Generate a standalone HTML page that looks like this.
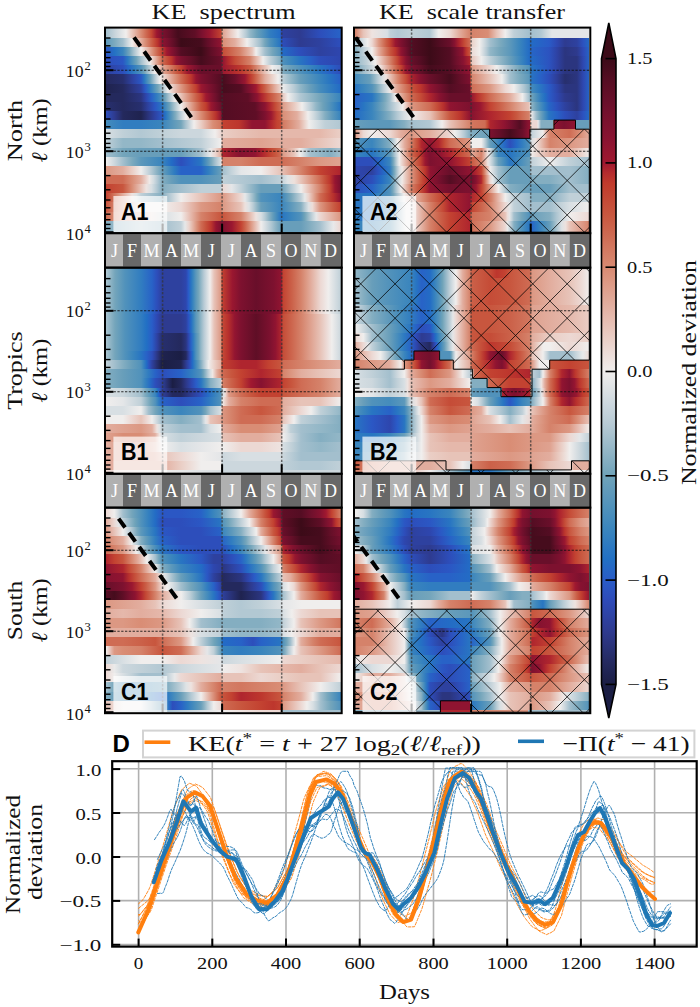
<!DOCTYPE html><html><head><meta charset="utf-8"><style>
body{margin:0;background:#fff;width:700px;height:1007px;overflow:hidden;position:relative}
#hm div{position:absolute}
svg{position:absolute;left:0;top:0}
text{font-family:"Liberation Serif",serif;fill:#111}
.mo{fill:#fff;font-size:18px;text-anchor:middle}
.tk{font-size:17px}
.cb{font-size:17px}
.lbl{font-size:21px}
.ttl{font-size:22px}
.lg{font-size:22px}
.gv{stroke:#333;stroke-width:1.5;stroke-dasharray:2.3 1.6;opacity:.7}
.gh{stroke:#111;stroke-width:1.1;stroke-dasharray:2.3 1.5;opacity:.85}
.pl{font-family:"Liberation Sans",sans-serif;font-weight:bold;font-size:23px;fill:#000}
</style></head><body><div id="hm"><div style="top:28px;height:11px;left:106.0px;width:234.7px;background:linear-gradient(90deg,#a3bfcd 0.0px,#ccd7dd 10.0px,#f0eeed 20.0px,#eacec5 25.0px,#e2ad9e 30.0px,#d98d75 35.0px,#ce6951 40.2px,#c44734 45.5px,#9d1730 50.8px,#7d112f 56.0px,#640f28 64.0px,#460c1d 72.0px,#5f0e26 89.0px,#7d112f 96.5px,#9a1730 104.0px,#c34231 115.0px,#cb6149 115.5px,#d5826a 116.0px,#dfa290 116.5px,#e6bcb0 121.7px,#ebd5ce 126.8px,#f0eeed 132.0px,#d4dce1 136.0px,#b7cbd5 140.0px,#93b7c7 144.0px,#6ba0b9 150.7px,#4d90bc 157.3px,#317dc0 164.0px,#236cc5 174.0px,#2c52c0 175.0px,#2e419f 176.0px,#2e3b90 194.0px,#2d4ebb 214.0px,#2862c7 234.0px)"></div>
<div style="top:38px;height:10px;left:106.0px;width:234.7px;background:linear-gradient(90deg,#5c98bb 0.0px,#7caabe 8.5px,#a3bfcd 17.0px,#ccd7dd 21.5px,#f0eeed 26.0px,#eacec5 30.5px,#e2ad9e 35.0px,#d98f78 39.2px,#d07058 43.4px,#c7523c 47.6px,#ba322d 51.8px,#901431 56.0px,#77112e 62.3px,#5b0e25 68.7px,#3c0b18 75.0px,#460c1d 95.0px,#620e28 101.7px,#7a112e 108.3px,#901431 115.0px,#b9322d 115.4px,#c6513b 115.8px,#cf6f57 116.1px,#d98d75 116.5px,#e2ad9e 129.0px,#eacec5 135.0px,#f0eeed 141.0px,#ccd7dd 147.5px,#a3bfcd 154.0px,#74a5bb 159.0px,#5192bb 164.0px,#3a85bd 169.0px,#2875c2 174.0px,#2862c7 175.0px,#2d4ebb 176.0px,#2e3b90 194.0px,#2e419f 214.0px,#2d4ebb 234.0px)"></div>
<div style="top:47px;height:10px;left:106.0px;width:234.7px;background:linear-gradient(90deg,#2b57c4 0.0px,#2471c4 8.5px,#3a85bd 17.0px,#5a97bb 20.6px,#7daabe 24.2px,#a9c3cf 27.8px,#ced9de 31.4px,#f0eeed 35.0px,#e9cbc3 39.2px,#e1a998 43.4px,#d7866e 47.6px,#cc634b 51.8px,#c34231 56.0px,#a01830 60.8px,#861230 65.5px,#6e102c 70.2px,#540d23 75.0px,#3c0b18 95.0px,#5f0e26 105.0px,#7d112f 115.0px,#931531 115.5px,#b8302d 116.0px,#c54c37 116.5px,#cd664e 125.2px,#d5826a 134.0px,#dfa290 140.0px,#e7c3b8 146.0px,#ecd8d3 148.0px,#f0eeed 150.0px,#ccd7dd 154.5px,#a3bfcd 159.0px,#74a5bb 166.5px,#5192bb 174.0px,#3581bf 175.0px,#236cc5 176.0px,#2d4ebb 194.0px,#2e419f 214.0px,#2e46ae 234.0px)"></div>
<div style="top:56px;height:10px;left:106.0px;width:234.7px;background:linear-gradient(90deg,#2d4ebb 0.0px,#2b57c4 17.0px,#2a77c2 21.5px,#4b8fbc 26.0px,#70a3b9 30.5px,#a3bfcd 35.0px,#ccd7dd 39.5px,#f0eeed 44.0px,#eacec5 47.0px,#e2ad9e 50.0px,#d98d75 53.0px,#cf6c54 56.0px,#c6513b 60.8px,#bd362d 65.5px,#951531 70.2px,#7d112f 75.0px,#640f28 85.0px,#460c1d 95.0px,#690f2a 115.0px,#7d112f 115.8px,#901431 116.5px,#b62d2d 122.8px,#c54c37 129.0px,#cd664e 136.5px,#d5826a 144.0px,#dd9d8a 147.2px,#e5b8ab 150.5px,#ebd3cc 153.8px,#f0eeed 157.0px,#d8dfe3 160.5px,#c0d0d8 164.0px,#a3bfcd 169.0px,#84aec1 174.0px,#689eba 175.0px,#5192bb 176.0px,#3a85bd 185.0px,#2875c2 194.0px,#2862c7 204.0px,#2d4ebb 214.0px,#2e46ae 234.0px)"></div>
<div style="top:65px;height:10px;left:106.0px;width:234.7px;background:linear-gradient(90deg,#2e419f 0.0px,#2d4ebb 17.0px,#2569c5 23.0px,#3480bf 29.0px,#5192bb 35.0px,#74a5bb 38.5px,#a3bfcd 42.0px,#ccd7dd 45.5px,#f0eeed 49.0px,#eacec5 52.5px,#e2ad9e 56.0px,#da927c 60.8px,#d2775f 65.5px,#c95b43 70.2px,#c34231 75.0px,#9d1830 81.7px,#831230 88.3px,#690f2a 95.0px,#690f2a 115.0px,#81122f 115.8px,#9a1730 116.5px,#bd362d 134.0px,#c8563e 144.0px,#d1735b 148.0px,#da907a 152.0px,#e2ad9e 156.0px,#eacec5 161.0px,#f0eeed 166.0px,#d8dfe3 174.0px,#b2c8d3 175.0px,#84aec1 176.0px,#689eba 185.0px,#5192bb 194.0px,#3a85bd 204.0px,#2875c2 214.0px,#2862c7 224.0px,#2d4ebb 234.0px)"></div>
<div style="top:74px;height:11px;left:106.0px;width:234.7px;background:linear-gradient(90deg,#24295d 0.0px,#272f6e 17.0px,#2e419f 26.0px,#2b57c4 35.0px,#2a77c2 38.2px,#498ebc 41.3px,#6da1b9 44.5px,#9ebccb 47.7px,#cad6dd 50.8px,#f0eeed 54.0px,#eacec5 59.2px,#e2ad9e 64.5px,#d98d75 69.8px,#cf6c54 75.0px,#c6513b 80.0px,#bd362d 85.0px,#951531 90.0px,#7d112f 95.0px,#690f2a 105.0px,#540d23 115.0px,#460c1d 116.5px,#690f2a 129.0px,#80122f 134.0px,#971630 139.0px,#bd362d 144.0px,#c7533d 147.8px,#d07159 151.5px,#da9079 155.2px,#e2ad9e 159.0px,#eacec5 165.5px,#f0eeed 172.0px,#e4e6e8 174.0px,#c0d0d8 176.0px,#93b7c7 185.0px,#689eba 194.0px,#5192bb 204.0px,#3a85bd 214.0px,#2875c2 224.0px,#2862c7 234.0px)"></div>
<div style="top:84px;height:10px;left:106.0px;width:234.7px;background:linear-gradient(90deg,#1f234f 0.0px,#24295d 17.0px,#2b357f 26.0px,#2e419f 35.0px,#2b59c6 39.2px,#2c78c1 43.4px,#4c8fbc 47.6px,#71a4b9 51.8px,#a3bfcd 56.0px,#ccd7dd 59.0px,#f0eeed 62.0px,#ead1ca 66.3px,#e4b4a7 70.7px,#dc9883 75.0px,#d37a62 80.0px,#c95b43 85.0px,#c23f2f 90.0px,#9a1730 95.0px,#831230 101.7px,#6d0f2b 108.3px,#540d23 115.0px,#460c1d 116.5px,#540d23 135.0px,#6e102c 140.0px,#861230 145.0px,#a01830 150.0px,#c34231 155.0px,#c95b43 158.5px,#d2775f 162.0px,#da927c 165.5px,#e2ad9e 169.0px,#e7c3b8 172.0px,#ecd8d3 175.0px,#f0eeed 176.0px,#d4dce1 182.0px,#b7cbd5 188.0px,#93b7c7 194.0px,#689eba 204.0px,#458cbc 214.0px,#317dc0 224.0px,#236cc5 234.0px)"></div>
<div style="top:93px;height:10px;left:106.0px;width:234.7px;background:linear-gradient(90deg,#24295d 0.0px,#24295d 17.0px,#2b357f 35.0px,#2e46ae 40.2px,#2862c7 45.5px,#317dc0 50.8px,#5192bb 56.0px,#74a5bb 59.2px,#a3bfcd 62.5px,#ccd7dd 65.8px,#f0eeed 69.0px,#ecd8d3 72.0px,#e7c3b8 75.0px,#dfa290 80.0px,#d5826a 85.0px,#cb6149 90.0px,#c34231 95.0px,#a01830 100.0px,#861230 105.0px,#6e102c 110.0px,#540d23 115.0px,#540d23 116.5px,#5f0e26 142.0px,#77112e 146.7px,#8c1331 151.3px,#af252e 156.0px,#c54c37 162.5px,#cf6c54 169.0px,#d98d75 175.0px,#e0a897 175.5px,#e7c3b8 176.0px,#ecd8d3 179.0px,#f0eeed 182.0px,#d2dbe0 188.0px,#b2c8d3 194.0px,#93b7c7 204.0px,#74a5bb 214.0px,#5695bb 224.0px,#3a85bd 234.0px)"></div>
<div style="top:102px;height:10px;left:106.0px;width:234.7px;background:linear-gradient(90deg,#272f6e 0.0px,#24295d 17.0px,#272f6e 35.0px,#2e419f 42.0px,#2b57c4 49.0px,#2875c2 56.0px,#478dbc 59.8px,#6ca1b9 63.6px,#9cbcca 67.4px,#c9d6dc 71.2px,#f0eeed 75.0px,#ead0c8 79.0px,#e3b2a3 83.0px,#db937e 87.0px,#d1755d 91.0px,#c8563e 95.0px,#c13d2d 100.0px,#9a1730 105.0px,#81122f 110.0px,#690f2a 115.0px,#540d23 116.5px,#5f0e26 149.0px,#77112e 154.0px,#8c1331 159.0px,#af252e 164.0px,#c54c37 169.5px,#cf6c54 175.0px,#d5826a 175.5px,#dc9883 176.0px,#e3b3a4 182.5px,#eacec5 189.0px,#f0eeed 196.0px,#d4dce1 200.7px,#b7cbd5 205.3px,#93b7c7 210.0px,#6da1b9 217.0px,#5192bb 224.0px,#3a85bd 229.0px,#2875c2 234.0px)"></div>
<div style="top:111px;height:10px;left:106.0px;width:234.7px;background:linear-gradient(90deg,#2d4ebb 0.0px,#2e3b90 8.5px,#24295d 17.0px,#1f234f 35.0px,#2a337a 42.0px,#2e43a4 49.0px,#2b57c4 56.0px,#2573c3 59.3px,#3e87bd 62.7px,#5c98bb 66.0px,#80acbf 69.5px,#aac3d0 73.0px,#cfd9df 76.5px,#f0eeed 80.0px,#eacec5 85.0px,#e2ad9e 90.0px,#d98d75 95.0px,#cf6f57 100.0px,#c6513b 105.0px,#b9322d 110.0px,#901431 115.0px,#73102d 115.8px,#540d23 116.5px,#5f0e26 150.0px,#7d112f 159.0px,#9a1730 165.0px,#c34231 171.0px,#c8563e 175.0px,#d07159 175.5px,#d98d75 176.0px,#e2ad9e 191.0px,#eacec5 196.5px,#f0eeed 202.0px,#d0dadf 207.7px,#adc5d1 213.3px,#84aec1 219.0px,#5c98bb 226.5px,#3a85bd 234.0px)"></div>
<div style="top:120px;height:10px;left:106.0px;width:234.7px;background:linear-gradient(90deg,#458cbc 0.0px,#317dc0 17.0px,#317dc0 35.0px,#3a85bd 56.0px,#5695bb 65.5px,#74a5bb 75.0px,#a3bfcd 79.3px,#ccd7dd 83.7px,#f0eeed 88.0px,#eacec5 95.0px,#e2ad9e 101.0px,#d98d75 107.0px,#d2775f 115.0px,#c95b43 115.8px,#c34231 116.5px,#bd362d 133.0px,#901431 146.0px,#901431 159.0px,#af252e 165.0px,#c34231 171.0px,#c54c37 175.0px,#cb6149 175.5px,#d2775f 176.0px,#da927c 184.5px,#e2ad9e 193.0px,#eacec5 198.0px,#f0eeed 203.0px,#d8dfe3 211.0px,#c0d0d8 219.0px,#b2c8d3 234.0px)"></div>
<div style="top:129px;height:10px;left:106.0px;width:234.7px;background:linear-gradient(90deg,#d8dfe3 0.0px,#c0d0d8 17.0px,#b2c8d3 35.0px,#c0d0d8 56.0px,#ccd7dd 75.0px,#ccd7dd 95.0px,#f0eeed 109.0px,#ecd8d3 115.0px,#eacec5 116.5px,#e7c3b8 134.0px,#e5b8ab 155.0px,#e5b8ab 175.0px,#e5b8ab 195.0px,#e5b8ab 214.0px,#eacec5 234.0px)"></div>
<div style="top:138px;height:11px;left:106.0px;width:234.7px;background:linear-gradient(90deg,#c0d0d8 0.0px,#93b7c7 17.0px,#93b7c7 35.0px,#a3bfcd 56.0px,#b2c8d3 75.0px,#c0d0d8 95.0px,#d8dfe3 105.0px,#f0eeed 115.0px,#eacec5 115.8px,#e2ad9e 116.5px,#dfa290 155.0px,#e2ad9e 175.0px,#e2ad9e 195.0px,#e7c3b8 214.0px,#ecd8d3 234.0px)"></div>
<div style="top:148px;height:10px;left:106.0px;width:234.7px;background:linear-gradient(90deg,#a3bfcd 0.0px,#74a5bb 17.0px,#689eba 35.0px,#689eba 56.0px,#689eba 75.0px,#84aec1 85.0px,#a3bfcd 95.0px,#c8d5dc 99.7px,#e8e9ea 104.3px,#ecd8d3 109.0px,#e7c3b8 112.0px,#e2ad9e 115.0px,#d98d75 115.4px,#cf6c54 115.8px,#c54c37 116.1px,#af252e 116.5px,#861230 134.0px,#901431 149.0px,#af252e 156.5px,#c34231 164.0px,#c8563e 169.5px,#cf6c54 175.0px,#d5826a 175.5px,#dc9883 176.0px,#e2ad9e 182.0px,#e7c3b8 188.0px,#ecd8d3 191.0px,#f0eeed 194.0px,#ccd7dd 199.0px,#a3bfcd 204.0px,#84aec1 224.0px,#a3bfcd 234.0px)"></div>
<div style="top:157px;height:10px;left:106.0px;width:234.7px;background:linear-gradient(90deg,#f0eeed 0.0px,#ccd7dd 8.5px,#a3bfcd 17.0px,#7caabe 26.0px,#5c98bb 35.0px,#3a85bd 56.0px,#236cc5 65.5px,#2d4ebb 75.0px,#2862c7 85.0px,#2875c2 95.0px,#3f88bd 98.5px,#5c98bb 102.0px,#7caabe 105.5px,#a3bfcd 109.0px,#c0d0d8 112.0px,#d8dfe3 115.0px,#eee3e0 115.4px,#e7c3b8 115.8px,#dfa290 116.1px,#d5826a 116.5px,#d5826a 135.0px,#cf6c54 155.0px,#cf6c54 175.0px,#d5826a 195.0px,#dc9883 214.0px,#dfa290 234.0px)"></div>
<div style="top:166px;height:10px;left:106.0px;width:234.7px;background:linear-gradient(90deg,#dc9883 0.0px,#e2ad9e 17.0px,#eacec5 26.0px,#f0eeed 35.0px,#d2dbe0 40.2px,#b2c8d3 45.5px,#8bb2c4 50.8px,#689eba 56.0px,#498ebc 62.3px,#2e7bc1 68.7px,#2862c7 75.0px,#2862c7 95.0px,#2e7bc1 101.7px,#498ebc 108.3px,#689eba 115.0px,#84aec1 115.8px,#a3bfcd 116.5px,#c6d4db 125.8px,#e4e6e8 135.0px,#f0eeed 155.0px,#ecd8d3 165.0px,#e7c3b8 175.0px,#dfa290 185.0px,#d5826a 195.0px,#cb6149 204.5px,#c34231 214.0px,#af252e 234.0px)"></div>
<div style="top:175px;height:10px;left:106.0px;width:234.7px;background:linear-gradient(90deg,#cf6c54 0.0px,#cf6c54 17.0px,#d98d75 26.0px,#e2ad9e 35.0px,#e9cbc3 39.2px,#efeae8 43.4px,#d3dce1 47.6px,#afc6d2 51.8px,#84aec1 56.0px,#689eba 65.5px,#5192bb 75.0px,#5192bb 95.0px,#689eba 115.0px,#93b7c7 115.8px,#c0d0d8 116.5px,#b2c8d3 135.0px,#a3bfcd 155.0px,#c0d0d8 175.0px,#e0e4e6 181.7px,#ede0db 188.3px,#e7c3b8 195.0px,#e0a695 201.3px,#d88971 207.7px,#cf6c54 214.0px,#c6513b 219.0px,#bd362d 224.0px,#951531 229.0px,#7d112f 234.0px)"></div>
<div style="top:184px;height:10px;left:106.0px;width:234.7px;background:linear-gradient(90deg,#c34231 0.0px,#c8563e 17.0px,#d07159 21.5px,#d98d75 26.0px,#e0a897 30.5px,#e7c3b8 35.0px,#eee3e0 40.2px,#d8dfe3 45.5px,#b2c8d3 50.8px,#84aec1 56.0px,#a3bfcd 75.0px,#c0d0d8 95.0px,#c0d0d8 115.0px,#e4e6e8 115.8px,#ecd8d3 116.5px,#e4e6e8 125.8px,#c0d0d8 135.0px,#93b7c7 145.0px,#689eba 155.0px,#689eba 175.0px,#8bb2c4 180.0px,#b2c8d3 185.0px,#d2dbe0 190.0px,#f0eeed 195.0px,#ebd3cc 199.8px,#e5b8ab 204.5px,#dd9d8a 209.2px,#d5826a 214.0px,#cb6149 219.0px,#c34231 224.0px,#9a1730 229.0px,#7d112f 234.0px)"></div>
<div style="top:193px;height:10px;left:106.0px;width:234.7px;background:linear-gradient(90deg,#c34231 0.0px,#c95b43 4.2px,#d2775f 8.5px,#da927c 12.8px,#e2ad9e 17.0px,#e8c8bf 21.5px,#eee3e0 26.0px,#dee3e5 30.5px,#c0d0d8 35.0px,#a3bfcd 45.5px,#84aec1 56.0px,#adc5d1 62.3px,#d0dadf 68.7px,#f0eeed 75.0px,#ecd8d3 85.0px,#e7c3b8 95.0px,#e2ad9e 105.0px,#dc9883 115.0px,#dc9883 116.5px,#e5b8ab 125.8px,#ecd8d3 135.0px,#e6e8e9 139.0px,#c4d3da 143.0px,#9cbcca 147.0px,#71a4b9 151.0px,#5192bb 155.0px,#3a85bd 175.0px,#5695bb 180.0px,#74a5bb 185.0px,#9bbbca 190.0px,#c0d0d8 195.0px,#e6e8e9 198.8px,#ebd4cd 202.6px,#e3b2a3 206.4px,#d98f78 210.2px,#cf6c54 214.0px,#c64f3a 220.7px,#b8302d 227.3px,#901431 234.0px)"></div>
<div style="top:202px;height:11px;left:106.0px;width:234.7px;background:linear-gradient(90deg,#c8563e 0.0px,#d1735b 5.7px,#da907a 11.3px,#e2ad9e 17.0px,#eacec5 26.0px,#f0eeed 35.0px,#f0eeed 56.0px,#ecd8d3 75.0px,#e5b8ab 85.0px,#dc9883 95.0px,#d5826a 115.0px,#dc9883 116.5px,#e2ad9e 125.8px,#e7c3b8 135.0px,#ede1dd 139.0px,#dde2e5 143.0px,#bbcdd6 147.0px,#90b5c5 151.0px,#689eba 155.0px,#5192bb 165.0px,#3a85bd 175.0px,#5c98bb 185.0px,#84aec1 195.0px,#b5cad4 198.8px,#dde2e5 202.6px,#edddd8 206.4px,#e5baae 210.2px,#dc9883 214.0px,#d37a62 220.7px,#ca5d45 227.3px,#c34231 234.0px)"></div>
<div style="top:212px;height:10px;left:106.0px;width:234.7px;background:linear-gradient(90deg,#cf6c54 0.0px,#d98d75 8.5px,#e2ad9e 17.0px,#e7c3b8 35.0px,#eee3e0 45.5px,#d8dfe3 56.0px,#f0eeed 75.0px,#ebd3cc 80.0px,#e5b8ab 85.0px,#dd9d8a 90.0px,#d5826a 95.0px,#cf6c54 105.0px,#c8563e 115.0px,#c8563e 116.5px,#cf6c54 125.8px,#d5826a 135.0px,#dfa290 140.0px,#e7c3b8 145.0px,#eee3e0 150.0px,#d8dfe3 155.0px,#b5cad4 159.0px,#8ab1c3 163.0px,#639cba 167.0px,#438abc 171.0px,#2875c2 175.0px,#3a85bd 185.0px,#5192bb 195.0px,#71a4b9 198.8px,#9cbcca 202.6px,#c4d3da 206.4px,#e6e8e9 210.2px,#ecd8d3 214.0px,#e5b8ab 224.0px,#dc9883 234.0px)"></div>
<div style="top:221px;height:11px;left:106.0px;width:234.7px;background:linear-gradient(90deg,#84aec1 0.0px,#a3bfcd 17.0px,#c0d0d8 35.0px,#a3bfcd 56.0px,#c0d0d8 75.0px,#e6e8e9 79.0px,#ebd4cd 83.0px,#e3b2a3 87.0px,#d98f78 91.0px,#cf6c54 95.0px,#c6513b 100.0px,#bd362d 105.0px,#951531 110.0px,#7d112f 115.0px,#7d112f 116.5px,#9a1730 125.8px,#c34231 135.0px,#cc634b 139.0px,#d7866e 143.0px,#e1a998 147.0px,#e9cbc3 151.0px,#f0eeed 155.0px,#d2dbe0 160.0px,#b2c8d3 165.0px,#8bb2c4 170.0px,#689eba 175.0px,#689eba 195.0px,#84aec1 204.5px,#a3bfcd 214.0px,#c8d5dc 220.7px,#e8e9ea 227.3px,#ecd8d3 234.0px)"></div>
<div style="top:28px;height:11px;left:355.0px;width:234.3px;background:linear-gradient(90deg,#d5826a 0.0px,#dfa290 4.1px,#e7c3b8 8.3px,#eee3e0 17.0px,#d8dfe3 32.3px,#c0d0d8 35.0px,#b2c8d3 42.6px,#c0d0d8 56.0px,#b2c8d3 75.0px,#d2dbe0 79.4px,#f0eeed 83.7px,#ecd8d3 95.0px,#e7c3b8 99.6px,#e2ad9e 104.3px,#dc9883 109.6px,#d5826a 115.0px,#d5826a 116.0px,#d98d75 133.1px,#e0a897 137.4px,#e7c3b8 141.7px,#ecd8d3 146.0px,#f0eeed 150.3px,#d8dfe3 154.6px,#c0d0d8 158.9px,#a3bfcd 174.3px,#a3bfcd 176.0px,#b2c8d3 186.0px,#ccd7dd 191.5px,#e4e6e8 197.0px,#e4e6e8 234.6px)"></div>
<div style="top:38px;height:10px;left:355.0px;width:234.3px;background:linear-gradient(90deg,#a3bfcd 0.0px,#c0d0d8 4.1px,#d8dfe3 8.3px,#f0eeed 12.6px,#ecd8d3 17.0px,#e5b8ab 20.4px,#dc9883 23.7px,#d37a62 27.5px,#ca5d45 31.2px,#c34231 35.0px,#9a1730 40.5px,#7d112f 46.0px,#690f2a 51.0px,#540d23 56.0px,#3c0b18 75.0px,#540d23 85.0px,#690f2a 95.0px,#861230 99.6px,#af252e 104.3px,#c54c37 109.6px,#cf6c54 115.0px,#d98d75 115.3px,#e2ad9e 115.7px,#eacec5 116.0px,#f0eeed 124.6px,#ccd7dd 129.8px,#a3bfcd 135.0px,#7caabe 145.0px,#5c98bb 155.0px,#3a85bd 164.6px,#236cc5 174.3px,#236cc5 176.0px,#2a5bc7 194.0px,#2e48b2 202.0px,#2e3b90 210.0px,#2e419f 222.0px,#2c52c0 228.3px,#236cc5 234.6px)"></div>
<div style="top:47px;height:10px;left:355.0px;width:234.3px;background:linear-gradient(90deg,#84aec1 0.0px,#adc5d1 5.7px,#d0dadf 11.3px,#f0eeed 17.0px,#eacec5 20.4px,#e2ad9e 23.7px,#da907a 27.5px,#d1735b 31.2px,#c8563e 35.0px,#bd362d 40.5px,#901431 46.0px,#73102d 51.0px,#540d23 56.0px,#3c0b18 75.0px,#540d23 95.0px,#73102d 101.4px,#901431 107.7px,#bd362d 111.4px,#c8563e 115.0px,#d2775f 115.2px,#dc9883 115.5px,#e5b8ab 115.8px,#ecd8d3 116.0px,#f0eeed 124.6px,#d4dce1 128.1px,#b7cbd5 131.5px,#93b7c7 135.0px,#74a5bb 145.0px,#5c98bb 155.0px,#3a85bd 164.6px,#236cc5 174.3px,#2666c6 176.0px,#2c53c0 194.0px,#2e42a4 202.0px,#2b357f 210.0px,#2e3a8d 222.0px,#2e4ab8 228.3px,#2666c6 234.6px)"></div>
<div style="top:56px;height:10px;left:355.0px;width:234.3px;background:linear-gradient(90deg,#93b7c7 0.0px,#c0d0d8 11.7px,#d8dfe3 16.0px,#f0eeed 20.3px,#ebd3cc 24.0px,#e5b8ab 27.6px,#dd9d8a 31.3px,#d5826a 35.0px,#cc644c 38.7px,#c44835 42.3px,#af252e 46.0px,#861230 51.0px,#690f2a 56.0px,#540d23 65.5px,#3c0b18 75.0px,#540d23 95.0px,#70102c 101.7px,#891331 108.3px,#af252e 115.0px,#c54a36 115.2px,#cd674f 115.4px,#d7866e 115.6px,#dfa593 115.8px,#e7c3b8 116.0px,#ecd8d3 121.1px,#f0eeed 126.3px,#d8dfe3 130.6px,#c0d0d8 135.0px,#93b7c7 145.0px,#689eba 155.0px,#4d90bc 161.4px,#3480bf 167.9px,#236cc5 174.3px,#236cc5 176.0px,#2c53c0 194.0px,#2e42a4 202.0px,#2b357f 210.0px,#2b357f 222.0px,#2e48b2 228.3px,#2666c6 234.6px)"></div>
<div style="top:65px;height:10px;left:355.0px;width:234.3px;background:linear-gradient(90deg,#74a5bb 0.0px,#9bbbca 7.6px,#c0d0d8 15.1px,#d8dfe3 19.4px,#f0eeed 23.7px,#ead1ca 27.5px,#e4b4a7 31.2px,#dc9883 35.0px,#d37a62 38.7px,#ca5d45 42.3px,#c34231 46.0px,#9a1730 51.0px,#7d112f 56.0px,#640f28 65.5px,#460c1d 75.0px,#540d23 95.0px,#73102d 105.0px,#901431 115.0px,#bd362d 115.2px,#c8563e 115.5px,#d2775f 115.8px,#dc9883 116.0px,#e5b8ab 125.5px,#ecd8d3 135.0px,#f0eeed 141.7px,#ccd7dd 148.4px,#a3bfcd 155.0px,#74a5bb 164.6px,#5192bb 174.3px,#3a85bd 175.1px,#2875c2 176.0px,#2665c6 185.0px,#2c53c0 194.0px,#2e42a4 202.0px,#2b357f 210.0px,#2b357f 222.0px,#2e48b2 228.3px,#2666c6 234.6px)"></div>
<div style="top:74px;height:11px;left:355.0px;width:234.3px;background:linear-gradient(90deg,#458cbc 0.0px,#689eba 15.1px,#8eb4c5 19.1px,#b7cbd5 23.1px,#d8dfe3 27.1px,#eee3e0 31.1px,#e7c3b8 35.0px,#e0a695 38.7px,#d88971 42.3px,#cf6c54 46.0px,#c54c37 51.0px,#af252e 56.0px,#861230 65.5px,#690f2a 75.0px,#460c1d 95.0px,#640f28 105.0px,#7d112f 115.0px,#9a1730 115.2px,#c34231 115.5px,#cb6149 115.8px,#d5826a 116.0px,#dfa290 125.5px,#e7c3b8 135.0px,#ecd8d3 140.9px,#f0eeed 146.9px,#ccd7dd 150.9px,#a3bfcd 155.0px,#7caabe 164.6px,#5c98bb 174.3px,#3f88bd 175.1px,#2875c2 176.0px,#2862c7 185.0px,#2d4ebb 194.0px,#2e3e98 202.0px,#272f6e 210.0px,#2b357f 222.0px,#2e48b2 228.3px,#2666c6 234.6px)"></div>
<div style="top:84px;height:10px;left:355.0px;width:234.3px;background:linear-gradient(90deg,#2875c2 0.0px,#3a85bd 8.5px,#5192bb 17.0px,#6da1b9 20.8px,#93b7c7 24.6px,#baccd6 28.5px,#d8dfe3 32.3px,#efe7e4 35.2px,#e9cac1 38.0px,#e2ad9e 40.9px,#da907a 45.9px,#d1735b 51.0px,#c8563e 56.0px,#bd362d 65.5px,#901431 75.0px,#73102d 85.0px,#540d23 95.0px,#690f2a 115.0px,#861230 115.2px,#af252e 115.5px,#c54c37 115.8px,#cf6c54 116.0px,#d5826a 125.5px,#dc9883 135.0px,#e5b8ab 142.6px,#ecd8d3 150.3px,#f0eeed 158.9px,#d0dadf 164.0px,#adc5d1 169.2px,#84aec1 174.3px,#629bba 175.1px,#458cbc 176.0px,#2a77c2 185.0px,#2a5bc7 194.0px,#2e45aa 202.0px,#2b357f 210.0px,#2b357f 222.0px,#2e48b2 228.3px,#2666c6 234.6px)"></div>
<div style="top:93px;height:10px;left:355.0px;width:234.3px;background:linear-gradient(90deg,#2862c7 0.0px,#2875c2 17.0px,#3f88bd 21.5px,#5c98bb 26.0px,#7caabe 30.5px,#a3bfcd 35.0px,#ccd7dd 37.8px,#f0eeed 40.5px,#eacec5 43.2px,#e2ad9e 46.0px,#d98d75 51.0px,#cf6c54 56.0px,#c54c37 65.5px,#af252e 75.0px,#861230 85.0px,#690f2a 95.0px,#690f2a 115.0px,#7d112f 115.5px,#901431 116.0px,#b8302d 122.3px,#c64f3a 128.7px,#cf6c54 135.0px,#d98d75 145.0px,#e2ad9e 155.0px,#eacec5 161.2px,#f0eeed 167.4px,#ccd7dd 170.8px,#a3bfcd 174.3px,#74a5bb 176.0px,#5192bb 181.0px,#317dc0 186.0px,#236fc4 190.0px,#2a5bc7 194.0px,#2e47b0 202.0px,#2e3a8d 210.0px,#2b357f 222.0px,#2e48b2 228.3px,#2666c6 234.6px)"></div>
<div style="top:102px;height:10px;left:355.0px;width:234.3px;background:linear-gradient(90deg,#2862c7 0.0px,#2875c2 8.5px,#3a85bd 17.0px,#5896bb 23.0px,#79a8bd 29.0px,#a3bfcd 35.0px,#ccd7dd 41.4px,#f0eeed 47.7px,#ead1ca 50.5px,#e4b4a7 53.2px,#dc9883 56.0px,#d5826a 65.5px,#cf6c54 75.0px,#c64f3a 81.7px,#b8302d 88.3px,#901431 95.0px,#7d112f 115.0px,#7d112f 116.0px,#9a1730 125.5px,#c34231 135.0px,#cb6149 145.0px,#d5826a 155.0px,#dc9883 161.2px,#e2ad9e 167.4px,#e7c3b8 174.3px,#ede0dd 174.7px,#dee3e5 175.1px,#bdced7 175.6px,#93b7c7 176.0px,#689eba 181.0px,#458cbc 186.0px,#2e7bc1 190.0px,#2666c6 194.0px,#2d50bd 202.0px,#2e419f 210.0px,#2b357f 222.0px,#2e48b2 228.3px,#2666c6 234.6px)"></div>
<div style="top:111px;height:10px;left:355.0px;width:234.3px;background:linear-gradient(90deg,#236cc5 0.0px,#3a85bd 17.0px,#5c98bb 26.0px,#84aec1 35.0px,#b2c8d3 42.2px,#d8dfe3 49.4px,#f0eeed 56.0px,#ecd8d3 65.5px,#e7c3b8 75.0px,#e0a897 80.0px,#d98d75 85.0px,#d07159 90.0px,#c8563e 95.0px,#bd362d 105.0px,#901431 115.0px,#861230 116.0px,#af252e 135.0px,#c34231 155.0px,#c8563e 161.2px,#cf6c54 167.4px,#d5826a 174.3px,#dd9d8a 174.7px,#e5b8ab 175.1px,#ebd3cc 175.6px,#f0eeed 176.0px,#ccd7dd 178.5px,#a3bfcd 181.0px,#7caabe 184.2px,#5c98bb 187.5px,#3f88bd 190.8px,#2875c2 194.0px,#2862c7 202.0px,#2d4ebb 210.0px,#2e419f 222.0px,#2c52c0 228.3px,#236cc5 234.6px)"></div>
<div style="top:120px;height:10px;left:355.0px;width:234.3px;background:linear-gradient(90deg,#689eba 0.0px,#5c98bb 17.0px,#5c98bb 35.0px,#84aec1 49.4px,#a3bfcd 56.0px,#b2c8d3 75.0px,#d2dbe0 81.1px,#f0eeed 87.1px,#ecd8d3 91.1px,#e7c3b8 95.0px,#dfa290 105.0px,#d5826a 115.0px,#d2775f 116.0px,#cf6c54 130.0px,#c54c37 132.5px,#af252e 135.0px,#901431 149.0px,#73102d 157.0px,#540d23 165.0px,#73102d 169.8px,#901431 174.5px,#bd362d 174.8px,#c8563e 175.0px,#d2775f 175.2px,#dc9883 175.5px,#e5b8ab 175.8px,#ecd8d3 176.0px,#ecd8d3 182.0px,#eaeaea 183.0px,#ccd7dd 184.0px,#aac3d0 185.0px,#84aec1 186.0px,#84aec1 198.0px,#b4c9d3 198.1px,#dae1e4 198.2px,#ede0db 198.3px,#e6beb2 198.4px,#dd9c89 198.6px,#d37a62 198.7px,#c85840 198.8px,#be372c 198.9px,#901431 199.0px,#7d112f 209.0px,#901431 220.0px,#bd362d 220.1px,#c8563e 220.2px,#d2775f 220.3px,#dc9883 220.4px,#e5b8ab 220.5px,#ecd8d3 220.6px,#e4e6e8 220.7px,#c0d0d8 220.8px,#93b7c7 220.9px,#689eba 221.0px,#689eba 234.6px)"></div>
<div style="top:129px;height:10px;left:355.0px;width:234.3px;background:linear-gradient(90deg,#dc9883 0.0px,#e5b8ab 4.1px,#ecd8d3 8.3px,#f0eeed 17.0px,#ecd8d3 35.0px,#e7c3b8 40.5px,#e2ad9e 46.0px,#dc9883 56.0px,#e2ad9e 75.0px,#e7c3b8 85.0px,#ecd8d3 95.0px,#f0eeed 99.6px,#d8dfe3 104.3px,#b2c8d3 109.6px,#84aec1 115.0px,#84aec1 116.0px,#689eba 134.0px,#96b8c8 134.1px,#c4d3da 134.1px,#ebebeb 134.2px,#ead0c8 134.2px,#e2ad9e 134.3px,#d88b73 134.4px,#cd674f 134.4px,#c44633 134.5px,#9c1730 134.5px,#7d112f 134.6px,#640f28 144.8px,#460c1d 155.0px,#690f2a 167.4px,#7d112f 171.0px,#901431 174.5px,#bd362d 174.7px,#c8563e 174.9px,#d2775f 175.1px,#dc9883 175.2px,#e5b8ab 175.4px,#ecd8d3 175.6px,#e4e6e8 175.8px,#c0d0d8 176.0px,#d8dfe3 182.0px,#f0eeed 188.0px,#ead1ca 189.7px,#e4b4a7 191.3px,#dc9883 193.0px,#d5826a 195.0px,#cf6c54 214.6px,#d98d75 224.6px,#e2ad9e 234.6px)"></div>
<div style="top:138px;height:11px;left:355.0px;width:234.3px;background:linear-gradient(90deg,#5192bb 0.0px,#3a85bd 17.0px,#5c98bb 26.0px,#84aec1 35.0px,#adc5d1 37.5px,#d0dadf 40.1px,#f0eeed 42.6px,#eacec5 46.0px,#e2ad9e 49.4px,#dc9883 52.7px,#d5826a 56.0px,#cc644c 59.5px,#c44835 63.1px,#af252e 66.6px,#901431 75.0px,#af252e 83.7px,#c54c37 89.4px,#cf6c54 95.0px,#d5826a 105.0px,#dc9883 115.0px,#e4b4a7 115.3px,#ead1ca 115.7px,#f0eeed 116.0px,#f0eeed 126.3px,#d2dbe0 128.5px,#b2c8d3 130.6px,#8bb2c4 132.8px,#689eba 135.0px,#4b8fbc 140.0px,#317dc0 145.0px,#2667c6 150.0px,#2d4ebb 155.0px,#2569c5 161.5px,#3480bf 168.0px,#5192bb 174.5px,#6da1b9 174.9px,#93b7c7 175.2px,#baccd6 175.6px,#d8dfe3 176.0px,#eee3e0 180.8px,#e7c3b8 185.5px,#dfa290 190.2px,#d5826a 195.0px,#dc9883 214.6px,#e2ad9e 234.6px)"></div>
<div style="top:148px;height:10px;left:355.0px;width:234.3px;background:linear-gradient(90deg,#3a85bd 0.0px,#2875c2 17.0px,#3f88bd 26.0px,#5c98bb 35.0px,#80acbf 37.3px,#aac3d0 39.6px,#cfd9df 42.0px,#f0eeed 44.3px,#eacec5 47.2px,#e2ad9e 50.1px,#d98d75 53.1px,#cf6c54 56.0px,#c6513b 60.8px,#bd362d 65.5px,#951531 70.2px,#7d112f 75.0px,#901431 85.0px,#af252e 95.0px,#c54c37 105.0px,#cf6c54 115.0px,#d98d75 115.5px,#e2ad9e 116.0px,#dc9883 121.1px,#d5826a 126.3px,#dfa290 128.5px,#e7c3b8 130.6px,#eee3e0 132.8px,#d8dfe3 135.0px,#b2c8d3 137.1px,#84aec1 139.2px,#5c98bb 141.3px,#3a85bd 143.4px,#2875c2 155.0px,#3a85bd 164.8px,#5192bb 174.5px,#74a5bb 174.9px,#a3bfcd 175.2px,#ccd7dd 175.6px,#f0eeed 176.0px,#eacec5 185.5px,#e2ad9e 195.0px,#e2ad9e 214.6px,#eacec5 224.6px,#f0eeed 234.6px)"></div>
<div style="top:157px;height:10px;left:355.0px;width:234.3px;background:linear-gradient(90deg,#2d4ebb 0.0px,#2d4ebb 17.0px,#236cc5 26.0px,#3a85bd 35.0px,#5a97bb 36.9px,#7daabe 38.7px,#a9c3cf 40.6px,#ced9de 42.4px,#f0eeed 44.3px,#ebd3cc 47.2px,#e5b8ab 50.1px,#dd9d8a 53.1px,#d5826a 56.0px,#cb6149 60.8px,#c34231 65.5px,#9a1730 70.2px,#7d112f 75.0px,#901431 95.0px,#af252e 105.0px,#c34231 115.0px,#c8563e 116.0px,#cf6c54 121.1px,#d5826a 126.3px,#dfa290 128.5px,#e7c3b8 130.6px,#eee3e0 132.8px,#d8dfe3 135.0px,#b7cbd5 137.8px,#8eb4c5 140.6px,#689eba 143.4px,#458cbc 149.2px,#2875c2 155.0px,#458cbc 164.8px,#689eba 174.5px,#93b7c7 175.2px,#c0d0d8 176.0px,#d8dfe3 185.5px,#f0eeed 195.0px,#d8dfe3 204.8px,#c0d0d8 214.6px,#a3bfcd 234.6px)"></div>
<div style="top:166px;height:10px;left:355.0px;width:234.3px;background:linear-gradient(90deg,#2e46ae 0.0px,#2e419f 17.0px,#2c51be 23.0px,#2569c5 29.0px,#317dc0 35.0px,#5393bb 37.3px,#7caabe 39.6px,#aec6d1 42.0px,#d8dfe3 44.3px,#efe9e6 47.2px,#eacec5 50.1px,#e3b3a4 53.1px,#dc9883 56.0px,#d2775f 60.8px,#c8563e 65.5px,#bd362d 70.2px,#901431 75.0px,#7d112f 85.0px,#690f2a 95.0px,#7d112f 105.0px,#901431 115.0px,#901431 116.0px,#af252e 121.1px,#c34231 126.3px,#cc634b 128.0px,#d7866e 129.8px,#e1a998 131.5px,#e9cbc3 133.3px,#f0eeed 135.0px,#ccd7dd 139.2px,#a3bfcd 143.4px,#84aec1 149.2px,#689eba 155.0px,#689eba 174.5px,#84aec1 175.2px,#a3bfcd 176.0px,#a3bfcd 195.0px,#a3bfcd 214.6px,#84aec1 234.6px)"></div>
<div style="top:175px;height:10px;left:355.0px;width:234.3px;background:linear-gradient(90deg,#2e419f 0.0px,#2d4ebb 17.0px,#236cc5 26.0px,#3a85bd 35.0px,#5c98bb 37.3px,#84aec1 39.6px,#b2c8d3 42.0px,#d8dfe3 44.3px,#efe9e6 47.2px,#eacec5 50.1px,#e3b3a4 53.1px,#dc9883 56.0px,#d2775f 60.8px,#c8563e 65.5px,#bd362d 70.2px,#901431 75.0px,#73102d 85.0px,#540d23 95.0px,#690f2a 105.0px,#7d112f 115.0px,#690f2a 116.0px,#861230 121.1px,#af252e 126.3px,#c64e39 128.0px,#d07058 129.8px,#db937e 131.5px,#e4b6a8 133.3px,#ecd8d3 135.0px,#e8e9ea 137.8px,#c8d5dc 140.6px,#a3bfcd 143.4px,#84aec1 149.2px,#689eba 155.0px,#689eba 174.5px,#84aec1 176.0px,#84aec1 195.0px,#a3bfcd 214.6px,#84aec1 234.6px)"></div>
<div style="top:184px;height:10px;left:355.0px;width:234.3px;background:linear-gradient(90deg,#2d4ebb 0.0px,#2862c7 17.0px,#317dc0 26.0px,#5192bb 35.0px,#74a5bb 37.8px,#a3bfcd 40.5px,#ccd7dd 43.2px,#f0eeed 46.0px,#ebd3cc 48.5px,#e5b8ab 51.0px,#dd9d8a 53.5px,#d5826a 56.0px,#cd664e 60.8px,#c54c37 65.5px,#b62d2d 70.2px,#901431 75.0px,#73102d 95.0px,#7d112f 115.0px,#7d112f 116.0px,#9a1730 121.1px,#c34231 126.3px,#c95b43 128.9px,#d2775f 131.5px,#da927c 134.0px,#e2ad9e 136.6px,#eacec5 140.0px,#f0eeed 143.4px,#d0dadf 147.3px,#adc5d1 151.1px,#84aec1 155.0px,#689eba 174.5px,#689eba 176.0px,#689eba 195.0px,#84aec1 204.8px,#a3bfcd 214.6px,#a3bfcd 234.6px)"></div>
<div style="top:193px;height:10px;left:355.0px;width:234.3px;background:linear-gradient(90deg,#2875c2 0.0px,#2875c2 17.0px,#3a85bd 26.0px,#5192bb 35.0px,#74a5bb 38.5px,#a3bfcd 42.0px,#ccd7dd 45.5px,#f0eeed 49.0px,#ecd8d3 52.5px,#e7c3b8 56.0px,#e0a695 62.3px,#d88971 68.7px,#cf6c54 75.0px,#c54c37 85.0px,#af252e 95.0px,#901431 115.0px,#af252e 116.0px,#c34231 126.3px,#cb6149 131.5px,#d5826a 136.6px,#dd9d8a 140.0px,#e5b8ab 143.5px,#ebd3cc 146.9px,#f0eeed 150.3px,#d8dfe3 154.6px,#c0d0d8 158.9px,#a3bfcd 174.5px,#84aec1 176.0px,#84aec1 195.0px,#a3bfcd 204.8px,#c0d0d8 214.6px,#c0d0d8 234.6px)"></div>
<div style="top:202px;height:11px;left:355.0px;width:234.3px;background:linear-gradient(90deg,#2875c2 0.0px,#2875c2 17.0px,#3a85bd 26.0px,#5192bb 35.0px,#74a5bb 39.0px,#a3bfcd 43.0px,#ccd7dd 47.0px,#f0eeed 51.0px,#f0eeed 56.0px,#ebd3cc 60.8px,#e5b8ab 65.5px,#dd9d8a 70.2px,#d5826a 75.0px,#cc644c 81.7px,#c44835 88.3px,#af252e 95.0px,#901431 115.0px,#af252e 115.5px,#c34231 116.0px,#cb6149 125.5px,#d5826a 135.0px,#de9f8c 140.1px,#e6bcb0 145.2px,#ecd8d3 150.3px,#e4e6e8 154.6px,#c0d0d8 158.9px,#a3bfcd 174.5px,#a3bfcd 176.0px,#a3bfcd 195.0px,#c0d0d8 204.8px,#d8dfe3 214.6px,#f0eeed 234.6px)"></div>
<div style="top:212px;height:10px;left:355.0px;width:234.3px;background:linear-gradient(90deg,#2875c2 0.0px,#2875c2 17.0px,#3a85bd 26.0px,#5192bb 35.0px,#74a5bb 39.0px,#a3bfcd 43.0px,#ccd7dd 47.0px,#f0eeed 51.0px,#f0eeed 56.0px,#ebd3cc 60.8px,#e5b8ab 65.5px,#dd9d8a 70.2px,#d5826a 75.0px,#cb6149 85.0px,#c34231 95.0px,#af252e 115.0px,#c54c37 115.5px,#cf6c54 116.0px,#d5826a 135.0px,#dfa290 142.6px,#e7c3b8 150.3px,#edded9 152.4px,#e4e6e8 154.6px,#c6d4db 156.8px,#a3bfcd 158.9px,#74a5bb 166.7px,#5192bb 174.5px,#689eba 176.0px,#84aec1 195.0px,#adc5d1 201.5px,#d0dadf 208.1px,#f0eeed 214.6px,#ecd8d3 234.6px)"></div>
<div style="top:221px;height:11px;left:355.0px;width:234.3px;background:linear-gradient(90deg,#3a85bd 0.0px,#3a85bd 17.0px,#5192bb 26.0px,#689eba 35.0px,#8bb2c4 39.0px,#b2c8d3 43.0px,#d2dbe0 47.0px,#f0eeed 51.0px,#f0eeed 56.0px,#ebd3cc 60.8px,#e5b8ab 65.5px,#dd9d8a 70.2px,#d5826a 75.0px,#cb6149 85.0px,#c34231 95.0px,#af252e 115.0px,#c54c37 115.5px,#cf6c54 116.0px,#d5826a 125.5px,#dc9883 135.0px,#e5b8ab 142.6px,#ecd8d3 150.3px,#eaeaea 152.4px,#ccd7dd 154.6px,#aac3d0 156.8px,#84aec1 158.9px,#609aba 164.1px,#4189bd 169.3px,#2875c2 174.5px,#2862c7 176.0px,#2e7bc1 182.3px,#498ebc 188.7px,#689eba 195.0px,#90b5c5 198.9px,#bbcdd6 202.8px,#dde2e5 206.8px,#ede1dd 210.7px,#e7c3b8 214.6px,#dfa290 224.6px,#d5826a 234.6px)"></div>
<div style="top:268px;height:11px;left:106.0px;width:234.7px;background:linear-gradient(90deg,#b2c8d3 0.0px,#93b7c7 4.5px,#74a5bb 9.0px,#5192bb 19.0px,#317dc0 35.0px,#2862c7 46.0px,#2d4ebb 51.0px,#2e419f 56.0px,#2e419f 75.0px,#2e46ae 80.0px,#2a5cc8 82.5px,#2875c2 85.0px,#3f88bd 87.5px,#5c98bb 90.0px,#74a5bb 92.5px,#93b7c7 95.0px,#b7cad5 97.9px,#d3dce1 100.9px,#f0eeed 104.0px,#ecd8d3 106.0px,#e7c3b8 108.0px,#e2ad9e 111.5px,#dc9883 115.0px,#d37a62 115.3px,#ca5d45 115.7px,#c34231 116.0px,#9a1730 126.3px,#7d112f 135.0px,#690f2a 150.3px,#7d112f 167.4px,#901431 175.0px,#af252e 175.9px,#c34231 176.9px,#cb6149 185.9px,#d5826a 195.0px,#dc9883 200.0px,#e2ad9e 205.0px,#e7c3b8 209.8px,#ecd8d3 214.5px,#f0eeed 222.3px,#d8dfe3 228.5px,#c0d0d8 234.6px)"></div>
<div style="top:278px;height:10px;left:106.0px;width:234.7px;background:linear-gradient(90deg,#a9c3cf 0.0px,#8eb4c5 4.5px,#74a5bb 9.0px,#5192bb 19.0px,#317dc0 35.0px,#2862c7 46.0px,#2d4ebb 51.0px,#2e419f 56.0px,#2e419f 75.0px,#2e46ae 80.0px,#2a5cc8 82.5px,#2875c2 85.0px,#3f88bd 87.5px,#5c98bb 90.0px,#74a5bb 92.5px,#93b7c7 95.0px,#b7cad5 97.9px,#d3dce1 100.9px,#f0eeed 104.0px,#ecd8d3 106.0px,#e7c3b8 108.0px,#e2ad9e 111.5px,#dc9883 115.0px,#d37a62 115.3px,#ca5d45 115.7px,#c34231 116.0px,#9a1730 126.3px,#7d112f 135.0px,#690f2a 150.3px,#7d112f 167.4px,#901431 175.0px,#af252e 175.9px,#c34231 176.9px,#cb6149 185.9px,#d5826a 195.0px,#dc9883 200.0px,#e2ad9e 205.0px,#e7c3b8 209.8px,#ecd8d3 214.5px,#f0eeed 222.3px,#d8dfe3 228.5px,#c0d0d8 234.6px)"></div>
<div style="top:287px;height:10px;left:106.0px;width:234.7px;background:linear-gradient(90deg,#a9c3cf 0.0px,#8eb4c5 4.5px,#74a5bb 9.0px,#5192bb 19.0px,#317dc0 35.0px,#2862c7 46.0px,#2d4ebb 51.0px,#2e419f 56.0px,#2e419f 75.0px,#2e46ae 80.0px,#2a5cc8 82.5px,#2875c2 85.0px,#3f88bd 87.5px,#5c98bb 90.0px,#74a5bb 92.5px,#93b7c7 95.0px,#b7cad5 97.9px,#d3dce1 100.9px,#f0eeed 104.0px,#ecd8d3 106.0px,#e7c3b8 108.0px,#e2ad9e 111.5px,#dc9883 115.0px,#d37a62 115.3px,#ca5d45 115.7px,#c34231 116.0px,#9a1730 126.3px,#7d112f 135.0px,#690f2a 150.3px,#7d112f 167.4px,#901431 175.0px,#af252e 175.9px,#c34231 176.9px,#cb6149 185.9px,#d5826a 195.0px,#dc9883 200.0px,#e2ad9e 205.0px,#e7c3b8 209.8px,#ecd8d3 214.5px,#f0eeed 222.3px,#d8dfe3 228.5px,#c0d0d8 234.6px)"></div>
<div style="top:296px;height:10px;left:106.0px;width:234.7px;background:linear-gradient(90deg,#a9c3cf 0.0px,#8eb4c5 4.5px,#74a5bb 9.0px,#5192bb 19.0px,#317dc0 35.0px,#2862c7 46.0px,#2d4ebb 51.0px,#2e419f 56.0px,#2e419f 75.0px,#2e46ae 80.0px,#2a5cc8 82.5px,#2875c2 85.0px,#3f88bd 87.5px,#5c98bb 90.0px,#74a5bb 92.5px,#93b7c7 95.0px,#b7cad5 97.9px,#d3dce1 100.9px,#f0eeed 104.0px,#ecd8d3 106.0px,#e7c3b8 108.0px,#e2ad9e 111.5px,#dc9883 115.0px,#d37a62 115.3px,#ca5d45 115.7px,#c34231 116.0px,#9a1730 126.3px,#7d112f 135.0px,#690f2a 150.3px,#7d112f 167.4px,#901431 175.0px,#af252e 175.9px,#c34231 176.9px,#cb6149 185.9px,#d5826a 195.0px,#dc9883 200.0px,#e2ad9e 205.0px,#e7c3b8 209.8px,#ecd8d3 214.5px,#f0eeed 222.3px,#d8dfe3 228.5px,#c0d0d8 234.6px)"></div>
<div style="top:305px;height:10px;left:106.0px;width:234.7px;background:linear-gradient(90deg,#a9c3cf 0.0px,#8eb4c5 4.5px,#74a5bb 9.0px,#5192bb 19.0px,#317dc0 35.0px,#2862c7 46.0px,#2d4ebb 51.0px,#2e419f 56.0px,#2e419f 75.0px,#2e46ae 80.0px,#2a5cc8 82.5px,#2875c2 85.0px,#3f88bd 87.5px,#5c98bb 90.0px,#74a5bb 92.5px,#93b7c7 95.0px,#b7cad5 97.9px,#d3dce1 100.9px,#f0eeed 104.0px,#ecd8d3 106.0px,#e7c3b8 108.0px,#e2ad9e 111.5px,#dc9883 115.0px,#d37a62 115.3px,#ca5d45 115.7px,#c34231 116.0px,#9a1730 126.3px,#7d112f 135.0px,#690f2a 150.3px,#7d112f 167.4px,#901431 175.0px,#af252e 175.9px,#c34231 176.9px,#cb6149 185.9px,#d5826a 195.0px,#dc9883 200.0px,#e2ad9e 205.0px,#e7c3b8 209.8px,#ecd8d3 214.5px,#f0eeed 222.3px,#d8dfe3 228.5px,#c0d0d8 234.6px)"></div>
<div style="top:314px;height:11px;left:106.0px;width:234.7px;background:linear-gradient(90deg,#a9c3cf 0.0px,#8eb4c5 4.5px,#74a5bb 9.0px,#5192bb 19.0px,#317dc0 35.0px,#2270c4 40.5px,#295dc8 46.0px,#2e48b3 51.0px,#2e3b90 56.0px,#2e3b90 75.0px,#2e419f 80.0px,#2c52c0 82.5px,#236cc5 85.0px,#3a85bd 87.5px,#5c98bb 90.0px,#74a5bb 92.5px,#93b7c7 95.0px,#b7cad5 97.9px,#d3dce1 100.9px,#f0eeed 104.0px,#ecd8d3 106.0px,#e7c3b8 108.0px,#e2ad9e 111.5px,#dc9883 115.0px,#d47e66 115.3px,#cc644c 115.7px,#c54c37 116.0px,#b8302d 122.3px,#931531 128.7px,#7d112f 135.0px,#5f0e26 150.3px,#7d112f 164.0px,#901431 169.5px,#af252e 175.0px,#c54c37 176.9px,#cd664e 185.9px,#d5826a 195.0px,#dfa290 204.8px,#e7c3b8 214.5px,#ecd8d3 220.1px,#f0eeed 225.7px,#ccd7dd 234.6px)"></div>
<div style="top:324px;height:10px;left:106.0px;width:234.7px;background:linear-gradient(90deg,#a9c3cf 0.0px,#8eb4c5 4.5px,#74a5bb 9.0px,#5192bb 19.0px,#317dc0 35.0px,#2270c4 40.5px,#295dc8 46.0px,#2e48b3 51.0px,#2e3b90 56.0px,#2e3b90 75.0px,#2e419f 80.0px,#2c52c0 82.5px,#236cc5 85.0px,#3a85bd 87.5px,#5c98bb 90.0px,#74a5bb 92.5px,#93b7c7 95.0px,#b7cad5 97.9px,#d3dce1 100.9px,#f0eeed 104.0px,#ecd8d3 106.0px,#e7c3b8 108.0px,#e2ad9e 111.5px,#dc9883 115.0px,#d47e66 115.3px,#cc644c 115.7px,#c54c37 116.0px,#b8302d 122.3px,#931531 128.7px,#7d112f 135.0px,#5f0e26 150.3px,#7d112f 164.0px,#901431 169.5px,#af252e 175.0px,#c54c37 176.9px,#cd664e 185.9px,#d5826a 195.0px,#dfa290 204.8px,#e7c3b8 214.5px,#ecd8d3 220.1px,#f0eeed 225.7px,#ccd7dd 234.6px)"></div>
<div style="top:333px;height:10px;left:106.0px;width:234.7px;background:linear-gradient(90deg,#a9c3cf 0.0px,#8eb4c5 4.5px,#74a5bb 9.0px,#5192bb 19.0px,#317dc0 35.0px,#2270c4 40.5px,#295dc8 46.0px,#2e42a4 51.0px,#272f6e 56.0px,#24295d 75.0px,#2b357f 80.0px,#2e46ae 82.5px,#2862c7 85.0px,#317dc0 87.5px,#5192bb 90.0px,#6da1b9 92.5px,#93b7c7 95.0px,#b7cad5 97.9px,#d3dce1 100.9px,#f0eeed 104.0px,#ecd8d3 106.0px,#e7c3b8 108.0px,#e2ad9e 111.5px,#dc9883 115.0px,#d47e66 115.3px,#cc644c 115.7px,#c54c37 116.0px,#b8302d 122.3px,#931531 128.7px,#7d112f 135.0px,#5f0e26 150.3px,#7d112f 164.0px,#901431 169.5px,#af252e 175.0px,#c54c37 176.9px,#cd664e 185.9px,#d5826a 195.0px,#dfa290 204.8px,#e7c3b8 214.5px,#ecd8d3 220.1px,#f0eeed 225.7px,#ccd7dd 234.6px)"></div>
<div style="top:342px;height:10px;left:106.0px;width:234.7px;background:linear-gradient(90deg,#a9c3cf 0.0px,#8eb4c5 4.5px,#74a5bb 9.0px,#5192bb 19.0px,#317dc0 35.0px,#2270c4 40.5px,#295dc8 46.0px,#2e42a4 51.0px,#272f6e 56.0px,#24295d 75.0px,#2b357f 80.0px,#2e46ae 82.5px,#2862c7 85.0px,#317dc0 87.5px,#5192bb 90.0px,#6da1b9 92.5px,#93b7c7 95.0px,#b7cad5 97.9px,#d3dce1 100.9px,#f0eeed 104.0px,#ecd8d3 106.0px,#e7c3b8 108.0px,#e2ad9e 111.5px,#dc9883 115.0px,#d47e66 115.3px,#cc644c 115.7px,#c54c37 116.0px,#b8302d 122.3px,#931531 128.7px,#7d112f 135.0px,#5f0e26 150.3px,#7d112f 164.0px,#901431 169.5px,#af252e 175.0px,#c54c37 176.9px,#cd664e 185.9px,#d5826a 195.0px,#dfa290 204.8px,#e7c3b8 214.5px,#ecd8d3 220.1px,#f0eeed 225.7px,#ccd7dd 234.6px)"></div>
<div style="top:351px;height:10px;left:106.0px;width:234.7px;background:linear-gradient(90deg,#a9c3cf 0.0px,#8eb4c5 4.5px,#74a5bb 9.0px,#5192bb 19.0px,#3a85bd 27.0px,#2875c2 35.0px,#2862c7 40.5px,#2d4ebb 46.0px,#2e3f9a 49.3px,#293174 52.7px,#1f234f 56.0px,#1b1e44 75.0px,#24295d 80.0px,#2c3785 81.7px,#2e44a9 83.3px,#2b57c4 85.0px,#2270c4 86.7px,#3782be 88.3px,#5192bb 90.0px,#6da1b9 92.5px,#93b7c7 95.0px,#b7cad5 97.9px,#d3dce1 100.9px,#f0eeed 104.0px,#ecd8d3 106.0px,#e7c3b8 108.0px,#e2ad9e 111.5px,#dc9883 115.0px,#d47e66 115.3px,#cc644c 115.7px,#c54c37 116.0px,#b8302d 122.3px,#931531 128.7px,#7d112f 135.0px,#5f0e26 150.3px,#7d112f 164.0px,#901431 169.5px,#af252e 175.0px,#c54c37 176.9px,#cd664e 185.9px,#d5826a 195.0px,#dfa290 204.8px,#e7c3b8 214.5px,#ecd8d3 220.1px,#f0eeed 225.7px,#ccd7dd 234.6px)"></div>
<div style="top:360px;height:10px;left:106.0px;width:234.7px;background:linear-gradient(90deg,#c0d0d8 0.0px,#a3bfcd 8.5px,#84aec1 17.0px,#689eba 26.0px,#5192bb 35.0px,#3581bf 37.8px,#236cc5 40.5px,#2c52c0 43.2px,#2e419f 46.0px,#272f6e 51.0px,#1b1e44 56.0px,#1f234f 75.0px,#293174 77.9px,#2e3f9a 80.8px,#2d4ebb 83.7px,#236cc5 86.5px,#3a85bd 89.3px,#5c98bb 92.2px,#84aec1 95.0px,#adc5d1 97.5px,#d0dadf 100.1px,#f0eeed 102.6px,#eacec5 108.8px,#e2ad9e 115.0px,#da927c 115.2px,#d2775f 115.5px,#c95b43 115.8px,#c34231 116.0px,#af252e 135.0px,#af252e 150.3px,#c34231 162.6px,#c8563e 175.0px,#cf6c54 176.9px,#d5826a 195.0px,#dc9883 214.5px,#e2ad9e 234.6px)"></div>
<div style="top:369px;height:10px;left:106.0px;width:234.7px;background:linear-gradient(90deg,#84aec1 0.0px,#689eba 17.0px,#5192bb 35.0px,#317dc0 42.2px,#2862c7 49.4px,#2d4ebb 56.0px,#2862c7 75.0px,#317dc0 85.0px,#5192bb 95.0px,#6da1b9 97.3px,#93b7c7 99.7px,#baccd6 102.0px,#d8dfe3 104.3px,#efe7e4 106.6px,#e9cac1 108.8px,#e2ad9e 111.1px,#d98d75 115.0px,#cf6c54 116.0px,#c8563e 125.5px,#c34231 135.0px,#af252e 155.0px,#c34231 175.0px,#cb6149 175.9px,#d5826a 176.9px,#dc9883 185.9px,#e2ad9e 195.0px,#e7c3b8 214.5px,#ecd8d3 234.6px)"></div>
<div style="top:378px;height:11px;left:106.0px;width:234.7px;background:linear-gradient(90deg,#84aec1 0.0px,#689eba 17.0px,#5192bb 35.0px,#3480bf 39.8px,#2569c5 44.6px,#2d4ebb 49.4px,#2e419f 56.0px,#272f6e 61.3px,#1b1e44 66.6px,#24295d 75.0px,#2d3888 80.0px,#2e46ae 85.0px,#2a5cc8 90.0px,#2875c2 95.0px,#4189bd 98.1px,#609aba 101.2px,#84aec1 104.3px,#a3bfcd 109.7px,#c0d0d8 115.0px,#e1e5e7 115.2px,#edddd8 115.4px,#e6beb3 115.6px,#dea08e 115.8px,#d5826a 116.0px,#cb6149 125.5px,#c34231 135.0px,#a01830 145.0px,#861230 155.0px,#af252e 175.0px,#c34231 176.9px,#c8563e 185.9px,#cf6c54 195.0px,#d5826a 214.5px,#dc9883 224.6px,#e2ad9e 234.6px)"></div>
<div style="top:388px;height:10px;left:106.0px;width:234.7px;background:linear-gradient(90deg,#d8dfe3 0.0px,#ccd7dd 17.0px,#a3bfcd 35.0px,#79a8bd 39.8px,#5896bb 44.6px,#3a85bd 49.4px,#2270c4 51.6px,#2c54c1 53.8px,#2e419f 56.0px,#2b357f 61.3px,#24295d 66.6px,#24295d 75.0px,#2e3b90 85.0px,#2d4ebb 95.0px,#2569c5 101.7px,#3480bf 108.3px,#5192bb 115.0px,#6fa3b9 115.3px,#98b9c9 115.7px,#c0d0d8 116.0px,#e4e6e8 117.8px,#ecd8d3 119.5px,#e5b8ab 121.2px,#dc9883 123.0px,#d5826a 129.0px,#cf6c54 135.0px,#c8563e 145.0px,#c34231 155.0px,#c34231 175.0px,#c8563e 176.9px,#cf6c54 195.0px,#d5826a 214.5px,#dc9883 224.6px,#e2ad9e 234.6px)"></div>
<div style="top:397px;height:10px;left:106.0px;width:234.7px;background:linear-gradient(90deg,#f0eeed 0.0px,#e4e6e8 17.0px,#c0d0d8 35.0px,#98b9c9 39.8px,#6fa3b9 44.6px,#5192bb 49.4px,#317dc0 52.7px,#2862c7 56.0px,#2d4ebb 75.0px,#2862c7 95.0px,#317dc0 105.0px,#5192bb 115.0px,#74a5bb 115.2px,#a3bfcd 115.5px,#ccd7dd 115.8px,#f0eeed 116.0px,#eacec5 119.5px,#e2ad9e 123.0px,#dc9883 129.0px,#d5826a 135.0px,#cf6c54 155.0px,#cf6c54 175.0px,#d98d75 175.9px,#e2ad9e 176.9px,#e7c3b8 195.0px,#e7c3b8 214.5px,#ecd8d3 224.6px,#f0eeed 234.6px)"></div>
<div style="top:406px;height:10px;left:106.0px;width:234.7px;background:linear-gradient(90deg,#d8dfe3 0.0px,#d8dfe3 17.0px,#f0eeed 35.0px,#ccd7dd 38.8px,#a3bfcd 42.6px,#74a5bb 49.3px,#5192bb 56.0px,#3a85bd 75.0px,#5192bb 95.0px,#74a5bb 99.7px,#a3bfcd 104.3px,#c0d0d8 109.7px,#d8dfe3 115.0px,#efe9e6 115.2px,#eacec5 115.5px,#e3b3a4 115.8px,#dc9883 116.0px,#d5826a 125.5px,#cf6c54 135.0px,#c8563e 155.0px,#cf6c54 175.0px,#d98d75 175.9px,#e2ad9e 176.9px,#e7c3b8 185.9px,#ecd8d3 195.0px,#f0eeed 205.0px,#d8dfe3 209.8px,#c0d0d8 214.5px,#93b7c7 234.6px)"></div>
<div style="top:415px;height:10px;left:106.0px;width:234.7px;background:linear-gradient(90deg,#f0eeed 0.0px,#f0eeed 17.0px,#ecd8d3 26.0px,#e7c3b8 35.0px,#ecd8d3 40.5px,#f0eeed 46.0px,#ccd7dd 51.0px,#a3bfcd 56.0px,#84aec1 75.0px,#a3bfcd 95.0px,#c6d4db 97.3px,#e4e6e8 99.7px,#edded9 102.0px,#e7c3b8 104.3px,#e2ad9e 115.0px,#dc9883 116.0px,#d5826a 125.5px,#cf6c54 135.0px,#cf6c54 155.0px,#d5826a 175.0px,#dfa290 175.9px,#e7c3b8 176.9px,#ecd8d3 182.4px,#f0eeed 188.0px,#d8dfe3 191.5px,#c0d0d8 195.0px,#a3bfcd 214.5px,#84aec1 234.6px)"></div>
<div style="top:424px;height:10px;left:106.0px;width:234.7px;background:linear-gradient(90deg,#e2ad9e 0.0px,#dfa290 17.0px,#dc9883 35.0px,#e2ad9e 46.0px,#e8c8bf 48.5px,#eee3e0 51.0px,#dee3e5 53.5px,#c0d0d8 56.0px,#a3bfcd 75.0px,#a3bfcd 95.0px,#c0d0d8 99.7px,#d8dfe3 104.3px,#f0eeed 115.0px,#eacec5 115.5px,#e2ad9e 116.0px,#d98d75 135.0px,#d98d75 155.0px,#dfa290 175.0px,#e7c3b8 175.9px,#eee3e0 176.9px,#dee3e5 180.8px,#c0d0d8 184.6px,#a3bfcd 195.0px,#93b7c7 214.5px,#84aec1 234.6px)"></div>
<div style="top:433px;height:10px;left:106.0px;width:234.7px;background:linear-gradient(90deg,#dfa290 0.0px,#d98d75 17.0px,#d98d75 35.0px,#e2ad9e 49.0px,#e9cac1 51.3px,#efe7e4 53.7px,#d8dfe3 56.0px,#c0d0d8 75.0px,#ccd7dd 95.0px,#d8dfe3 115.0px,#eee3e0 115.5px,#e7c3b8 116.0px,#e2ad9e 135.0px,#e2ad9e 155.0px,#e7c3b8 175.0px,#ecd8d3 175.9px,#f0eeed 176.9px,#ccd7dd 185.9px,#a3bfcd 195.0px,#84aec1 214.5px,#93b7c7 234.6px)"></div>
<div style="top:442px;height:11px;left:106.0px;width:234.7px;background:linear-gradient(90deg,#e2ad9e 0.0px,#dfa290 17.0px,#dfa290 35.0px,#e7c3b8 49.0px,#ecd8d3 52.5px,#f0eeed 56.0px,#d8dfe3 75.0px,#e4e6e8 95.0px,#f0eeed 115.0px,#f0eeed 116.0px,#ecd8d3 135.0px,#ecd8d3 155.0px,#eee3e0 175.0px,#d8dfe3 176.9px,#c0d0d8 185.9px,#a3bfcd 195.0px,#93b7c7 214.5px,#a3bfcd 234.6px)"></div>
<div style="top:452px;height:10px;left:106.0px;width:234.7px;background:linear-gradient(90deg,#e2ad9e 0.0px,#dfa290 17.0px,#dfa290 35.0px,#e2ad9e 49.0px,#e7c3b8 56.0px,#ecd8d3 75.0px,#f0eeed 95.0px,#e4e6e8 115.0px,#ccd7dd 116.0px,#d8dfe3 135.0px,#d8dfe3 155.0px,#d8dfe3 175.0px,#ccd7dd 176.9px,#a3bfcd 195.0px,#a3bfcd 214.5px,#a3bfcd 234.6px)"></div>
<div style="top:461px;height:10px;left:106.0px;width:234.7px;background:linear-gradient(90deg,#e2ad9e 0.0px,#e2ad9e 17.0px,#e2ad9e 35.0px,#e2ad9e 56.0px,#eacec5 75.0px,#f0eeed 95.0px,#f0eeed 115.0px,#ccd7dd 116.0px,#ccd7dd 175.0px,#c0d0d8 176.9px,#b2c8d3 195.0px,#b2c8d3 214.5px,#c0d0d8 234.6px)"></div>
<div style="top:470px;height:3px;left:106.0px;width:234.7px;background:linear-gradient(90deg,#ecd8d3 0.0px,#f0eeed 56.0px,#d8dfe3 115.0px,#ccd7dd 116.0px,#ccd7dd 234.6px)"></div>
<div style="top:268px;height:11px;left:355.0px;width:234.3px;background:linear-gradient(90deg,#93b7c7 0.0px,#689eba 17.0px,#5192bb 35.0px,#3a85bd 56.0px,#2875c2 61.3px,#2862c7 66.6px,#236cc5 75.0px,#3581bf 79.4px,#5192bb 83.7px,#6fa3b9 87.5px,#98b9c9 91.2px,#c0d0d8 95.0px,#d8dfe3 97.9px,#f0eeed 100.9px,#eacec5 104.3px,#e2ad9e 107.7px,#dc9883 111.4px,#d5826a 115.0px,#cb6149 116.0px,#c54c37 135.0px,#bd362d 141.7px,#c34231 150.0px,#c8563e 155.0px,#cf6c54 175.0px,#d5826a 176.0px,#dc9883 176.9px,#e2ad9e 195.0px,#e7c3b8 214.6px,#ecd8d3 225.7px,#f0eeed 234.6px)"></div>
<div style="top:278px;height:10px;left:355.0px;width:234.3px;background:linear-gradient(90deg,#a3bfcd 0.0px,#84aec1 8.5px,#689eba 17.0px,#5192bb 35.0px,#3a85bd 56.0px,#2875c2 61.3px,#2862c7 66.6px,#236cc5 75.0px,#3581bf 79.4px,#5192bb 83.7px,#6fa3b9 87.5px,#98b9c9 91.2px,#c0d0d8 95.0px,#d8dfe3 97.9px,#f0eeed 100.9px,#eacec5 104.3px,#e2ad9e 107.7px,#dc9883 111.4px,#d5826a 115.0px,#cb6149 116.0px,#c54c37 135.0px,#c8563e 155.0px,#cf6c54 175.0px,#d5826a 176.0px,#dc9883 176.9px,#e2ad9e 195.0px,#e7c3b8 214.6px,#ecd8d3 225.7px,#f0eeed 234.6px)"></div>
<div style="top:287px;height:10px;left:355.0px;width:234.3px;background:linear-gradient(90deg,#a3bfcd 0.0px,#84aec1 8.5px,#689eba 17.0px,#5192bb 35.0px,#3a85bd 56.0px,#2875c2 61.3px,#2862c7 66.6px,#236cc5 75.0px,#3581bf 79.4px,#5192bb 83.7px,#6fa3b9 87.5px,#98b9c9 91.2px,#c0d0d8 95.0px,#d8dfe3 97.9px,#f0eeed 100.9px,#eacec5 104.3px,#e2ad9e 107.7px,#dc9883 111.4px,#d5826a 115.0px,#cb6149 116.0px,#c54c37 135.0px,#c8563e 155.0px,#cf6c54 175.0px,#d5826a 176.0px,#dc9883 176.9px,#e2ad9e 195.0px,#e7c3b8 214.6px,#ecd8d3 225.7px,#f0eeed 234.6px)"></div>
<div style="top:296px;height:10px;left:355.0px;width:234.3px;background:linear-gradient(90deg,#a3bfcd 0.0px,#84aec1 8.5px,#689eba 17.0px,#5192bb 35.0px,#3a85bd 56.0px,#2875c2 61.3px,#2862c7 66.6px,#236cc5 75.0px,#3581bf 79.4px,#5192bb 83.7px,#6fa3b9 87.5px,#98b9c9 91.2px,#c0d0d8 95.0px,#d8dfe3 97.9px,#f0eeed 100.9px,#eacec5 104.3px,#e2ad9e 107.7px,#dc9883 111.4px,#d5826a 115.0px,#cb6149 116.0px,#c54c37 135.0px,#c8563e 155.0px,#cf6c54 175.0px,#d5826a 176.0px,#dc9883 176.9px,#e2ad9e 195.0px,#e7c3b8 214.6px,#ecd8d3 225.7px,#f0eeed 234.6px)"></div>
<div style="top:305px;height:10px;left:355.0px;width:234.3px;background:linear-gradient(90deg,#ccd7dd 0.0px,#aac3d0 8.5px,#84aec1 17.0px,#5c98bb 35.0px,#458cbc 45.5px,#317dc0 56.0px,#2862c7 66.6px,#236cc5 75.0px,#3581bf 79.4px,#5192bb 83.7px,#6fa3b9 87.5px,#98b9c9 91.2px,#c0d0d8 95.0px,#e4e6e8 97.9px,#ecd8d3 100.9px,#e6bcb0 105.6px,#de9f8c 110.3px,#d5826a 115.0px,#cf6c54 115.5px,#c8563e 116.0px,#c8563e 135.0px,#cb6149 155.0px,#d2775f 175.0px,#d98d75 176.0px,#dfa290 176.9px,#e2ad9e 195.0px,#e5b8ab 214.6px,#eacec5 234.6px)"></div>
<div style="top:314px;height:11px;left:355.0px;width:234.3px;background:linear-gradient(90deg,#ccd7dd 0.0px,#aac3d0 8.5px,#84aec1 17.0px,#5c98bb 35.0px,#458cbc 45.5px,#317dc0 56.0px,#2862c7 66.6px,#236cc5 75.0px,#3581bf 79.4px,#5192bb 83.7px,#6fa3b9 87.5px,#98b9c9 91.2px,#c0d0d8 95.0px,#e4e6e8 97.9px,#ecd8d3 100.9px,#e6bcb0 105.6px,#de9f8c 110.3px,#d5826a 115.0px,#cf6c54 115.5px,#c8563e 116.0px,#c8563e 135.0px,#cb6149 155.0px,#d2775f 175.0px,#d98d75 176.0px,#dfa290 176.9px,#e2ad9e 195.0px,#e5b8ab 214.6px,#eacec5 234.6px)"></div>
<div style="top:324px;height:10px;left:355.0px;width:234.3px;background:linear-gradient(90deg,#f0eeed 0.0px,#ccd7dd 8.5px,#a3bfcd 17.0px,#84aec1 26.0px,#689eba 35.0px,#458cbc 45.5px,#2875c2 56.0px,#2862c7 61.3px,#2d4ebb 66.6px,#2b57c4 75.0px,#2270c4 77.9px,#3782be 80.8px,#5192bb 83.7px,#6fa3b9 87.5px,#98b9c9 91.2px,#c0d0d8 95.0px,#e4e6e8 97.9px,#ecd8d3 100.9px,#e6bcb0 105.6px,#de9f8c 110.3px,#d5826a 115.0px,#cf6c54 115.5px,#c8563e 116.0px,#c8563e 135.0px,#cb6149 155.0px,#d2775f 175.0px,#d98d75 176.0px,#dfa290 176.9px,#e2ad9e 195.0px,#e5b8ab 214.6px,#eacec5 234.6px)"></div>
<div style="top:333px;height:10px;left:355.0px;width:234.3px;background:linear-gradient(90deg,#ecd8d3 0.0px,#f0eeed 8.3px,#ccd7dd 12.6px,#a3bfcd 17.0px,#84aec1 26.0px,#689eba 35.0px,#498ebc 42.0px,#2e7bc1 49.0px,#2862c7 56.0px,#2e49b6 61.3px,#2e3b90 66.6px,#2e419f 75.0px,#2c54c1 77.9px,#2270c4 80.8px,#3a85bd 83.7px,#5695bb 86.5px,#74a5bb 89.4px,#9bbbca 92.2px,#c0d0d8 95.0px,#e4e6e8 97.9px,#ecd8d3 100.9px,#e6bcb0 105.6px,#de9f8c 110.3px,#d5826a 115.0px,#cf6c54 115.5px,#c8563e 116.0px,#c54c37 135.0px,#cb6149 155.0px,#d5826a 175.0px,#dc9883 176.0px,#e2ad9e 176.9px,#eacec5 195.0px,#ecd8d3 214.6px,#eacec5 234.6px)"></div>
<div style="top:342px;height:10px;left:355.0px;width:234.3px;background:linear-gradient(90deg,#e2ad9e 0.0px,#e7c3b8 4.1px,#ecd8d3 8.3px,#e4e6e8 12.6px,#c0d0d8 17.0px,#93b7c7 26.0px,#689eba 35.0px,#498ebc 42.0px,#2e7bc1 49.0px,#2862c7 56.0px,#2e46ae 61.3px,#2b357f 66.6px,#24295d 75.0px,#2d3888 77.2px,#2e46ae 79.4px,#2a5cc8 81.5px,#2875c2 83.7px,#458cbc 86.5px,#689eba 89.4px,#93b7c7 92.2px,#c0d0d8 95.0px,#e4e6e8 97.9px,#ecd8d3 100.9px,#e6bcb0 105.6px,#de9f8c 110.3px,#d5826a 115.0px,#cf6c54 116.0px,#c6513b 125.5px,#bd362d 135.0px,#c54c37 155.0px,#cd664e 165.0px,#d5826a 175.0px,#dc9883 176.0px,#e2ad9e 176.9px,#eacec5 182.5px,#f0eeed 188.0px,#f0eeed 195.0px,#ecd8d3 214.6px,#f0eeed 234.6px)"></div>
<div style="top:351px;height:10px;left:355.0px;width:234.3px;background:linear-gradient(90deg,#dc9883 0.0px,#e5b8ab 8.5px,#ecd8d3 17.0px,#f0eeed 25.4px,#ccd7dd 30.2px,#a3bfcd 35.0px,#79a8bd 39.8px,#5896bb 44.6px,#3a85bd 49.4px,#2875c2 53.9px,#2862c7 58.5px,#327fbf 58.5px,#5494bb 58.6px,#7caabe 58.6px,#adc5d1 58.6px,#d6dee2 58.7px,#eee3e0 58.7px,#e7c1b6 58.7px,#de9f8c 58.8px,#d47c64 58.8px,#c95941 58.8px,#bf382c 58.9px,#901431 58.9px,#7d112f 66.6px,#73102d 75.0px,#901431 84.4px,#bf392c 84.4px,#c95a42 84.4px,#d47d65 84.5px,#dea08e 84.5px,#e7c3b8 84.5px,#eee5e2 84.5px,#d3dce1 84.5px,#a9c3cf 84.6px,#77a7bc 84.6px,#5192bb 84.6px,#5192bb 95.0px,#74a5bb 96.5px,#a3bfcd 97.9px,#ccd7dd 99.4px,#f0eeed 100.9px,#ead1ca 105.6px,#e4b4a7 110.3px,#dc9883 115.0px,#d5826a 116.0px,#cd664e 120.8px,#c54c37 125.5px,#b62d2d 130.2px,#901431 135.0px,#7d112f 140.9px,#690f2a 146.9px,#861230 150.9px,#af252e 155.0px,#c44835 161.7px,#cc644c 168.3px,#d5826a 175.0px,#dfa290 176.0px,#e7c3b8 176.9px,#ecd8d3 182.5px,#f0eeed 188.0px,#ccd7dd 191.5px,#a3bfcd 195.0px,#a3bfcd 214.6px,#c8d5dc 221.3px,#e8e9ea 227.9px,#ecd8d3 234.6px)"></div>
<div style="top:360px;height:10px;left:355.0px;width:234.3px;background:linear-gradient(90deg,#d5826a 0.0px,#dc9883 17.0px,#e2ad9e 35.0px,#eacec5 40.5px,#f0eeed 46.0px,#ead1ca 47.1px,#e4b4a7 48.3px,#dc9883 49.4px,#d5826a 52.7px,#cf6c54 56.0px,#c64f3a 59.5px,#b8302d 63.1px,#901431 66.6px,#73102d 75.0px,#8b1331 79.4px,#af252e 83.7px,#c54c37 89.4px,#cf6c54 95.0px,#d98d75 96.6px,#e2ad9e 98.3px,#eacec5 99.6px,#f0eeed 100.9px,#eacec5 107.9px,#e2ad9e 115.0px,#d98d75 115.5px,#cf6c54 116.0px,#c54c37 125.5px,#af252e 135.0px,#901431 140.9px,#7d112f 146.9px,#9a1730 150.9px,#c34231 155.0px,#c8563e 165.0px,#cf6c54 175.0px,#d5826a 176.0px,#dc9883 176.9px,#e4b4a7 179.5px,#ead1ca 182.0px,#f0eeed 184.6px,#f0eeed 194.0px,#ead0c8 194.2px,#e3b2a3 194.4px,#db937e 194.5px,#d1755d 194.7px,#c8563e 194.9px,#c34231 214.6px,#c8563e 234.6px)"></div>
<div style="top:369px;height:10px;left:355.0px;width:234.3px;background:linear-gradient(90deg,#d8dfe3 0.0px,#c0d0d8 17.0px,#a3bfcd 35.0px,#ccd7dd 42.2px,#f0eeed 49.4px,#eacec5 52.7px,#e2ad9e 56.0px,#d98d75 65.5px,#cf6c54 75.0px,#d5826a 85.0px,#dc9883 95.0px,#e4b4a7 99.2px,#ead1ca 103.5px,#f0eeed 107.7px,#d8dfe3 111.4px,#c0d0d8 115.0px,#a3bfcd 116.0px,#ccd7dd 116.6px,#f0eeed 117.1px,#eacec5 117.7px,#e2ad9e 118.3px,#d98d75 118.8px,#cf6c54 119.4px,#c8563e 127.2px,#c34231 135.0px,#bd362d 155.0px,#af252e 175.0px,#c64d38 175.3px,#d06f57 175.5px,#da917b 175.8px,#e4b3a5 176.1px,#ebd5cf 176.4px,#e6e8e9 176.6px,#c0d0d8 176.9px,#a3bfcd 184.6px,#ccd7dd 186.3px,#f0eeed 188.0px,#ebd3cc 189.8px,#e5b8ab 191.5px,#dd9d8a 193.2px,#d5826a 195.0px,#cc644c 199.0px,#c44835 202.9px,#af252e 206.9px,#901431 214.6px,#bd362d 220.2px,#c8563e 225.7px,#cf6c54 230.2px,#d5826a 234.6px)"></div>
<div style="top:378px;height:11px;left:355.0px;width:234.3px;background:linear-gradient(90deg,#d8dfe3 0.0px,#ccd7dd 17.0px,#a3bfcd 35.0px,#c0d0d8 42.2px,#d8dfe3 49.4px,#eee3e0 52.7px,#e7c3b8 56.0px,#e2ad9e 65.5px,#dc9883 75.0px,#e2ad9e 95.0px,#e7c3b8 101.4px,#ecd8d3 107.7px,#f0eeed 115.0px,#d0dadf 115.3px,#adc5d1 115.7px,#84aec1 116.0px,#84aec1 132.5px,#b0c7d2 132.6px,#d4dde1 132.7px,#efe8e5 132.8px,#e9c9c0 132.8px,#e1aa9a 132.9px,#d88b74 133.0px,#cf6c54 133.1px,#c8563e 144.1px,#c34231 155.0px,#c34231 175.0px,#cb6149 175.2px,#d5826a 175.5px,#dfa290 175.7px,#e7c3b8 176.0px,#eee3e0 176.2px,#d8dfe3 176.4px,#b2c8d3 176.7px,#84aec1 176.9px,#b2c8d3 180.8px,#d8dfe3 184.6px,#efe7e4 186.3px,#e9cac1 188.0px,#e2ad9e 189.7px,#d98d75 192.4px,#cf6c54 195.0px,#c64f3a 199.0px,#b8302d 202.9px,#901431 206.9px,#7d112f 214.6px,#951531 219.6px,#bd362d 224.6px,#c6513b 229.6px,#cf6c54 234.6px)"></div>
<div style="top:388px;height:10px;left:355.0px;width:234.3px;background:linear-gradient(90deg,#f0eeed 0.0px,#e4e6e8 17.0px,#c0d0d8 35.0px,#d8dfe3 49.4px,#eee3e0 52.7px,#e7c3b8 56.0px,#dfa290 65.5px,#d5826a 75.0px,#cf6c54 95.0px,#d5826a 115.0px,#dea18e 115.1px,#e7c0b5 115.3px,#eddfda 115.4px,#dfe3e6 115.6px,#bcced7 115.7px,#91b5c6 115.9px,#689eba 116.0px,#5192bb 133.1px,#5192bb 146.5px,#74a5bb 146.5px,#a3bfcd 146.6px,#ccd7dd 146.6px,#f0eeed 146.7px,#eacec5 146.7px,#e2ad9e 146.7px,#d98d75 146.8px,#cf6c54 146.8px,#c54c37 146.9px,#af252e 146.9px,#901431 152.9px,#7d112f 158.9px,#901431 167.0px,#af252e 175.0px,#c54d38 175.2px,#cf6e56 175.4px,#da907a 175.6px,#e3b2a4 175.8px,#ebd4cd 176.1px,#e8e9ea 176.3px,#c2d1d9 176.5px,#95b7c7 176.7px,#689eba 176.9px,#93b7c7 180.8px,#c0d0d8 184.6px,#e4e6e8 186.3px,#ecd8d3 188.0px,#e5b8ab 189.7px,#dc9883 191.4px,#d5826a 193.2px,#cf6c54 195.0px,#c64f3a 199.0px,#b8302d 202.9px,#901431 206.9px,#7d112f 214.6px,#971630 221.3px,#c13b2c 227.9px,#c8563e 234.6px)"></div>
<div style="top:397px;height:10px;left:355.0px;width:234.3px;background:linear-gradient(90deg,#84aec1 0.0px,#689eba 8.5px,#5192bb 17.0px,#458cbc 35.0px,#5c98bb 49.4px,#84aec1 51.6px,#b2c8d3 53.8px,#d8dfe3 56.0px,#eee3e0 61.3px,#e7c3b8 66.6px,#e0a695 69.4px,#d88971 72.2px,#cf6c54 75.0px,#c54c37 95.0px,#c8563e 115.0px,#d1755d 115.2px,#db937e 115.4px,#e3b2a3 115.6px,#ead0c8 115.8px,#f0eeed 116.0px,#d8dfe3 122.9px,#b7cbd5 126.9px,#8eb4c5 131.0px,#689eba 135.0px,#458cbc 141.7px,#2875c2 148.3px,#2b57c4 155.0px,#2471c4 161.2px,#3a85bd 167.4px,#5192bb 175.0px,#689eba 176.0px,#84aec1 176.9px,#adc5d1 180.6px,#d0dadf 184.3px,#f0eeed 188.0px,#ebd3cc 189.8px,#e5b8ab 191.5px,#dd9d8a 193.2px,#d5826a 195.0px,#cc644c 199.0px,#c44835 202.9px,#af252e 206.9px,#901431 214.6px,#b8302d 221.3px,#c64f3a 227.9px,#cf6c54 234.6px)"></div>
<div style="top:406px;height:10px;left:355.0px;width:234.3px;background:linear-gradient(90deg,#5192bb 0.0px,#3a85bd 8.5px,#2875c2 17.0px,#2862c7 35.0px,#2875c2 42.2px,#3a85bd 49.4px,#5c98bb 52.7px,#84aec1 56.0px,#aac3d0 58.6px,#ccd7dd 61.3px,#eaeaea 64.0px,#ecd8d3 66.6px,#e6bcb0 69.4px,#de9f8c 72.2px,#d5826a 75.0px,#cf6c54 85.0px,#c8563e 95.0px,#cf6c54 115.0px,#d5826a 115.5px,#dc9883 116.0px,#e2ad9e 126.3px,#e9cac1 129.2px,#efe7e4 132.1px,#d8dfe3 135.0px,#b2c8d3 145.0px,#84aec1 155.0px,#a3bfcd 161.2px,#c0d0d8 167.4px,#e4e6e8 171.2px,#ecd8d3 175.0px,#e7c3b8 176.9px,#dfa290 186.0px,#d5826a 195.0px,#cf6c54 204.8px,#c8563e 214.6px,#cf6c54 224.6px,#d5826a 234.6px)"></div>
<div style="top:415px;height:10px;left:355.0px;width:234.3px;background:linear-gradient(90deg,#2875c2 0.0px,#2b57c4 17.0px,#2e46ae 35.0px,#2a5cc8 42.2px,#2875c2 49.4px,#4189bd 51.6px,#609aba 53.8px,#84aec1 56.0px,#adc5d1 59.5px,#d0dadf 63.1px,#f0eeed 66.6px,#ead1ca 69.4px,#e4b4a7 72.2px,#dc9883 75.0px,#d5826a 95.0px,#d98d75 115.0px,#dfa290 116.0px,#e7c3b8 135.0px,#ecd8d3 140.1px,#f0eeed 145.1px,#ccd7dd 150.1px,#a3bfcd 155.0px,#c6d4db 161.2px,#e4e6e8 167.4px,#ecd8d3 175.0px,#e7c3b8 176.0px,#e2ad9e 176.9px,#dc9883 186.0px,#d5826a 195.0px,#cf6c54 214.6px,#d88971 221.3px,#e0a695 227.9px,#e7c3b8 234.6px)"></div>
<div style="top:424px;height:10px;left:355.0px;width:234.3px;background:linear-gradient(90deg,#2875c2 0.0px,#2b57c4 17.0px,#2e46ae 35.0px,#2a5cc8 42.2px,#2875c2 49.4px,#4189bd 51.6px,#609aba 53.8px,#84aec1 56.0px,#adc5d1 59.5px,#d0dadf 63.1px,#f0eeed 66.6px,#eacec5 70.8px,#e2ad9e 75.0px,#dc9883 95.0px,#dfa290 115.0px,#dfa290 116.0px,#e2ad9e 135.0px,#e7c3b8 155.0px,#e2ad9e 175.0px,#dc9883 185.0px,#d5826a 195.0px,#dc9883 214.6px,#e4b4a7 221.3px,#ead1ca 227.9px,#f0eeed 234.6px)"></div>
<div style="top:433px;height:10px;left:355.0px;width:234.3px;background:linear-gradient(90deg,#317dc0 0.0px,#2875c2 17.0px,#3a85bd 35.0px,#5192bb 42.2px,#689eba 49.4px,#84aec1 52.7px,#a3bfcd 56.0px,#ccd7dd 61.3px,#f0eeed 66.6px,#ecd8d3 70.8px,#e7c3b8 75.0px,#e2ad9e 95.0px,#e2ad9e 115.0px,#dfa290 116.0px,#dc9883 135.0px,#d98d75 155.0px,#dc9883 175.0px,#dc9883 195.0px,#e5b8ab 204.8px,#ecd8d3 214.6px,#e4e6e8 224.6px,#c0d0d8 234.6px)"></div>
<div style="top:442px;height:11px;left:355.0px;width:234.3px;background:linear-gradient(90deg,#3a85bd 0.0px,#3a85bd 17.0px,#5192bb 35.0px,#689eba 42.2px,#84aec1 49.4px,#a3bfcd 52.7px,#c0d0d8 56.0px,#d8dfe3 61.3px,#f0eeed 66.6px,#ecd8d3 70.8px,#e7c3b8 75.0px,#e5b8ab 95.0px,#e5b8ab 115.0px,#dfa290 116.0px,#dc9883 135.0px,#d98d75 155.0px,#dc9883 175.0px,#dfa290 195.0px,#e6bcb0 201.5px,#ebd5ce 208.1px,#f0eeed 214.6px,#ccd7dd 224.6px,#a3bfcd 234.6px)"></div>
<div style="top:452px;height:10px;left:355.0px;width:234.3px;background:linear-gradient(90deg,#3a85bd 0.0px,#5192bb 17.0px,#689eba 35.0px,#84aec1 42.2px,#a3bfcd 49.4px,#c0d0d8 52.7px,#d8dfe3 56.0px,#f0eeed 66.6px,#eacec5 75.0px,#e7c3b8 95.0px,#e7c3b8 115.0px,#e2ad9e 116.0px,#dfa290 135.0px,#dc9883 155.0px,#dfa290 175.0px,#e2ad9e 195.0px,#eacec5 204.8px,#f0eeed 214.6px,#ccd7dd 224.6px,#a3bfcd 234.6px)"></div>
<div style="top:461px;height:10px;left:355.0px;width:234.3px;background:linear-gradient(90deg,#c8563e 0.0px,#d2775f 8.5px,#dc9883 17.0px,#e2ad9e 35.0px,#e2ad9e 56.0px,#e2ad9e 75.0px,#e7c3b8 95.0px,#ecd8d3 101.4px,#f0eeed 107.7px,#d8dfe3 115.0px,#eee3e0 115.2px,#e7c3b8 115.5px,#dfa290 115.8px,#d5826a 116.0px,#cb6149 135.0px,#cf6c54 155.0px,#d5826a 165.0px,#dc9883 175.0px,#e2ad9e 185.0px,#e7c3b8 195.0px,#ecd8d3 214.6px,#e7c3b8 216.8px,#e2ad9e 218.9px,#e2ad9e 234.6px)"></div>
<div style="top:470px;height:3px;left:355.0px;width:234.3px;background:linear-gradient(90deg,#d5826a 0.0px,#dc9883 17.5px,#e2ad9e 35.0px,#e7c3b8 56.0px,#ecd8d3 65.5px,#f0eeed 75.0px,#ccd7dd 85.0px,#a3bfcd 95.0px,#74a5bb 105.0px,#5192bb 115.0px,#3a85bd 115.5px,#2875c2 116.0px,#2875c2 135.0px,#458cbc 145.0px,#689eba 155.0px,#84aec1 165.0px,#a3bfcd 175.0px,#c0d0d8 195.0px,#d8dfe3 204.8px,#f0eeed 214.6px,#f0eeed 234.6px)"></div>
<div style="top:508px;height:11px;left:106.0px;width:234.7px;background:linear-gradient(90deg,#ecd8d3 0.0px,#f0eeed 8.3px,#ccd7dd 12.7px,#a3bfcd 17.0px,#74a5bb 26.0px,#5192bb 35.0px,#3581bf 42.2px,#236cc5 49.4px,#2b57c4 56.0px,#2b57c4 75.0px,#2862c7 95.0px,#2875c2 101.3px,#3a85bd 107.7px,#5192bb 115.0px,#689eba 115.5px,#84aec1 116.0px,#a3bfcd 121.2px,#c0d0d8 126.3px,#d8dfe3 130.7px,#f0eeed 135.0px,#eacec5 139.2px,#e2ad9e 143.4px,#d98d75 149.2px,#cf6c54 155.0px,#c7533c 159.1px,#c13b2c 163.3px,#9a1730 167.4px,#7d112f 175.0px,#5f0e26 176.9px,#540d23 195.0px,#6e102c 204.8px,#861230 214.6px,#a01830 220.1px,#c34231 225.7px,#cb6149 230.1px,#d5826a 234.6px)"></div>
<div style="top:518px;height:10px;left:106.0px;width:234.7px;background:linear-gradient(90deg,#e2ad9e 0.0px,#e7c3b8 4.2px,#ecd8d3 8.3px,#e4e6e8 12.7px,#c0d0d8 17.0px,#98b9c9 23.0px,#6fa3b9 29.0px,#5192bb 35.0px,#3581bf 42.2px,#236cc5 49.4px,#2d4ebb 56.0px,#2d4ebb 75.0px,#2b57c4 95.0px,#2875c2 115.0px,#3a85bd 115.5px,#5192bb 116.0px,#6fa3b9 122.3px,#98b9c9 128.7px,#c0d0d8 135.0px,#d8dfe3 139.2px,#f0eeed 143.4px,#ebd3cc 146.3px,#e5b8ab 149.2px,#dd9d8a 152.1px,#d5826a 155.0px,#cb6149 161.2px,#c34231 167.4px,#af252e 171.2px,#901431 175.0px,#78112e 175.9px,#5f0e26 176.9px,#3c0b18 195.0px,#5f0e26 214.6px,#78112e 220.1px,#901431 225.7px,#bd362d 230.1px,#c8563e 234.6px)"></div>
<div style="top:527px;height:10px;left:106.0px;width:234.7px;background:linear-gradient(90deg,#dc9883 0.0px,#e4b4a7 5.7px,#ead1ca 11.3px,#f0eeed 17.0px,#d8dfe3 20.3px,#c0d0d8 23.7px,#9ebccb 27.5px,#79a8bd 31.2px,#5c98bb 35.0px,#3f88bd 42.2px,#2875c2 49.4px,#2b57c4 56.0px,#2d4ebb 75.0px,#2d4ebb 95.0px,#2862c7 115.0px,#2875c2 115.5px,#3a85bd 116.0px,#5c98bb 125.5px,#84aec1 135.0px,#adc5d1 140.1px,#d0dadf 145.2px,#f0eeed 150.3px,#eacec5 152.6px,#e2ad9e 155.0px,#da907a 159.1px,#d1735b 163.3px,#c8563e 167.4px,#c34231 171.2px,#af252e 175.0px,#861230 175.9px,#690f2a 176.9px,#540d23 185.9px,#3c0b18 195.0px,#460c1d 214.6px,#640f28 224.6px,#7d112f 234.6px)"></div>
<div style="top:536px;height:10px;left:106.0px;width:234.7px;background:linear-gradient(90deg,#d5826a 0.0px,#dc9883 8.5px,#e2ad9e 17.0px,#eacec5 21.2px,#f0eeed 25.4px,#d0dadf 28.6px,#adc5d1 31.8px,#84aec1 35.0px,#649cba 39.8px,#498ebc 44.6px,#317dc0 49.4px,#2862c7 56.0px,#2d4ebb 75.0px,#2d4ebb 95.0px,#2d4ebb 115.0px,#2862c7 116.0px,#317dc0 125.5px,#5192bb 135.0px,#74a5bb 140.0px,#a3bfcd 145.0px,#ccd7dd 150.0px,#f0eeed 155.0px,#ebd3cc 158.1px,#e5b8ab 161.2px,#dd9d8a 164.3px,#d5826a 167.4px,#cb6149 171.2px,#c34231 175.0px,#9a1730 175.9px,#7d112f 176.9px,#640f28 185.9px,#460c1d 195.0px,#460c1d 214.6px,#5f0e26 224.6px,#73102d 234.6px)"></div>
<div style="top:545px;height:10px;left:106.0px;width:234.7px;background:linear-gradient(90deg,#cf6c54 0.0px,#d5826a 8.5px,#dc9883 17.0px,#e4b4a7 21.5px,#ead1ca 26.1px,#f0eeed 30.6px,#d0dadf 34.0px,#adc5d1 37.5px,#84aec1 40.9px,#609aba 45.9px,#4189bd 51.0px,#2875c2 56.0px,#2b57c4 75.0px,#2d4ebb 95.0px,#2d4ebb 115.0px,#2d4ebb 116.0px,#236cc5 125.5px,#3a85bd 135.0px,#5695bb 140.0px,#74a5bb 145.0px,#9bbbca 150.0px,#c0d0d8 155.0px,#e4e6e8 159.5px,#ecd8d3 164.0px,#e5b8ab 169.5px,#dc9883 175.0px,#d47c64 175.5px,#cb6149 175.9px,#c44734 176.4px,#af252e 176.9px,#861230 185.9px,#690f2a 195.0px,#460c1d 214.6px,#690f2a 234.6px)"></div>
<div style="top:554px;height:11px;left:106.0px;width:234.7px;background:linear-gradient(90deg,#af252e 0.0px,#c34231 8.5px,#c8563e 17.0px,#d1735b 22.1px,#da907a 27.2px,#e2ad9e 32.3px,#eacec5 36.6px,#f0eeed 40.9px,#ccd7dd 45.2px,#a3bfcd 49.4px,#74a5bb 52.7px,#5192bb 56.0px,#3a85bd 65.5px,#2875c2 75.0px,#2b57c4 95.0px,#2e419f 107.7px,#2e419f 115.0px,#2e419f 116.0px,#2d4ebb 125.5px,#2862c7 135.0px,#2c79c1 140.0px,#458cbc 145.0px,#629bba 150.0px,#84aec1 155.0px,#adc5d1 159.1px,#d0dadf 163.3px,#f0eeed 167.4px,#eacec5 171.2px,#e2ad9e 175.0px,#da907a 175.6px,#d1735b 176.3px,#c8563e 176.9px,#c13b2c 182.9px,#971630 189.0px,#7d112f 195.0px,#690f2a 204.8px,#540d23 214.6px,#5f0e26 234.6px)"></div>
<div style="top:564px;height:10px;left:106.0px;width:234.7px;background:linear-gradient(90deg,#901431 0.0px,#af252e 17.0px,#c44835 23.0px,#cc644c 29.0px,#d5826a 35.0px,#dd9d8a 38.6px,#e5b8ab 42.2px,#ebd3cc 45.8px,#f0eeed 49.4px,#d0dadf 51.6px,#adc5d1 53.8px,#84aec1 56.0px,#5c98bb 65.5px,#3a85bd 75.0px,#236cc5 95.0px,#2b57c4 101.3px,#2e46ae 107.7px,#2e419f 115.0px,#2b357f 116.0px,#2e419f 125.5px,#2d4ebb 135.0px,#2569c5 141.7px,#3480bf 148.3px,#5192bb 155.0px,#6fa3b9 159.1px,#98b9c9 163.3px,#c0d0d8 167.4px,#d8dfe3 171.2px,#f0eeed 175.0px,#ebd3cc 175.5px,#e5b8ab 175.9px,#dd9d8a 176.4px,#d5826a 176.9px,#cc644c 182.9px,#c44835 189.0px,#af252e 195.0px,#861230 204.8px,#690f2a 214.6px,#5f0e26 234.6px)"></div>
<div style="top:573px;height:10px;left:106.0px;width:234.7px;background:linear-gradient(90deg,#861230 0.0px,#901431 17.0px,#b8302d 23.0px,#c64f3a 29.0px,#cf6c54 35.0px,#d98d75 42.2px,#e2ad9e 49.4px,#eacec5 52.7px,#f0eeed 56.0px,#ccd7dd 61.3px,#a3bfcd 66.6px,#84aec1 70.8px,#689eba 75.0px,#458cbc 85.0px,#2875c2 95.0px,#2b57c4 101.3px,#2e419f 107.7px,#2b357f 115.0px,#24295d 116.0px,#2b357f 135.0px,#2e44a9 141.7px,#2a5bc7 148.3px,#2875c2 155.0px,#4189bd 159.1px,#609aba 163.3px,#84aec1 167.4px,#a3bfcd 171.2px,#c0d0d8 175.0px,#e0e4e6 175.6px,#ede0db 176.3px,#e7c3b8 176.9px,#e2ad9e 184.6px,#d98d75 189.8px,#cf6c54 195.0px,#c54c37 201.5px,#af252e 208.1px,#861230 214.6px,#690f2a 234.6px)"></div>
<div style="top:582px;height:10px;left:106.0px;width:234.7px;background:linear-gradient(90deg,#690f2a 0.0px,#7d112f 17.0px,#9a1730 26.0px,#c34231 35.0px,#ca5d45 39.8px,#d37a62 44.6px,#dc9883 49.4px,#e5b8ab 52.7px,#ecd8d3 56.0px,#f0eeed 61.3px,#d8dfe3 66.6px,#c0d0d8 70.8px,#a3bfcd 75.0px,#74a5bb 85.0px,#5192bb 95.0px,#317dc0 101.3px,#2862c7 107.7px,#2d4ebb 111.3px,#2e419f 115.0px,#2b357f 115.5px,#24295d 116.0px,#24295d 135.0px,#2e3b90 145.0px,#2d4ebb 155.0px,#2569c5 159.1px,#3480bf 163.3px,#5192bb 167.4px,#689eba 171.2px,#84aec1 175.0px,#b2c8d3 175.9px,#d8dfe3 176.9px,#f0eeed 182.4px,#ecd8d3 188.0px,#e5b8ab 191.5px,#dc9883 195.0px,#d47c64 199.9px,#cb6149 204.8px,#c44734 209.7px,#af252e 214.6px,#8b1331 224.6px,#73102d 234.6px)"></div>
<div style="top:591px;height:10px;left:106.0px;width:234.7px;background:linear-gradient(90deg,#540d23 0.0px,#460c1d 8.3px,#5f0e26 17.0px,#77112e 23.0px,#8c1331 29.0px,#af252e 35.0px,#c44835 39.8px,#cc644c 44.6px,#d5826a 49.4px,#dc9883 52.7px,#e2ad9e 56.0px,#eacec5 65.5px,#f0eeed 75.0px,#d8dfe3 79.3px,#c0d0d8 83.7px,#93b7c7 89.3px,#689eba 95.0px,#458cbc 101.3px,#2875c2 107.7px,#2862c7 111.3px,#2d4ebb 115.0px,#2e419f 116.0px,#293277 125.5px,#1f234f 135.0px,#2b357f 155.0px,#2e44a9 159.1px,#2a5bc7 163.3px,#2875c2 167.4px,#458cbc 171.2px,#689eba 175.0px,#84aec1 175.9px,#a3bfcd 176.9px,#ccd7dd 182.4px,#f0eeed 188.0px,#eacec5 191.5px,#e2ad9e 195.0px,#da907a 201.5px,#d1735b 208.1px,#c8563e 214.6px,#c23e2e 221.3px,#9d1830 227.9px,#861230 234.6px)"></div>
<div style="top:600px;height:10px;left:106.0px;width:234.7px;background:linear-gradient(90deg,#dc9883 0.0px,#dfa290 17.0px,#e2ad9e 35.0px,#e7c3b8 49.4px,#ecd8d3 56.0px,#f0eeed 75.0px,#d8dfe3 95.0px,#c0d0d8 115.0px,#c0d0d8 116.0px,#b2c8d3 135.0px,#c0d0d8 155.0px,#d8dfe3 175.0px,#e4e6e8 176.9px,#f0eeed 195.0px,#f0eeed 234.6px)"></div>
<div style="top:609px;height:10px;left:106.0px;width:234.7px;background:linear-gradient(90deg,#e2ad9e 0.0px,#e5b8ab 17.0px,#e2ad9e 35.0px,#e5b8ab 56.0px,#ecd8d3 75.0px,#f0eeed 95.0px,#d8dfe3 115.0px,#c0d0d8 116.0px,#b2c8d3 135.0px,#b2c8d3 155.0px,#c0d0d8 175.0px,#d8dfe3 176.9px,#f0eeed 185.9px,#ecd8d3 195.0px,#e7c3b8 214.6px,#e7c3b8 234.6px)"></div>
<div style="top:618px;height:11px;left:106.0px;width:234.7px;background:linear-gradient(90deg,#dc9883 0.0px,#dc9883 17.0px,#d98d75 35.0px,#dc9883 56.0px,#e2ad9e 65.5px,#e7c3b8 75.0px,#ecd8d3 79.3px,#f0eeed 83.7px,#ccd7dd 89.3px,#a3bfcd 95.0px,#84aec1 115.0px,#84aec1 116.0px,#84aec1 155.0px,#93b7c7 175.0px,#c0d0d8 176.9px,#d8dfe3 182.4px,#f0eeed 188.0px,#ecd8d3 191.5px,#e7c3b8 195.0px,#e2ad9e 204.8px,#dc9883 214.6px,#d2775f 234.6px)"></div>
<div style="top:628px;height:10px;left:106.0px;width:234.7px;background:linear-gradient(90deg,#e2ad9e 0.0px,#e2ad9e 17.0px,#e2ad9e 35.0px,#e2ad9e 56.0px,#e7c3b8 75.0px,#eee3e0 85.0px,#d8dfe3 95.0px,#c0d0d8 115.0px,#a3bfcd 116.0px,#93b7c7 135.0px,#93b7c7 155.0px,#a3bfcd 175.0px,#c0d0d8 175.9px,#d8dfe3 176.9px,#f0eeed 185.9px,#ecd8d3 195.0px,#e7c3b8 204.8px,#e2ad9e 214.6px,#e2ad9e 234.6px)"></div>
<div style="top:637px;height:10px;left:106.0px;width:234.7px;background:linear-gradient(90deg,#cf6c54 0.0px,#cf6c54 17.0px,#cb6149 35.0px,#c8563e 49.4px,#cf6c54 56.0px,#d5826a 65.5px,#dc9883 75.0px,#e4b4a7 79.0px,#ead1ca 83.1px,#f0eeed 87.1px,#d8dfe3 91.1px,#c0d0d8 95.0px,#98b9c9 101.7px,#6fa3b9 108.3px,#5192bb 115.0px,#3581bf 115.5px,#236cc5 116.0px,#2862c7 135.0px,#2d4ebb 146.9px,#2862c7 155.0px,#2875c2 175.0px,#3a85bd 175.9px,#5192bb 176.9px,#74a5bb 180.8px,#a3bfcd 184.6px,#ccd7dd 187.1px,#f0eeed 189.7px,#eacec5 192.4px,#e2ad9e 195.0px,#dc9883 200.9px,#d5826a 206.9px,#cf6c54 214.6px,#c8563e 234.6px)"></div>
<div style="top:646px;height:10px;left:106.0px;width:234.7px;background:linear-gradient(90deg,#f0eeed 0.0px,#ead1ca 2.8px,#e4b4a7 5.5px,#dc9883 8.3px,#d98d75 17.0px,#d5826a 35.0px,#cf6c54 45.5px,#c8563e 56.0px,#cf6c54 75.0px,#d98d75 81.1px,#e2ad9e 87.1px,#e7c3b8 91.1px,#ecd8d3 95.0px,#e4e6e8 101.3px,#c0d0d8 107.7px,#93b7c7 111.3px,#689eba 115.0px,#5192bb 115.5px,#3a85bd 116.0px,#317dc0 135.0px,#3a85bd 155.0px,#5192bb 175.0px,#689eba 176.9px,#8bb2c4 179.7px,#b2c8d3 182.4px,#d2dbe0 185.2px,#f0eeed 188.0px,#ecd8d3 191.5px,#e7c3b8 195.0px,#e2ad9e 204.8px,#dc9883 214.6px,#d5826a 224.6px,#cf6c54 234.6px)"></div>
<div style="top:655px;height:10px;left:106.0px;width:234.7px;background:linear-gradient(90deg,#c0d0d8 0.0px,#d8dfe3 17.0px,#f0eeed 35.0px,#f0eeed 56.0px,#ecd8d3 75.0px,#eee3e0 95.0px,#e4e6e8 115.0px,#ccd7dd 116.0px,#d8dfe3 135.0px,#e4e6e8 155.0px,#f0eeed 175.0px,#ecd8d3 176.9px,#eacec5 195.0px,#e7c3b8 214.6px,#e5b8ab 234.6px)"></div>
<div style="top:664px;height:10px;left:106.0px;width:234.7px;background:linear-gradient(90deg,#ecd8d3 0.0px,#eaeaea 8.5px,#ccd7dd 17.0px,#c0d0d8 35.0px,#b2c8d3 56.0px,#ccd7dd 75.0px,#d8dfe3 95.0px,#e4e6e8 115.0px,#f0eeed 116.0px,#eee3e0 135.0px,#e7c3b8 155.0px,#e5b8ab 175.0px,#e2ad9e 195.0px,#e7c3b8 214.6px,#ecd8d3 234.6px)"></div>
<div style="top:673px;height:10px;left:106.0px;width:234.7px;background:linear-gradient(90deg,#ecd8d3 0.0px,#f0eeed 8.5px,#d8dfe3 17.0px,#c0d0d8 26.0px,#a3bfcd 35.0px,#a3bfcd 56.0px,#c8d5dc 62.3px,#e8e9ea 68.7px,#ecd8d3 75.0px,#e7c3b8 95.0px,#e2ad9e 115.0px,#e7c3b8 116.0px,#e7c3b8 135.0px,#ecd8d3 155.0px,#eacec5 175.0px,#e7c3b8 195.0px,#e7c3b8 214.6px,#ecd8d3 224.6px,#f0eeed 234.6px)"></div>
<div style="top:682px;height:11px;left:106.0px;width:234.7px;background:linear-gradient(90deg,#a3bfcd 0.0px,#74a5bb 8.5px,#5192bb 17.0px,#5192bb 35.0px,#689eba 56.0px,#93b7c7 65.5px,#c0d0d8 75.0px,#dee3e5 80.0px,#eee3e0 85.0px,#e8c8bf 90.0px,#e2ad9e 95.0px,#d98d75 105.0px,#cf6c54 115.0px,#d5826a 116.0px,#d2775f 135.0px,#d5826a 155.0px,#d98d75 175.0px,#dc9883 176.9px,#e2ad9e 185.9px,#e7c3b8 195.0px,#ecd8d3 204.8px,#f0eeed 214.6px,#d8dfe3 224.6px,#c0d0d8 234.6px)"></div>
<div style="top:692px;height:10px;left:106.0px;width:234.7px;background:linear-gradient(90deg,#84aec1 0.0px,#689eba 8.5px,#5192bb 17.0px,#5192bb 35.0px,#317dc0 45.5px,#2862c7 56.0px,#2e7bc1 62.3px,#498ebc 68.7px,#689eba 75.0px,#8bb2c4 80.0px,#b2c8d3 85.0px,#d2dbe0 90.0px,#f0eeed 95.0px,#ead0c8 99.0px,#e3b2a3 103.0px,#db937e 107.0px,#d1755d 111.0px,#c8563e 115.0px,#c8563e 116.0px,#c34231 125.5px,#af252e 135.0px,#bd362d 155.0px,#c8563e 175.0px,#cf6c54 175.9px,#d5826a 176.9px,#dc9883 185.9px,#e2ad9e 195.0px,#eacec5 200.9px,#f0eeed 206.9px,#ccd7dd 210.8px,#a3bfcd 214.6px,#79a8bd 221.3px,#5896bb 227.9px,#3a85bd 234.6px)"></div>
<div style="top:701px;height:10px;left:106.0px;width:234.7px;background:linear-gradient(90deg,#e7c3b8 0.0px,#ecd8d3 8.5px,#f0eeed 17.0px,#f0eeed 35.0px,#d2dbe0 40.2px,#b2c8d3 45.5px,#8bb2c4 50.8px,#689eba 56.0px,#4b8fbc 58.7px,#317dc0 61.3px,#2667c6 63.9px,#2d4ebb 66.6px,#2862c7 75.0px,#2e7bc1 81.7px,#498ebc 88.3px,#689eba 95.0px,#8bb2c4 98.2px,#b2c8d3 101.3px,#d2dbe0 104.5px,#f0eeed 107.7px,#ecd8d3 115.0px,#e6bdb2 115.2px,#dfa290 115.5px,#d7876f 115.8px,#cf6c54 116.0px,#c8563e 135.0px,#c34231 155.0px,#bd362d 167.4px,#c34231 175.0px,#ca5d45 175.6px,#d37a62 176.3px,#dc9883 176.9px,#e5b8ab 185.9px,#ecd8d3 195.0px,#f0eeed 200.9px,#d8dfe3 206.9px,#c0d0d8 210.8px,#a3bfcd 214.6px,#74a5bb 224.6px,#5192bb 234.6px)"></div>
<div style="top:710px;height:2px;left:106.0px;width:234.7px;background:linear-gradient(90deg,#ecd8d3 0.0px,#e8e9ea 18.7px,#c8d5dc 37.3px,#a3bfcd 56.0px,#ccd7dd 85.5px,#f0eeed 115.0px,#f0eeed 116.0px,#ecd8d3 155.0px,#ecd8d3 175.0px,#e8e9ea 175.6px,#c8d5dc 176.3px,#a3bfcd 176.9px,#a3bfcd 234.6px)"></div>
<div style="top:508px;height:11px;left:355.0px;width:234.3px;background:linear-gradient(90deg,#f0eeed 0.0px,#d8dfe3 8.3px,#b2c8d3 12.6px,#84aec1 17.0px,#689eba 26.0px,#5192bb 35.0px,#3a85bd 42.2px,#2875c2 49.4px,#236cc5 56.0px,#2875c2 75.0px,#3a85bd 95.0px,#5192bb 101.4px,#689eba 107.7px,#84aec1 115.0px,#a3bfcd 116.0px,#ccd7dd 126.3px,#f0eeed 135.0px,#eacec5 139.2px,#e2ad9e 143.4px,#d98d75 149.2px,#cf6c54 155.0px,#c64f3a 159.1px,#b8302d 163.3px,#901431 167.4px,#7d112f 175.0px,#73102d 176.9px,#7d112f 195.0px,#901431 200.0px,#af252e 205.0px,#c54c37 214.6px,#cf6c54 225.7px,#d5826a 234.6px)"></div>
<div style="top:518px;height:10px;left:355.0px;width:234.3px;background:linear-gradient(90deg,#a3bfcd 0.0px,#84aec1 8.5px,#689eba 17.0px,#5192bb 26.0px,#3a85bd 35.0px,#2471c4 42.2px,#2b57c4 49.4px,#2d4ebb 56.0px,#2b57c4 75.0px,#2875c2 95.0px,#3a85bd 101.4px,#5192bb 107.7px,#689eba 115.0px,#93b7c7 116.0px,#baccd6 122.9px,#d8dfe3 129.7px,#f0eeed 132.4px,#ecd8d3 135.0px,#e5b8ab 139.2px,#dc9883 143.4px,#d2775f 149.2px,#c8563e 155.0px,#c13b2c 159.1px,#971630 163.3px,#7d112f 167.4px,#690f2a 175.0px,#540d23 176.9px,#690f2a 195.0px,#861230 200.0px,#af252e 205.0px,#c54c37 209.8px,#cf6c54 214.6px,#d5826a 220.2px,#dc9883 225.7px,#e2ad9e 234.6px)"></div>
<div style="top:527px;height:10px;left:355.0px;width:234.3px;background:linear-gradient(90deg,#84aec1 0.0px,#5c98bb 17.0px,#458cbc 26.0px,#317dc0 35.0px,#2667c6 42.2px,#2d4ebb 49.4px,#2e419f 56.0px,#2e46ae 75.0px,#2b57c4 85.0px,#236cc5 95.0px,#3a85bd 107.7px,#5192bb 115.0px,#6fa3b9 115.3px,#98b9c9 115.7px,#c0d0d8 116.0px,#d8dfe3 122.9px,#f0eeed 129.7px,#ecd8d3 132.4px,#e7c3b8 135.0px,#dfa290 139.2px,#d5826a 143.4px,#cb6149 149.2px,#c34231 155.0px,#a51d2f 159.1px,#891331 163.3px,#73102d 167.4px,#540d23 175.0px,#460c1d 176.9px,#540d23 195.0px,#73102d 200.0px,#901431 205.0px,#bd362d 209.8px,#c8563e 214.6px,#cf6c54 220.2px,#d5826a 225.7px,#dc9883 234.6px)"></div>
<div style="top:536px;height:10px;left:355.0px;width:234.3px;background:linear-gradient(90deg,#a3bfcd 0.0px,#84aec1 8.5px,#689eba 17.0px,#458cbc 26.0px,#2875c2 35.0px,#2a5cc8 42.2px,#2e46ae 49.4px,#2e419f 56.0px,#2e419f 75.0px,#2d4ebb 85.0px,#2862c7 95.0px,#2875c2 105.0px,#3a85bd 115.0px,#5695bb 115.2px,#74a5bb 115.5px,#9bbbca 115.8px,#c0d0d8 116.0px,#d8dfe3 126.3px,#f0eeed 130.6px,#ecd8d3 135.0px,#e5b8ab 139.2px,#dc9883 143.4px,#d2775f 149.2px,#c8563e 155.0px,#c13b2c 159.1px,#971630 163.3px,#7d112f 167.4px,#5f0e26 175.0px,#460c1d 176.9px,#460c1d 195.0px,#640f28 200.0px,#7d112f 205.0px,#9a1730 209.8px,#c34231 214.6px,#c8563e 220.2px,#cf6c54 225.7px,#d5826a 234.6px)"></div>
<div style="top:545px;height:10px;left:355.0px;width:234.3px;background:linear-gradient(90deg,#f0eeed 0.0px,#d8dfe3 4.1px,#c0d0d8 8.3px,#93b7c7 12.6px,#689eba 17.0px,#4b8fbc 26.0px,#317dc0 35.0px,#2667c6 42.2px,#2d4ebb 49.4px,#2e419f 56.0px,#2e3b90 75.0px,#2d4ebb 95.0px,#2862c7 105.0px,#2875c2 115.0px,#438abc 115.2px,#639cba 115.4px,#8ab1c3 115.6px,#b5cad4 115.8px,#d8dfe3 116.0px,#f0eeed 135.0px,#eacec5 139.2px,#e2ad9e 143.4px,#d98d75 149.2px,#cf6c54 155.0px,#c64f3a 159.1px,#b8302d 163.3px,#901431 167.4px,#7d112f 171.2px,#690f2a 175.0px,#460c1d 176.9px,#460c1d 195.0px,#5f0e26 200.0px,#73102d 205.0px,#8b1331 209.8px,#af252e 214.6px,#c34231 220.2px,#c8563e 225.7px,#cf6c54 234.6px)"></div>
<div style="top:554px;height:11px;left:355.0px;width:234.3px;background:linear-gradient(90deg,#e2ad9e 0.0px,#e7c3b8 4.1px,#ecd8d3 8.3px,#e8e9ea 11.2px,#c8d5dc 14.1px,#a3bfcd 17.0px,#74a5bb 26.0px,#5192bb 35.0px,#317dc0 42.2px,#2862c7 49.4px,#2d4ebb 56.0px,#2e3b90 75.0px,#2d4ebb 95.0px,#236cc5 115.0px,#3a85bd 115.3px,#5c98bb 115.7px,#84aec1 116.0px,#b2c8d3 125.5px,#d8dfe3 135.0px,#eee3e0 139.2px,#e7c3b8 143.4px,#dfa290 149.2px,#d5826a 155.0px,#cc644c 159.1px,#c44835 163.3px,#af252e 167.4px,#901431 171.2px,#7d112f 175.0px,#690f2a 176.9px,#690f2a 195.0px,#7d112f 205.0px,#901431 209.8px,#af252e 214.6px,#c34231 220.2px,#c8563e 225.7px,#cf6c54 234.6px)"></div>
<div style="top:564px;height:10px;left:355.0px;width:234.3px;background:linear-gradient(90deg,#cf6c54 0.0px,#d5826a 8.3px,#de9f8c 11.2px,#e6bcb0 14.1px,#ecd8d3 17.0px,#e4e6e8 21.2px,#c0d0d8 25.4px,#93b7c7 30.2px,#689eba 35.0px,#458cbc 42.2px,#2875c2 49.4px,#2862c7 56.0px,#2d4ebb 75.0px,#2b57c4 95.0px,#236cc5 115.0px,#3581bf 115.5px,#5192bb 116.0px,#74a5bb 125.5px,#a3bfcd 135.0px,#ccd7dd 138.4px,#f0eeed 141.7px,#eacec5 148.4px,#e2ad9e 155.0px,#da907a 159.1px,#d1735b 163.3px,#c8563e 167.4px,#c34231 171.2px,#af252e 175.0px,#901431 176.9px,#7d112f 195.0px,#7d112f 214.6px,#901431 225.7px,#af252e 234.6px)"></div>
<div style="top:573px;height:10px;left:355.0px;width:234.3px;background:linear-gradient(90deg,#af252e 0.0px,#c44835 5.7px,#cc644c 11.3px,#d5826a 17.0px,#dd9d8a 20.0px,#e5b8ab 22.9px,#ebd3cc 25.9px,#f0eeed 28.9px,#ccd7dd 31.9px,#a3bfcd 35.0px,#74a5bb 42.2px,#5192bb 49.4px,#3a85bd 52.7px,#2875c2 56.0px,#2862c7 75.0px,#2862c7 95.0px,#236cc5 115.0px,#3a85bd 116.0px,#5192bb 125.5px,#689eba 135.0px,#8bb2c4 138.8px,#b2c8d3 142.6px,#d2dbe0 146.5px,#f0eeed 150.3px,#ecd8d3 154.6px,#e7c3b8 158.9px,#e2ad9e 163.1px,#dc9883 167.4px,#d5826a 175.0px,#cf6c54 176.9px,#c8563e 186.0px,#c34231 195.0px,#af252e 204.8px,#901431 214.6px,#7d112f 225.7px,#901431 234.6px)"></div>
<div style="top:582px;height:10px;left:355.0px;width:234.3px;background:linear-gradient(90deg,#7d112f 0.0px,#9a1730 8.5px,#c34231 17.0px,#c95b43 20.0px,#d2775f 22.9px,#da927c 25.9px,#e2ad9e 28.9px,#eacec5 31.9px,#f0eeed 35.0px,#d0dadf 39.8px,#adc5d1 44.6px,#84aec1 49.4px,#5c98bb 52.7px,#3a85bd 56.0px,#317dc0 75.0px,#317dc0 95.0px,#317dc0 115.0px,#5192bb 116.0px,#5192bb 135.0px,#74a5bb 145.0px,#a3bfcd 155.0px,#ccd7dd 159.5px,#f0eeed 164.0px,#ecd8d3 175.0px,#e7c3b8 176.0px,#e2ad9e 176.9px,#dc9883 186.0px,#d5826a 195.0px,#cb6149 204.8px,#c34231 214.6px,#a01830 220.2px,#861230 225.7px,#7d112f 234.6px)"></div>
<div style="top:591px;height:10px;left:355.0px;width:234.3px;background:linear-gradient(90deg,#7d112f 0.0px,#901431 8.5px,#af252e 17.0px,#c44835 21.0px,#cc644c 24.9px,#d5826a 28.9px,#dd9d8a 30.4px,#e5b8ab 31.9px,#ebd3cc 33.5px,#f0eeed 35.0px,#ccd7dd 42.2px,#a3bfcd 49.4px,#84aec1 52.7px,#689eba 56.0px,#74a5bb 75.0px,#a3bfcd 95.0px,#a3bfcd 115.0px,#ccd7dd 115.5px,#f0eeed 116.0px,#d8dfe3 121.1px,#c0d0d8 126.3px,#a3bfcd 135.0px,#84aec1 145.0px,#689eba 155.0px,#84aec1 167.4px,#84aec1 175.0px,#a3bfcd 176.9px,#c0d0d8 182.5px,#d8dfe3 188.0px,#f0eeed 191.5px,#ecd8d3 195.0px,#e5b8ab 204.8px,#dc9883 214.6px,#d37a62 218.3px,#ca5d45 222.0px,#c34231 225.7px,#af252e 230.2px,#901431 234.6px)"></div>
<div style="top:600px;height:10px;left:355.0px;width:234.3px;background:linear-gradient(90deg,#e2ad9e 0.0px,#e7c3b8 17.0px,#ecd8d3 26.0px,#f0eeed 35.0px,#d8dfe3 38.8px,#c0d0d8 42.6px,#d8dfe3 49.3px,#f0eeed 56.0px,#ecd8d3 75.0px,#e7c3b8 79.4px,#e2ad9e 83.7px,#dc9883 89.4px,#d5826a 95.0px,#cf6c54 115.0px,#cf6c54 116.0px,#d5826a 135.0px,#dfa290 142.6px,#e7c3b8 150.3px,#edded9 152.4px,#e4e6e8 154.6px,#c6d4db 156.8px,#a3bfcd 158.9px,#84aec1 175.0px,#689eba 176.0px,#5192bb 176.9px,#3a85bd 182.5px,#2875c2 188.0px,#458cbc 191.5px,#689eba 195.0px,#8eb4c5 201.5px,#b7cbd5 208.1px,#d8dfe3 214.6px,#eee3e0 220.2px,#e7c3b8 225.7px,#dfa290 230.2px,#d5826a 234.6px)"></div>
<div style="top:609px;height:10px;left:355.0px;width:234.3px;background:linear-gradient(90deg,#dc9883 0.0px,#dfa290 17.0px,#e6bdb2 26.0px,#ecd8d3 35.0px,#f0eeed 42.2px,#d8dfe3 49.4px,#c0d0d8 52.7px,#a3bfcd 56.0px,#84aec1 75.0px,#689eba 95.0px,#5c98bb 115.0px,#5192bb 116.0px,#74a5bb 125.5px,#a3bfcd 135.0px,#ccd7dd 140.1px,#f0eeed 145.1px,#ecd8d3 150.1px,#e7c3b8 155.0px,#dfa290 165.0px,#d5826a 175.0px,#cf6c54 176.0px,#c8563e 176.9px,#cf6c54 195.0px,#d5826a 204.8px,#dc9883 214.6px,#e5b8ab 224.6px,#ecd8d3 234.6px)"></div>
<div style="top:618px;height:11px;left:355.0px;width:234.3px;background:linear-gradient(90deg,#d5826a 0.0px,#cf6c54 17.0px,#d98d75 26.0px,#e2ad9e 35.0px,#eacec5 40.5px,#f0eeed 46.0px,#ccd7dd 48.5px,#a3bfcd 51.0px,#74a5bb 53.5px,#5192bb 56.0px,#317dc0 65.5px,#2862c7 75.0px,#236cc5 95.0px,#2875c2 115.0px,#3a85bd 116.0px,#5c98bb 125.5px,#84aec1 135.0px,#adc5d1 138.4px,#d0dadf 141.7px,#f0eeed 145.1px,#eacec5 150.1px,#e2ad9e 155.0px,#da907a 161.7px,#d1735b 168.3px,#c8563e 175.0px,#c34231 176.0px,#af252e 176.9px,#861230 184.6px,#901431 195.0px,#b62d2d 199.9px,#c54c37 204.8px,#cd664e 209.7px,#d5826a 214.6px,#dc9883 224.6px,#e2ad9e 234.6px)"></div>
<div style="top:628px;height:10px;left:355.0px;width:234.3px;background:linear-gradient(90deg,#dc9883 0.0px,#d5826a 17.0px,#dfa290 26.0px,#e7c3b8 35.0px,#ecd8d3 42.2px,#f0eeed 49.4px,#ccd7dd 51.0px,#a3bfcd 52.7px,#74a5bb 54.4px,#5192bb 56.0px,#3480bf 62.3px,#2569c5 68.7px,#2d4ebb 75.0px,#2e419f 81.1px,#2b357f 87.1px,#2e419f 91.1px,#2d4ebb 95.0px,#2862c7 105.0px,#2875c2 115.0px,#2875c2 116.0px,#458cbc 125.5px,#689eba 135.0px,#8bb2c4 137.5px,#b2c8d3 140.1px,#d2dbe0 142.6px,#f0eeed 145.1px,#eacec5 150.1px,#e2ad9e 155.0px,#d98d75 165.0px,#cf6c54 175.0px,#c8563e 176.0px,#c34231 176.9px,#af252e 186.0px,#901431 195.0px,#b8302d 201.5px,#c64f3a 208.1px,#cf6c54 214.6px,#d5826a 224.6px,#dc9883 234.6px)"></div>
<div style="top:637px;height:10px;left:355.0px;width:234.3px;background:linear-gradient(90deg,#d5826a 0.0px,#d5826a 17.0px,#dfa290 26.0px,#e7c3b8 35.0px,#ecd8d3 42.2px,#f0eeed 49.4px,#ced9de 50.7px,#a9c3cf 52.0px,#7daabe 53.4px,#5a97bb 54.7px,#3a85bd 56.0px,#2471c4 65.5px,#2b57c4 75.0px,#2e419f 87.1px,#2d4ebb 95.0px,#2862c7 105.0px,#2875c2 115.0px,#2862c7 116.0px,#317dc0 125.5px,#5192bb 135.0px,#74a5bb 138.0px,#a3bfcd 140.9px,#ccd7dd 143.9px,#f0eeed 146.9px,#eacec5 150.9px,#e2ad9e 155.0px,#d98d75 165.0px,#cf6c54 175.0px,#c54c37 176.0px,#af252e 176.9px,#c34231 195.0px,#cb6149 204.8px,#d5826a 214.6px,#dc9883 224.6px,#e2ad9e 234.6px)"></div>
<div style="top:646px;height:10px;left:355.0px;width:234.3px;background:linear-gradient(90deg,#d5826a 0.0px,#dc9883 17.0px,#e2ad9e 26.0px,#e7c3b8 35.0px,#ecd8d3 42.2px,#f0eeed 49.4px,#ced9de 50.7px,#a9c3cf 52.0px,#7daabe 53.4px,#5a97bb 54.7px,#3a85bd 56.0px,#2875c2 65.5px,#2862c7 75.0px,#2d4ebb 87.1px,#2b57c4 95.0px,#2875c2 115.0px,#3a85bd 116.0px,#5c98bb 125.5px,#84aec1 135.0px,#adc5d1 139.0px,#d0dadf 142.9px,#f0eeed 146.9px,#eacec5 150.9px,#e2ad9e 155.0px,#dc9883 165.0px,#d5826a 175.0px,#cb6149 176.0px,#c34231 176.9px,#c8563e 195.0px,#cf6c54 204.8px,#d5826a 214.6px,#dc9883 224.6px,#e2ad9e 234.6px)"></div>
<div style="top:655px;height:10px;left:355.0px;width:234.3px;background:linear-gradient(90deg,#f0eeed 0.0px,#ecd8d3 17.0px,#ecd8d3 35.0px,#f0eeed 49.4px,#ccd7dd 51.0px,#a3bfcd 52.7px,#74a5bb 54.4px,#5192bb 56.0px,#3a85bd 65.5px,#2875c2 75.0px,#2862c7 87.1px,#2862c7 95.0px,#2875c2 115.0px,#458cbc 115.5px,#689eba 116.0px,#84aec1 125.5px,#a3bfcd 135.0px,#ccd7dd 140.1px,#f0eeed 145.1px,#ead1ca 148.4px,#e4b4a7 151.7px,#dc9883 155.0px,#d37a62 161.7px,#ca5d45 168.3px,#c34231 175.0px,#af252e 176.0px,#901431 176.9px,#af252e 195.0px,#c54c37 204.8px,#cf6c54 214.6px,#d88971 221.3px,#e0a695 227.9px,#e7c3b8 234.6px)"></div>
<div style="top:664px;height:10px;left:355.0px;width:234.3px;background:linear-gradient(90deg,#a3bfcd 0.0px,#c0d0d8 8.5px,#d8dfe3 17.0px,#f0eeed 35.0px,#d8dfe3 49.4px,#b7cbd5 51.6px,#8eb4c5 53.8px,#689eba 56.0px,#458cbc 65.5px,#2875c2 75.0px,#2b57c4 87.1px,#2d4ebb 95.0px,#2862c7 115.0px,#2e7bc1 115.3px,#498ebc 115.7px,#689eba 116.0px,#84aec1 125.5px,#a3bfcd 135.0px,#ccd7dd 139.2px,#f0eeed 143.4px,#ebd3cc 146.3px,#e5b8ab 149.2px,#dd9d8a 152.1px,#d5826a 155.0px,#cf6c54 161.2px,#c8563e 167.4px,#c34231 171.2px,#af252e 175.0px,#901431 176.0px,#7d112f 176.9px,#901431 184.6px,#af252e 189.8px,#c34231 195.0px,#ca5d45 201.5px,#d37a62 208.1px,#dc9883 214.6px,#e4b4a7 221.3px,#ead1ca 227.9px,#f0eeed 234.6px)"></div>
<div style="top:673px;height:10px;left:355.0px;width:234.3px;background:linear-gradient(90deg,#f0eeed 0.0px,#eacec5 8.5px,#e2ad9e 17.0px,#e2ad9e 35.0px,#e7c3b8 42.2px,#ecd8d3 49.4px,#e8e9ea 51.6px,#c8d5dc 53.8px,#a3bfcd 56.0px,#74a5bb 60.8px,#5192bb 65.5px,#317dc0 70.2px,#2862c7 75.0px,#2d4ebb 87.1px,#2d4ebb 95.0px,#2862c7 115.0px,#2c79c1 115.2px,#458cbc 115.5px,#629bba 115.8px,#84aec1 116.0px,#b2c8d3 125.5px,#d8dfe3 135.0px,#f0eeed 139.2px,#ecd8d3 143.4px,#e6bcb0 147.3px,#de9f8c 151.1px,#d5826a 155.0px,#cf6c54 165.0px,#c8563e 175.0px,#c8563e 176.9px,#cf6c54 195.0px,#d5826a 204.8px,#dc9883 214.6px,#e2ad9e 224.6px,#e7c3b8 234.6px)"></div>
<div style="top:682px;height:11px;left:355.0px;width:234.3px;background:linear-gradient(90deg,#e2ad9e 0.0px,#e2ad9e 17.0px,#e2ad9e 35.0px,#eacec5 45.5px,#f0eeed 56.0px,#d2dbe0 58.6px,#b2c8d3 61.3px,#8bb2c4 64.0px,#689eba 66.6px,#4b8fbc 68.7px,#317dc0 70.8px,#2667c6 72.9px,#2d4ebb 75.0px,#2e419f 87.1px,#2e419f 95.0px,#2d4ebb 105.0px,#2862c7 115.0px,#2e7bc1 115.3px,#498ebc 115.7px,#689eba 116.0px,#93b7c7 125.5px,#c0d0d8 135.0px,#d8dfe3 140.1px,#f0eeed 145.1px,#eacec5 150.1px,#e2ad9e 155.0px,#dc9883 175.0px,#d5826a 176.9px,#d5826a 195.0px,#dc9883 204.8px,#e2ad9e 214.6px,#e7c3b8 224.6px,#ecd8d3 234.6px)"></div>
<div style="top:692px;height:10px;left:355.0px;width:234.3px;background:linear-gradient(90deg,#dc9883 0.0px,#dc9883 17.0px,#dc9883 35.0px,#e4b4a7 42.0px,#ead1ca 49.0px,#f0eeed 56.0px,#d0dadf 59.5px,#adc5d1 63.1px,#84aec1 66.6px,#5c98bb 68.7px,#3a85bd 70.8px,#236cc5 72.9px,#2d4ebb 75.0px,#2e419f 81.1px,#2b357f 87.1px,#2b357f 95.0px,#2e419f 105.0px,#2d4ebb 115.0px,#2569c5 115.3px,#3480bf 115.7px,#5192bb 116.0px,#74a5bb 125.5px,#a3bfcd 135.0px,#ccd7dd 140.1px,#f0eeed 145.1px,#ecd8d3 150.1px,#e7c3b8 155.0px,#e2ad9e 175.0px,#dc9883 176.9px,#e2ad9e 195.0px,#e9cac1 201.5px,#efe7e4 208.1px,#d8dfe3 214.6px,#b2c8d3 224.6px,#84aec1 234.6px)"></div>
<div style="top:701px;height:10px;left:355.0px;width:234.3px;background:linear-gradient(90deg,#e2ad9e 0.0px,#dc9883 17.0px,#dc9883 35.0px,#e5b8ab 45.5px,#ecd8d3 56.0px,#e8e9ea 59.5px,#c8d5dc 63.1px,#a3bfcd 66.6px,#74a5bb 68.7px,#5192bb 70.8px,#317dc0 72.9px,#2862c7 75.0px,#2d4ebb 83.7px,#2d4ebb 85.2px,#236dc5 85.2px,#3b86bd 85.2px,#5f9aba 85.2px,#88b1c2 85.3px,#b8cbd5 85.3px,#dde2e5 85.3px,#edddd9 85.3px,#e6bcb0 85.3px,#dd9b87 85.3px,#d37961 85.4px,#c8573f 85.4px,#be372c 85.4px,#901431 85.4px,#901431 115.0px,#c03a2c 115.1px,#ca5c44 115.2px,#d58068 115.3px,#dfa391 115.4px,#e8c7bd 115.5px,#efeae8 115.5px,#cdd8de 115.6px,#a0becc 115.7px,#6ea2b9 115.8px,#488dbc 115.9px,#2875c2 116.0px,#458cbc 125.5px,#689eba 135.0px,#8eb4c5 138.4px,#b7cbd5 141.7px,#d8dfe3 145.1px,#eee3e0 150.1px,#e7c3b8 155.0px,#e2ad9e 175.0px,#dc9883 176.9px,#e2ad9e 186.0px,#e7c3b8 195.0px,#ecd8d3 200.0px,#f0eeed 205.0px,#ccd7dd 209.8px,#a3bfcd 214.6px,#74a5bb 224.6px,#5192bb 234.6px)"></div>
<div style="top:710px;height:2px;left:355.0px;width:234.3px;background:linear-gradient(90deg,#84aec1 0.0px,#a3bfcd 75.0px,#a3bfcd 85.2px,#ccd7dd 85.2px,#f0eeed 85.2px,#eacec5 85.3px,#e2ad9e 85.3px,#d98d75 85.3px,#cf6c54 85.3px,#c54c37 85.4px,#af252e 85.4px,#af252e 115.0px,#c44835 115.3px,#cc644c 115.7px,#d5826a 116.0px,#dc9883 172.6px,#e4b6a8 172.7px,#ebd4cd 172.8px,#ebebeb 172.8px,#c9d6dc 172.9px,#a3bfcd 173.0px,#a3bfcd 234.6px)"></div></div><svg width="700" height="1007" viewBox="0 0 700 1007"><rect x="106.0" y="234.3" width="17.0" height="32.3" fill="#b0b0b0"/>
<text x="114.5" y="256.9" class="mo">J</text>
<rect x="123.0" y="234.3" width="18.0" height="32.3" fill="#686868"/>
<text x="132.0" y="256.9" class="mo">F</text>
<rect x="141.0" y="234.3" width="21.0" height="32.3" fill="#b0b0b0"/>
<text x="151.5" y="256.9" class="mo">M</text>
<rect x="162.0" y="234.3" width="19.0" height="32.3" fill="#686868"/>
<text x="171.5" y="256.9" class="mo">A</text>
<rect x="181.0" y="234.3" width="20.0" height="32.3" fill="#b0b0b0"/>
<text x="191.0" y="256.9" class="mo">M</text>
<rect x="201.0" y="234.3" width="20.5" height="32.3" fill="#686868"/>
<text x="211.2" y="256.9" class="mo">J</text>
<rect x="221.5" y="234.3" width="19.5" height="32.3" fill="#b0b0b0"/>
<text x="231.2" y="256.9" class="mo">J</text>
<rect x="241.0" y="234.3" width="20.0" height="32.3" fill="#686868"/>
<text x="251.0" y="256.9" class="mo">A</text>
<rect x="261.0" y="234.3" width="20.0" height="32.3" fill="#b0b0b0"/>
<text x="271.0" y="256.9" class="mo">S</text>
<rect x="281.0" y="234.3" width="20.0" height="32.3" fill="#686868"/>
<text x="291.0" y="256.9" class="mo">O</text>
<rect x="301.0" y="234.3" width="19.5" height="32.3" fill="#b0b0b0"/>
<text x="310.8" y="256.9" class="mo">N</text>
<rect x="320.5" y="234.3" width="20.2" height="32.3" fill="#686868"/>
<text x="330.6" y="256.9" class="mo">D</text>
<rect x="355.0" y="234.3" width="17.0" height="32.3" fill="#b0b0b0"/>
<text x="363.5" y="256.9" class="mo">J</text>
<rect x="372.0" y="234.3" width="18.0" height="32.3" fill="#686868"/>
<text x="381.0" y="256.9" class="mo">F</text>
<rect x="390.0" y="234.3" width="21.0" height="32.3" fill="#b0b0b0"/>
<text x="400.5" y="256.9" class="mo">M</text>
<rect x="411.0" y="234.3" width="19.0" height="32.3" fill="#686868"/>
<text x="420.5" y="256.9" class="mo">A</text>
<rect x="430.0" y="234.3" width="20.0" height="32.3" fill="#b0b0b0"/>
<text x="440.0" y="256.9" class="mo">M</text>
<rect x="450.0" y="234.3" width="20.5" height="32.3" fill="#686868"/>
<text x="460.2" y="256.9" class="mo">J</text>
<rect x="470.5" y="234.3" width="19.5" height="32.3" fill="#b0b0b0"/>
<text x="480.2" y="256.9" class="mo">J</text>
<rect x="490.0" y="234.3" width="20.0" height="32.3" fill="#686868"/>
<text x="500.0" y="256.9" class="mo">A</text>
<rect x="510.0" y="234.3" width="20.0" height="32.3" fill="#b0b0b0"/>
<text x="520.0" y="256.9" class="mo">S</text>
<rect x="530.0" y="234.3" width="20.0" height="32.3" fill="#686868"/>
<text x="540.0" y="256.9" class="mo">O</text>
<rect x="550.0" y="234.3" width="19.5" height="32.3" fill="#b0b0b0"/>
<text x="559.8" y="256.9" class="mo">N</text>
<rect x="569.5" y="234.3" width="20.2" height="32.3" fill="#686868"/>
<text x="579.6" y="256.9" class="mo">D</text>
<rect x="106.0" y="474.8" width="17.0" height="31.8" fill="#b0b0b0"/>
<text x="114.5" y="497.4" class="mo">J</text>
<rect x="123.0" y="474.8" width="18.0" height="31.8" fill="#686868"/>
<text x="132.0" y="497.4" class="mo">F</text>
<rect x="141.0" y="474.8" width="21.0" height="31.8" fill="#b0b0b0"/>
<text x="151.5" y="497.4" class="mo">M</text>
<rect x="162.0" y="474.8" width="19.0" height="31.8" fill="#686868"/>
<text x="171.5" y="497.4" class="mo">A</text>
<rect x="181.0" y="474.8" width="20.0" height="31.8" fill="#b0b0b0"/>
<text x="191.0" y="497.4" class="mo">M</text>
<rect x="201.0" y="474.8" width="20.5" height="31.8" fill="#686868"/>
<text x="211.2" y="497.4" class="mo">J</text>
<rect x="221.5" y="474.8" width="19.5" height="31.8" fill="#b0b0b0"/>
<text x="231.2" y="497.4" class="mo">J</text>
<rect x="241.0" y="474.8" width="20.0" height="31.8" fill="#686868"/>
<text x="251.0" y="497.4" class="mo">A</text>
<rect x="261.0" y="474.8" width="20.0" height="31.8" fill="#b0b0b0"/>
<text x="271.0" y="497.4" class="mo">S</text>
<rect x="281.0" y="474.8" width="20.0" height="31.8" fill="#686868"/>
<text x="291.0" y="497.4" class="mo">O</text>
<rect x="301.0" y="474.8" width="19.5" height="31.8" fill="#b0b0b0"/>
<text x="310.8" y="497.4" class="mo">N</text>
<rect x="320.5" y="474.8" width="20.2" height="31.8" fill="#686868"/>
<text x="330.6" y="497.4" class="mo">D</text>
<rect x="355.0" y="474.8" width="17.0" height="31.8" fill="#b0b0b0"/>
<text x="363.5" y="497.4" class="mo">J</text>
<rect x="372.0" y="474.8" width="18.0" height="31.8" fill="#686868"/>
<text x="381.0" y="497.4" class="mo">F</text>
<rect x="390.0" y="474.8" width="21.0" height="31.8" fill="#b0b0b0"/>
<text x="400.5" y="497.4" class="mo">M</text>
<rect x="411.0" y="474.8" width="19.0" height="31.8" fill="#686868"/>
<text x="420.5" y="497.4" class="mo">A</text>
<rect x="430.0" y="474.8" width="20.0" height="31.8" fill="#b0b0b0"/>
<text x="440.0" y="497.4" class="mo">M</text>
<rect x="450.0" y="474.8" width="20.5" height="31.8" fill="#686868"/>
<text x="460.2" y="497.4" class="mo">J</text>
<rect x="470.5" y="474.8" width="19.5" height="31.8" fill="#b0b0b0"/>
<text x="480.2" y="497.4" class="mo">J</text>
<rect x="490.0" y="474.8" width="20.0" height="31.8" fill="#686868"/>
<text x="500.0" y="497.4" class="mo">A</text>
<rect x="510.0" y="474.8" width="20.0" height="31.8" fill="#b0b0b0"/>
<text x="520.0" y="497.4" class="mo">S</text>
<rect x="530.0" y="474.8" width="20.0" height="31.8" fill="#686868"/>
<text x="540.0" y="497.4" class="mo">O</text>
<rect x="550.0" y="474.8" width="19.5" height="31.8" fill="#b0b0b0"/>
<text x="559.8" y="497.4" class="mo">N</text>
<rect x="569.5" y="474.8" width="20.2" height="31.8" fill="#686868"/>
<text x="579.6" y="497.4" class="mo">D</text>
<line x1="162.6" y1="28.6" x2="162.6" y2="232.2" class="gv"/>
<line x1="162.6" y1="223.7" x2="162.6" y2="232.2" stroke="#000" stroke-width="2"/>
<line x1="222.1" y1="28.6" x2="222.1" y2="232.2" class="gv"/>
<line x1="222.1" y1="223.7" x2="222.1" y2="232.2" stroke="#000" stroke-width="2"/>
<line x1="281.7" y1="28.6" x2="281.7" y2="232.2" class="gv"/>
<line x1="281.7" y1="223.7" x2="281.7" y2="232.2" stroke="#000" stroke-width="2"/>
<line x1="106.0" y1="151.2" x2="340.7" y2="151.2" class="gh"/>
<line x1="106.0" y1="70.2" x2="340.7" y2="70.2" class="gh"/>
<line x1="411.6" y1="28.6" x2="411.6" y2="232.2" class="gv"/>
<line x1="411.6" y1="223.7" x2="411.6" y2="232.2" stroke="#000" stroke-width="2"/>
<line x1="471.1" y1="28.6" x2="471.1" y2="232.2" class="gv"/>
<line x1="471.1" y1="223.7" x2="471.1" y2="232.2" stroke="#000" stroke-width="2"/>
<line x1="530.7" y1="28.6" x2="530.7" y2="232.2" class="gv"/>
<line x1="530.7" y1="223.7" x2="530.7" y2="232.2" stroke="#000" stroke-width="2"/>
<line x1="355.0" y1="151.2" x2="589.3" y2="151.2" class="gh"/>
<line x1="355.0" y1="70.2" x2="589.3" y2="70.2" class="gh"/>
<line x1="162.6" y1="268.6" x2="162.6" y2="472.8" class="gv"/>
<line x1="162.6" y1="464.3" x2="162.6" y2="472.8" stroke="#000" stroke-width="2"/>
<line x1="222.1" y1="268.6" x2="222.1" y2="472.8" class="gv"/>
<line x1="222.1" y1="464.3" x2="222.1" y2="472.8" stroke="#000" stroke-width="2"/>
<line x1="281.7" y1="268.6" x2="281.7" y2="472.8" class="gv"/>
<line x1="281.7" y1="464.3" x2="281.7" y2="472.8" stroke="#000" stroke-width="2"/>
<line x1="106.0" y1="391.8" x2="340.7" y2="391.8" class="gh"/>
<line x1="106.0" y1="310.8" x2="340.7" y2="310.8" class="gh"/>
<line x1="411.6" y1="268.6" x2="411.6" y2="472.8" class="gv"/>
<line x1="411.6" y1="464.3" x2="411.6" y2="472.8" stroke="#000" stroke-width="2"/>
<line x1="471.1" y1="268.6" x2="471.1" y2="472.8" class="gv"/>
<line x1="471.1" y1="464.3" x2="471.1" y2="472.8" stroke="#000" stroke-width="2"/>
<line x1="530.7" y1="268.6" x2="530.7" y2="472.8" class="gv"/>
<line x1="530.7" y1="464.3" x2="530.7" y2="472.8" stroke="#000" stroke-width="2"/>
<line x1="355.0" y1="391.8" x2="589.3" y2="391.8" class="gh"/>
<line x1="355.0" y1="310.8" x2="589.3" y2="310.8" class="gh"/>
<line x1="162.6" y1="508.6" x2="162.6" y2="712.2" class="gv"/>
<line x1="162.6" y1="703.7" x2="162.6" y2="712.2" stroke="#000" stroke-width="2"/>
<line x1="222.1" y1="508.6" x2="222.1" y2="712.2" class="gv"/>
<line x1="222.1" y1="703.7" x2="222.1" y2="712.2" stroke="#000" stroke-width="2"/>
<line x1="281.7" y1="508.6" x2="281.7" y2="712.2" class="gv"/>
<line x1="281.7" y1="703.7" x2="281.7" y2="712.2" stroke="#000" stroke-width="2"/>
<line x1="106.0" y1="631.2" x2="340.7" y2="631.2" class="gh"/>
<line x1="106.0" y1="550.2" x2="340.7" y2="550.2" class="gh"/>
<line x1="411.6" y1="508.6" x2="411.6" y2="712.2" class="gv"/>
<line x1="411.6" y1="703.7" x2="411.6" y2="712.2" stroke="#000" stroke-width="2"/>
<line x1="471.1" y1="508.6" x2="471.1" y2="712.2" class="gv"/>
<line x1="471.1" y1="703.7" x2="471.1" y2="712.2" stroke="#000" stroke-width="2"/>
<line x1="530.7" y1="508.6" x2="530.7" y2="712.2" class="gv"/>
<line x1="530.7" y1="703.7" x2="530.7" y2="712.2" stroke="#000" stroke-width="2"/>
<line x1="355.0" y1="631.2" x2="589.3" y2="631.2" class="gh"/>
<line x1="355.0" y1="550.2" x2="589.3" y2="550.2" class="gh"/>
<clipPath id="cpA2"><path d="M355.0 129.2 L489.6 129.2 L489.6 138.4 L530.0 138.4 L530.0 129.2 L553.9 129.2 L553.9 120.1 L575.5 120.1 L575.5 129.2 L589.3 129.2 L589.3 232.2 L355.0 232.2 Z"/></clipPath>
<path clip-path="url(#cpA2)" d="M300.0 -947.1 L650.0 -597.1 M300.0 -791.4 L650.0 -1141.4 M300.0 -912.7 L650.0 -562.7 M300.0 -757.0 L650.0 -1107.0 M300.0 -878.3 L650.0 -528.3 M300.0 -722.6 L650.0 -1072.6 M300.0 -843.8 L650.0 -493.8 M300.0 -688.1 L650.0 -1038.1 M300.0 -809.4 L650.0 -459.4 M300.0 -653.7 L650.0 -1003.7 M300.0 -775.0 L650.0 -425.0 M300.0 -619.3 L650.0 -969.3 M300.0 -740.6 L650.0 -390.6 M300.0 -584.9 L650.0 -934.9 M300.0 -706.2 L650.0 -356.2 M300.0 -550.5 L650.0 -900.5 M300.0 -671.7 L650.0 -321.7 M300.0 -516.0 L650.0 -866.0 M300.0 -637.3 L650.0 -287.3 M300.0 -481.6 L650.0 -831.6 M300.0 -602.9 L650.0 -252.9 M300.0 -447.2 L650.0 -797.2 M300.0 -568.5 L650.0 -218.5 M300.0 -412.8 L650.0 -762.8 M300.0 -534.1 L650.0 -184.1 M300.0 -378.4 L650.0 -728.4 M300.0 -499.6 L650.0 -149.6 M300.0 -343.9 L650.0 -693.9 M300.0 -465.2 L650.0 -115.2 M300.0 -309.5 L650.0 -659.5 M300.0 -430.8 L650.0 -80.8 M300.0 -275.1 L650.0 -625.1 M300.0 -396.4 L650.0 -46.4 M300.0 -240.7 L650.0 -590.7 M300.0 -362.0 L650.0 -12.0 M300.0 -206.3 L650.0 -556.3 M300.0 -327.5 L650.0 22.5 M300.0 -171.8 L650.0 -521.8 M300.0 -293.1 L650.0 56.9 M300.0 -137.4 L650.0 -487.4 M300.0 -258.7 L650.0 91.3 M300.0 -103.0 L650.0 -453.0 M300.0 -224.3 L650.0 125.7 M300.0 -68.6 L650.0 -418.6 M300.0 -189.9 L650.0 160.1 M300.0 -34.2 L650.0 -384.2 M300.0 -155.4 L650.0 194.6 M300.0 0.3 L650.0 -349.7 M300.0 -121.0 L650.0 229.0 M300.0 34.7 L650.0 -315.3 M300.0 -86.6 L650.0 263.4 M300.0 69.1 L650.0 -280.9 M300.0 -52.2 L650.0 297.8 M300.0 103.5 L650.0 -246.5 M300.0 -17.8 L650.0 332.2 M300.0 137.9 L650.0 -212.1 M300.0 16.7 L650.0 366.7 M300.0 172.4 L650.0 -177.6 M300.0 51.1 L650.0 401.1 M300.0 206.8 L650.0 -143.2 M300.0 85.5 L650.0 435.5 M300.0 241.2 L650.0 -108.8 M300.0 119.9 L650.0 469.9 M300.0 275.6 L650.0 -74.4 M300.0 154.3 L650.0 504.3 M300.0 310.0 L650.0 -40.0 M300.0 188.8 L650.0 538.8 M300.0 344.5 L650.0 -5.5 M300.0 223.2 L650.0 573.2 M300.0 378.9 L650.0 28.9 M300.0 257.6 L650.0 607.6 M300.0 413.3 L650.0 63.3 M300.0 292.0 L650.0 642.0 M300.0 447.7 L650.0 97.7 M300.0 326.4 L650.0 676.4 M300.0 482.1 L650.0 132.1 M300.0 360.9 L650.0 710.9 M300.0 516.6 L650.0 166.6 M300.0 395.3 L650.0 745.3 M300.0 551.0 L650.0 201.0 M300.0 429.7 L650.0 779.7 M300.0 585.4 L650.0 235.4 M300.0 464.1 L650.0 814.1 M300.0 619.8 L650.0 269.8 M300.0 498.5 L650.0 848.5 M300.0 654.2 L650.0 304.2 M300.0 533.0 L650.0 883.0 M300.0 688.7 L650.0 338.7 M300.0 567.4 L650.0 917.4 M300.0 723.1 L650.0 373.1 M300.0 601.8 L650.0 951.8 M300.0 757.5 L650.0 407.5 M300.0 636.2 L650.0 986.2 M300.0 791.9 L650.0 441.9 M300.0 670.6 L650.0 1020.6 M300.0 826.3 L650.0 476.3 M300.0 705.1 L650.0 1055.1 M300.0 860.8 L650.0 510.8 M300.0 739.5 L650.0 1089.5 M300.0 895.2 L650.0 545.2 M300.0 773.9 L650.0 1123.9 M300.0 929.6 L650.0 579.6 M300.0 808.3 L650.0 1158.3 M300.0 964.0 L650.0 614.0 M300.0 842.7 L650.0 1192.7 M300.0 998.4 L650.0 648.4 M300.0 877.2 L650.0 1227.2 M300.0 1032.9 L650.0 682.9 M300.0 911.6 L650.0 1261.6 M300.0 1067.3 L650.0 717.3 M300.0 946.0 L650.0 1296.0 M300.0 1101.7 L650.0 751.7 M300.0 980.4 L650.0 1330.4 M300.0 1136.1 L650.0 786.1 M300.0 1014.8 L650.0 1364.8 M300.0 1170.5 L650.0 820.5 M300.0 1049.3 L650.0 1399.3 M300.0 1205.0 L650.0 855.0 M300.0 1083.7 L650.0 1433.7 M300.0 1239.4 L650.0 889.4 M300.0 1118.1 L650.0 1468.1 M300.0 1273.8 L650.0 923.8 M300.0 1152.5 L650.0 1502.5 M300.0 1308.2 L650.0 958.2 M300.0 1186.9 L650.0 1536.9 M300.0 1342.6 L650.0 992.6 M300.0 1221.4 L650.0 1571.4 M300.0 1377.1 L650.0 1027.1 M300.0 1255.8 L650.0 1605.8 M300.0 1411.5 L650.0 1061.5 M300.0 1290.2 L650.0 1640.2 M300.0 1445.9 L650.0 1095.9 M300.0 1324.6 L650.0 1674.6 M300.0 1480.3 L650.0 1130.3 M300.0 1359.0 L650.0 1709.0 M300.0 1514.7 L650.0 1164.7 M300.0 1393.5 L650.0 1743.5 M300.0 1549.2 L650.0 1199.2 M300.0 1427.9 L650.0 1777.9 M300.0 1583.6 L650.0 1233.6" stroke="#000" stroke-width="0.9" fill="none" opacity="0.85"/>
<path d="M355.0 129.2 L489.6 129.2 L489.6 138.4 L530.0 138.4 L530.0 129.2 L553.9 129.2 L553.9 120.1 L575.5 120.1 L575.5 129.2 L589.3 129.2 L589.3 232.2 L355.0 232.2 Z" stroke="#000" stroke-width="1" fill="none"/>
<clipPath id="cpB2"><path d="M355.0 268.6 L589.3 268.6 L589.3 360.1 L549.7 360.1 L549.7 369.2 L532.0 369.2 L532.0 396.7 L501.0 396.7 L501.0 387.6 L487.1 387.6 L487.1 378.4 L472.6 378.4 L472.6 369.2 L453.3 369.2 L453.3 360.1 L439.6 360.1 L439.6 351.0 L413.9 351.0 L413.9 360.1 L404.4 360.1 L404.4 369.2 L355.0 369.2 Z M355.0 460.8 L446.0 460.8 L446.0 469.9 L571.5 469.9 L571.5 460.8 L589.3 460.8 L589.3 472.8 L355.0 472.8 Z"/></clipPath>
<path clip-path="url(#cpB2)" d="M300.0 -947.1 L650.0 -597.1 M300.0 -791.4 L650.0 -1141.4 M300.0 -912.7 L650.0 -562.7 M300.0 -757.0 L650.0 -1107.0 M300.0 -878.3 L650.0 -528.3 M300.0 -722.6 L650.0 -1072.6 M300.0 -843.8 L650.0 -493.8 M300.0 -688.1 L650.0 -1038.1 M300.0 -809.4 L650.0 -459.4 M300.0 -653.7 L650.0 -1003.7 M300.0 -775.0 L650.0 -425.0 M300.0 -619.3 L650.0 -969.3 M300.0 -740.6 L650.0 -390.6 M300.0 -584.9 L650.0 -934.9 M300.0 -706.2 L650.0 -356.2 M300.0 -550.5 L650.0 -900.5 M300.0 -671.7 L650.0 -321.7 M300.0 -516.0 L650.0 -866.0 M300.0 -637.3 L650.0 -287.3 M300.0 -481.6 L650.0 -831.6 M300.0 -602.9 L650.0 -252.9 M300.0 -447.2 L650.0 -797.2 M300.0 -568.5 L650.0 -218.5 M300.0 -412.8 L650.0 -762.8 M300.0 -534.1 L650.0 -184.1 M300.0 -378.4 L650.0 -728.4 M300.0 -499.6 L650.0 -149.6 M300.0 -343.9 L650.0 -693.9 M300.0 -465.2 L650.0 -115.2 M300.0 -309.5 L650.0 -659.5 M300.0 -430.8 L650.0 -80.8 M300.0 -275.1 L650.0 -625.1 M300.0 -396.4 L650.0 -46.4 M300.0 -240.7 L650.0 -590.7 M300.0 -362.0 L650.0 -12.0 M300.0 -206.3 L650.0 -556.3 M300.0 -327.5 L650.0 22.5 M300.0 -171.8 L650.0 -521.8 M300.0 -293.1 L650.0 56.9 M300.0 -137.4 L650.0 -487.4 M300.0 -258.7 L650.0 91.3 M300.0 -103.0 L650.0 -453.0 M300.0 -224.3 L650.0 125.7 M300.0 -68.6 L650.0 -418.6 M300.0 -189.9 L650.0 160.1 M300.0 -34.2 L650.0 -384.2 M300.0 -155.4 L650.0 194.6 M300.0 0.3 L650.0 -349.7 M300.0 -121.0 L650.0 229.0 M300.0 34.7 L650.0 -315.3 M300.0 -86.6 L650.0 263.4 M300.0 69.1 L650.0 -280.9 M300.0 -52.2 L650.0 297.8 M300.0 103.5 L650.0 -246.5 M300.0 -17.8 L650.0 332.2 M300.0 137.9 L650.0 -212.1 M300.0 16.7 L650.0 366.7 M300.0 172.4 L650.0 -177.6 M300.0 51.1 L650.0 401.1 M300.0 206.8 L650.0 -143.2 M300.0 85.5 L650.0 435.5 M300.0 241.2 L650.0 -108.8 M300.0 119.9 L650.0 469.9 M300.0 275.6 L650.0 -74.4 M300.0 154.3 L650.0 504.3 M300.0 310.0 L650.0 -40.0 M300.0 188.8 L650.0 538.8 M300.0 344.5 L650.0 -5.5 M300.0 223.2 L650.0 573.2 M300.0 378.9 L650.0 28.9 M300.0 257.6 L650.0 607.6 M300.0 413.3 L650.0 63.3 M300.0 292.0 L650.0 642.0 M300.0 447.7 L650.0 97.7 M300.0 326.4 L650.0 676.4 M300.0 482.1 L650.0 132.1 M300.0 360.9 L650.0 710.9 M300.0 516.6 L650.0 166.6 M300.0 395.3 L650.0 745.3 M300.0 551.0 L650.0 201.0 M300.0 429.7 L650.0 779.7 M300.0 585.4 L650.0 235.4 M300.0 464.1 L650.0 814.1 M300.0 619.8 L650.0 269.8 M300.0 498.5 L650.0 848.5 M300.0 654.2 L650.0 304.2 M300.0 533.0 L650.0 883.0 M300.0 688.7 L650.0 338.7 M300.0 567.4 L650.0 917.4 M300.0 723.1 L650.0 373.1 M300.0 601.8 L650.0 951.8 M300.0 757.5 L650.0 407.5 M300.0 636.2 L650.0 986.2 M300.0 791.9 L650.0 441.9 M300.0 670.6 L650.0 1020.6 M300.0 826.3 L650.0 476.3 M300.0 705.1 L650.0 1055.1 M300.0 860.8 L650.0 510.8 M300.0 739.5 L650.0 1089.5 M300.0 895.2 L650.0 545.2 M300.0 773.9 L650.0 1123.9 M300.0 929.6 L650.0 579.6 M300.0 808.3 L650.0 1158.3 M300.0 964.0 L650.0 614.0 M300.0 842.7 L650.0 1192.7 M300.0 998.4 L650.0 648.4 M300.0 877.2 L650.0 1227.2 M300.0 1032.9 L650.0 682.9 M300.0 911.6 L650.0 1261.6 M300.0 1067.3 L650.0 717.3 M300.0 946.0 L650.0 1296.0 M300.0 1101.7 L650.0 751.7 M300.0 980.4 L650.0 1330.4 M300.0 1136.1 L650.0 786.1 M300.0 1014.8 L650.0 1364.8 M300.0 1170.5 L650.0 820.5 M300.0 1049.3 L650.0 1399.3 M300.0 1205.0 L650.0 855.0 M300.0 1083.7 L650.0 1433.7 M300.0 1239.4 L650.0 889.4 M300.0 1118.1 L650.0 1468.1 M300.0 1273.8 L650.0 923.8 M300.0 1152.5 L650.0 1502.5 M300.0 1308.2 L650.0 958.2 M300.0 1186.9 L650.0 1536.9 M300.0 1342.6 L650.0 992.6 M300.0 1221.4 L650.0 1571.4 M300.0 1377.1 L650.0 1027.1 M300.0 1255.8 L650.0 1605.8 M300.0 1411.5 L650.0 1061.5 M300.0 1290.2 L650.0 1640.2 M300.0 1445.9 L650.0 1095.9 M300.0 1324.6 L650.0 1674.6 M300.0 1480.3 L650.0 1130.3 M300.0 1359.0 L650.0 1709.0 M300.0 1514.7 L650.0 1164.7 M300.0 1393.5 L650.0 1743.5 M300.0 1549.2 L650.0 1199.2 M300.0 1427.9 L650.0 1777.9 M300.0 1583.6 L650.0 1233.6" stroke="#000" stroke-width="0.9" fill="none" opacity="0.85"/>
<path d="M355.0 268.6 L589.3 268.6 L589.3 360.1 L549.7 360.1 L549.7 369.2 L532.0 369.2 L532.0 396.7 L501.0 396.7 L501.0 387.6 L487.1 387.6 L487.1 378.4 L472.6 378.4 L472.6 369.2 L453.3 369.2 L453.3 360.1 L439.6 360.1 L439.6 351.0 L413.9 351.0 L413.9 360.1 L404.4 360.1 L404.4 369.2 L355.0 369.2 Z M355.0 460.8 L446.0 460.8 L446.0 469.9 L571.5 469.9 L571.5 460.8 L589.3 460.8 L589.3 472.8 L355.0 472.8 Z" stroke="#000" stroke-width="1" fill="none"/>
<clipPath id="cpC2"><path d="M355.0 609.2 L589.3 609.2 L589.3 712.2 L471.3 712.2 L471.3 700.8 L440.4 700.8 L440.4 712.2 L355.0 712.2 Z"/></clipPath>
<path clip-path="url(#cpC2)" d="M300.0 -947.1 L650.0 -597.1 M300.0 -791.4 L650.0 -1141.4 M300.0 -912.7 L650.0 -562.7 M300.0 -757.0 L650.0 -1107.0 M300.0 -878.3 L650.0 -528.3 M300.0 -722.6 L650.0 -1072.6 M300.0 -843.8 L650.0 -493.8 M300.0 -688.1 L650.0 -1038.1 M300.0 -809.4 L650.0 -459.4 M300.0 -653.7 L650.0 -1003.7 M300.0 -775.0 L650.0 -425.0 M300.0 -619.3 L650.0 -969.3 M300.0 -740.6 L650.0 -390.6 M300.0 -584.9 L650.0 -934.9 M300.0 -706.2 L650.0 -356.2 M300.0 -550.5 L650.0 -900.5 M300.0 -671.7 L650.0 -321.7 M300.0 -516.0 L650.0 -866.0 M300.0 -637.3 L650.0 -287.3 M300.0 -481.6 L650.0 -831.6 M300.0 -602.9 L650.0 -252.9 M300.0 -447.2 L650.0 -797.2 M300.0 -568.5 L650.0 -218.5 M300.0 -412.8 L650.0 -762.8 M300.0 -534.1 L650.0 -184.1 M300.0 -378.4 L650.0 -728.4 M300.0 -499.6 L650.0 -149.6 M300.0 -343.9 L650.0 -693.9 M300.0 -465.2 L650.0 -115.2 M300.0 -309.5 L650.0 -659.5 M300.0 -430.8 L650.0 -80.8 M300.0 -275.1 L650.0 -625.1 M300.0 -396.4 L650.0 -46.4 M300.0 -240.7 L650.0 -590.7 M300.0 -362.0 L650.0 -12.0 M300.0 -206.3 L650.0 -556.3 M300.0 -327.5 L650.0 22.5 M300.0 -171.8 L650.0 -521.8 M300.0 -293.1 L650.0 56.9 M300.0 -137.4 L650.0 -487.4 M300.0 -258.7 L650.0 91.3 M300.0 -103.0 L650.0 -453.0 M300.0 -224.3 L650.0 125.7 M300.0 -68.6 L650.0 -418.6 M300.0 -189.9 L650.0 160.1 M300.0 -34.2 L650.0 -384.2 M300.0 -155.4 L650.0 194.6 M300.0 0.3 L650.0 -349.7 M300.0 -121.0 L650.0 229.0 M300.0 34.7 L650.0 -315.3 M300.0 -86.6 L650.0 263.4 M300.0 69.1 L650.0 -280.9 M300.0 -52.2 L650.0 297.8 M300.0 103.5 L650.0 -246.5 M300.0 -17.8 L650.0 332.2 M300.0 137.9 L650.0 -212.1 M300.0 16.7 L650.0 366.7 M300.0 172.4 L650.0 -177.6 M300.0 51.1 L650.0 401.1 M300.0 206.8 L650.0 -143.2 M300.0 85.5 L650.0 435.5 M300.0 241.2 L650.0 -108.8 M300.0 119.9 L650.0 469.9 M300.0 275.6 L650.0 -74.4 M300.0 154.3 L650.0 504.3 M300.0 310.0 L650.0 -40.0 M300.0 188.8 L650.0 538.8 M300.0 344.5 L650.0 -5.5 M300.0 223.2 L650.0 573.2 M300.0 378.9 L650.0 28.9 M300.0 257.6 L650.0 607.6 M300.0 413.3 L650.0 63.3 M300.0 292.0 L650.0 642.0 M300.0 447.7 L650.0 97.7 M300.0 326.4 L650.0 676.4 M300.0 482.1 L650.0 132.1 M300.0 360.9 L650.0 710.9 M300.0 516.6 L650.0 166.6 M300.0 395.3 L650.0 745.3 M300.0 551.0 L650.0 201.0 M300.0 429.7 L650.0 779.7 M300.0 585.4 L650.0 235.4 M300.0 464.1 L650.0 814.1 M300.0 619.8 L650.0 269.8 M300.0 498.5 L650.0 848.5 M300.0 654.2 L650.0 304.2 M300.0 533.0 L650.0 883.0 M300.0 688.7 L650.0 338.7 M300.0 567.4 L650.0 917.4 M300.0 723.1 L650.0 373.1 M300.0 601.8 L650.0 951.8 M300.0 757.5 L650.0 407.5 M300.0 636.2 L650.0 986.2 M300.0 791.9 L650.0 441.9 M300.0 670.6 L650.0 1020.6 M300.0 826.3 L650.0 476.3 M300.0 705.1 L650.0 1055.1 M300.0 860.8 L650.0 510.8 M300.0 739.5 L650.0 1089.5 M300.0 895.2 L650.0 545.2 M300.0 773.9 L650.0 1123.9 M300.0 929.6 L650.0 579.6 M300.0 808.3 L650.0 1158.3 M300.0 964.0 L650.0 614.0 M300.0 842.7 L650.0 1192.7 M300.0 998.4 L650.0 648.4 M300.0 877.2 L650.0 1227.2 M300.0 1032.9 L650.0 682.9 M300.0 911.6 L650.0 1261.6 M300.0 1067.3 L650.0 717.3 M300.0 946.0 L650.0 1296.0 M300.0 1101.7 L650.0 751.7 M300.0 980.4 L650.0 1330.4 M300.0 1136.1 L650.0 786.1 M300.0 1014.8 L650.0 1364.8 M300.0 1170.5 L650.0 820.5 M300.0 1049.3 L650.0 1399.3 M300.0 1205.0 L650.0 855.0 M300.0 1083.7 L650.0 1433.7 M300.0 1239.4 L650.0 889.4 M300.0 1118.1 L650.0 1468.1 M300.0 1273.8 L650.0 923.8 M300.0 1152.5 L650.0 1502.5 M300.0 1308.2 L650.0 958.2 M300.0 1186.9 L650.0 1536.9 M300.0 1342.6 L650.0 992.6 M300.0 1221.4 L650.0 1571.4 M300.0 1377.1 L650.0 1027.1 M300.0 1255.8 L650.0 1605.8 M300.0 1411.5 L650.0 1061.5 M300.0 1290.2 L650.0 1640.2 M300.0 1445.9 L650.0 1095.9 M300.0 1324.6 L650.0 1674.6 M300.0 1480.3 L650.0 1130.3 M300.0 1359.0 L650.0 1709.0 M300.0 1514.7 L650.0 1164.7 M300.0 1393.5 L650.0 1743.5 M300.0 1549.2 L650.0 1199.2 M300.0 1427.9 L650.0 1777.9 M300.0 1583.6 L650.0 1233.6" stroke="#000" stroke-width="0.9" fill="none" opacity="0.85"/>
<path d="M355.0 609.2 L589.3 609.2 L589.3 712.2 L471.3 712.2 L471.3 700.8 L440.4 700.8 L440.4 712.2 L355.0 712.2 Z" stroke="#000" stroke-width="1" fill="none"/>
<clipPath id="dc134"><rect x="106.0" y="0" width="240" height="1007"/></clipPath>
<line x1="134.0" y1="37.3" x2="192.3" y2="118.7" stroke="#000" stroke-width="4" stroke-dasharray="11 6.5" clip-path="url(#dc134)"/>
<clipPath id="dc355"><rect x="355.0" y="0" width="240" height="1007"/></clipPath>
<line x1="355.5" y1="37.5" x2="414.0" y2="118.0" stroke="#000" stroke-width="4" stroke-dasharray="11 6.5" clip-path="url(#dc355)"/>
<clipPath id="dc118"><rect x="106.0" y="0" width="240" height="1007"/></clipPath>
<line x1="118.6" y1="518.6" x2="177.9" y2="600.0" stroke="#000" stroke-width="4" stroke-dasharray="11 6.5" clip-path="url(#dc118)"/>
<clipPath id="dc340"><rect x="355.0" y="0" width="240" height="1007"/></clipPath>
<line x1="340.7" y1="518.6" x2="400.0" y2="600.0" stroke="#000" stroke-width="4" stroke-dasharray="11 6.5" clip-path="url(#dc340)"/>
<rect x="113.4" y="196.0" width="53.8" height="36.2" fill="#fff" opacity="0.7"/>
<text x="121.0" y="219.8" class="pl" textLength="27.5" lengthAdjust="spacingAndGlyphs">A1</text>
<rect x="362.4" y="196.0" width="53.8" height="36.2" fill="#fff" opacity="0.7"/>
<text x="370.0" y="219.8" class="pl" textLength="27.5" lengthAdjust="spacingAndGlyphs">A2</text>
<rect x="113.4" y="436.6" width="53.8" height="36.2" fill="#fff" opacity="0.7"/>
<text x="121.0" y="460.4" class="pl" textLength="27.5" lengthAdjust="spacingAndGlyphs">B1</text>
<rect x="362.4" y="436.6" width="53.8" height="36.2" fill="#fff" opacity="0.7"/>
<text x="370.0" y="460.4" class="pl" textLength="27.5" lengthAdjust="spacingAndGlyphs">B2</text>
<rect x="113.4" y="676.0" width="53.8" height="36.2" fill="#fff" opacity="0.7"/>
<text x="121.0" y="699.8" class="pl" textLength="27.5" lengthAdjust="spacingAndGlyphs">C1</text>
<rect x="362.4" y="676.0" width="53.8" height="36.2" fill="#fff" opacity="0.7"/>
<text x="370.0" y="699.8" class="pl" textLength="27.5" lengthAdjust="spacingAndGlyphs">C2</text>
<line x1="106.0" y1="38.0" x2="110.5" y2="38.0" stroke="#000" stroke-width="1.4"/>
<line x1="106.0" y1="45.8" x2="110.5" y2="45.8" stroke="#000" stroke-width="1.4"/>
<line x1="106.0" y1="52.2" x2="110.5" y2="52.2" stroke="#000" stroke-width="1.4"/>
<line x1="106.0" y1="57.7" x2="110.5" y2="57.7" stroke="#000" stroke-width="1.4"/>
<line x1="106.0" y1="62.4" x2="110.5" y2="62.4" stroke="#000" stroke-width="1.4"/>
<line x1="106.0" y1="66.5" x2="110.5" y2="66.5" stroke="#000" stroke-width="1.4"/>
<line x1="106.0" y1="70.2" x2="113.5" y2="70.2" stroke="#000" stroke-width="2"/>
<line x1="106.0" y1="94.6" x2="110.5" y2="94.6" stroke="#000" stroke-width="1.4"/>
<line x1="106.0" y1="108.8" x2="110.5" y2="108.8" stroke="#000" stroke-width="1.4"/>
<line x1="106.0" y1="119.0" x2="110.5" y2="119.0" stroke="#000" stroke-width="1.4"/>
<line x1="106.0" y1="126.8" x2="110.5" y2="126.8" stroke="#000" stroke-width="1.4"/>
<line x1="106.0" y1="133.2" x2="110.5" y2="133.2" stroke="#000" stroke-width="1.4"/>
<line x1="106.0" y1="138.7" x2="110.5" y2="138.7" stroke="#000" stroke-width="1.4"/>
<line x1="106.0" y1="143.4" x2="110.5" y2="143.4" stroke="#000" stroke-width="1.4"/>
<line x1="106.0" y1="147.5" x2="110.5" y2="147.5" stroke="#000" stroke-width="1.4"/>
<line x1="106.0" y1="151.2" x2="113.5" y2="151.2" stroke="#000" stroke-width="2"/>
<line x1="106.0" y1="175.6" x2="110.5" y2="175.6" stroke="#000" stroke-width="1.4"/>
<line x1="106.0" y1="189.8" x2="110.5" y2="189.8" stroke="#000" stroke-width="1.4"/>
<line x1="106.0" y1="200.0" x2="110.5" y2="200.0" stroke="#000" stroke-width="1.4"/>
<line x1="106.0" y1="207.8" x2="110.5" y2="207.8" stroke="#000" stroke-width="1.4"/>
<line x1="106.0" y1="214.2" x2="110.5" y2="214.2" stroke="#000" stroke-width="1.4"/>
<line x1="106.0" y1="219.7" x2="110.5" y2="219.7" stroke="#000" stroke-width="1.4"/>
<line x1="106.0" y1="224.4" x2="110.5" y2="224.4" stroke="#000" stroke-width="1.4"/>
<line x1="106.0" y1="228.5" x2="110.5" y2="228.5" stroke="#000" stroke-width="1.4"/>
<line x1="106.0" y1="232.2" x2="113.5" y2="232.2" stroke="#000" stroke-width="2"/>
<line x1="355.0" y1="38.0" x2="359.5" y2="38.0" stroke="#000" stroke-width="1.4"/>
<line x1="355.0" y1="45.8" x2="359.5" y2="45.8" stroke="#000" stroke-width="1.4"/>
<line x1="355.0" y1="52.2" x2="359.5" y2="52.2" stroke="#000" stroke-width="1.4"/>
<line x1="355.0" y1="57.7" x2="359.5" y2="57.7" stroke="#000" stroke-width="1.4"/>
<line x1="355.0" y1="62.4" x2="359.5" y2="62.4" stroke="#000" stroke-width="1.4"/>
<line x1="355.0" y1="66.5" x2="359.5" y2="66.5" stroke="#000" stroke-width="1.4"/>
<line x1="355.0" y1="70.2" x2="362.5" y2="70.2" stroke="#000" stroke-width="2"/>
<line x1="355.0" y1="94.6" x2="359.5" y2="94.6" stroke="#000" stroke-width="1.4"/>
<line x1="355.0" y1="108.8" x2="359.5" y2="108.8" stroke="#000" stroke-width="1.4"/>
<line x1="355.0" y1="119.0" x2="359.5" y2="119.0" stroke="#000" stroke-width="1.4"/>
<line x1="355.0" y1="126.8" x2="359.5" y2="126.8" stroke="#000" stroke-width="1.4"/>
<line x1="355.0" y1="133.2" x2="359.5" y2="133.2" stroke="#000" stroke-width="1.4"/>
<line x1="355.0" y1="138.7" x2="359.5" y2="138.7" stroke="#000" stroke-width="1.4"/>
<line x1="355.0" y1="143.4" x2="359.5" y2="143.4" stroke="#000" stroke-width="1.4"/>
<line x1="355.0" y1="147.5" x2="359.5" y2="147.5" stroke="#000" stroke-width="1.4"/>
<line x1="355.0" y1="151.2" x2="362.5" y2="151.2" stroke="#000" stroke-width="2"/>
<line x1="355.0" y1="175.6" x2="359.5" y2="175.6" stroke="#000" stroke-width="1.4"/>
<line x1="355.0" y1="189.8" x2="359.5" y2="189.8" stroke="#000" stroke-width="1.4"/>
<line x1="355.0" y1="200.0" x2="359.5" y2="200.0" stroke="#000" stroke-width="1.4"/>
<line x1="355.0" y1="207.8" x2="359.5" y2="207.8" stroke="#000" stroke-width="1.4"/>
<line x1="355.0" y1="214.2" x2="359.5" y2="214.2" stroke="#000" stroke-width="1.4"/>
<line x1="355.0" y1="219.7" x2="359.5" y2="219.7" stroke="#000" stroke-width="1.4"/>
<line x1="355.0" y1="224.4" x2="359.5" y2="224.4" stroke="#000" stroke-width="1.4"/>
<line x1="355.0" y1="228.5" x2="359.5" y2="228.5" stroke="#000" stroke-width="1.4"/>
<line x1="355.0" y1="232.2" x2="362.5" y2="232.2" stroke="#000" stroke-width="2"/>
<line x1="106.0" y1="278.6" x2="110.5" y2="278.6" stroke="#000" stroke-width="1.4"/>
<line x1="106.0" y1="286.4" x2="110.5" y2="286.4" stroke="#000" stroke-width="1.4"/>
<line x1="106.0" y1="292.8" x2="110.5" y2="292.8" stroke="#000" stroke-width="1.4"/>
<line x1="106.0" y1="298.3" x2="110.5" y2="298.3" stroke="#000" stroke-width="1.4"/>
<line x1="106.0" y1="303.0" x2="110.5" y2="303.0" stroke="#000" stroke-width="1.4"/>
<line x1="106.0" y1="307.1" x2="110.5" y2="307.1" stroke="#000" stroke-width="1.4"/>
<line x1="106.0" y1="310.8" x2="113.5" y2="310.8" stroke="#000" stroke-width="2"/>
<line x1="106.0" y1="335.2" x2="110.5" y2="335.2" stroke="#000" stroke-width="1.4"/>
<line x1="106.0" y1="349.4" x2="110.5" y2="349.4" stroke="#000" stroke-width="1.4"/>
<line x1="106.0" y1="359.6" x2="110.5" y2="359.6" stroke="#000" stroke-width="1.4"/>
<line x1="106.0" y1="367.4" x2="110.5" y2="367.4" stroke="#000" stroke-width="1.4"/>
<line x1="106.0" y1="373.8" x2="110.5" y2="373.8" stroke="#000" stroke-width="1.4"/>
<line x1="106.0" y1="379.3" x2="110.5" y2="379.3" stroke="#000" stroke-width="1.4"/>
<line x1="106.0" y1="384.0" x2="110.5" y2="384.0" stroke="#000" stroke-width="1.4"/>
<line x1="106.0" y1="388.1" x2="110.5" y2="388.1" stroke="#000" stroke-width="1.4"/>
<line x1="106.0" y1="391.8" x2="113.5" y2="391.8" stroke="#000" stroke-width="2"/>
<line x1="106.0" y1="416.2" x2="110.5" y2="416.2" stroke="#000" stroke-width="1.4"/>
<line x1="106.0" y1="430.4" x2="110.5" y2="430.4" stroke="#000" stroke-width="1.4"/>
<line x1="106.0" y1="440.6" x2="110.5" y2="440.6" stroke="#000" stroke-width="1.4"/>
<line x1="106.0" y1="448.4" x2="110.5" y2="448.4" stroke="#000" stroke-width="1.4"/>
<line x1="106.0" y1="454.8" x2="110.5" y2="454.8" stroke="#000" stroke-width="1.4"/>
<line x1="106.0" y1="460.3" x2="110.5" y2="460.3" stroke="#000" stroke-width="1.4"/>
<line x1="106.0" y1="465.0" x2="110.5" y2="465.0" stroke="#000" stroke-width="1.4"/>
<line x1="106.0" y1="469.1" x2="110.5" y2="469.1" stroke="#000" stroke-width="1.4"/>
<line x1="106.0" y1="472.8" x2="113.5" y2="472.8" stroke="#000" stroke-width="2"/>
<line x1="355.0" y1="278.6" x2="359.5" y2="278.6" stroke="#000" stroke-width="1.4"/>
<line x1="355.0" y1="286.4" x2="359.5" y2="286.4" stroke="#000" stroke-width="1.4"/>
<line x1="355.0" y1="292.8" x2="359.5" y2="292.8" stroke="#000" stroke-width="1.4"/>
<line x1="355.0" y1="298.3" x2="359.5" y2="298.3" stroke="#000" stroke-width="1.4"/>
<line x1="355.0" y1="303.0" x2="359.5" y2="303.0" stroke="#000" stroke-width="1.4"/>
<line x1="355.0" y1="307.1" x2="359.5" y2="307.1" stroke="#000" stroke-width="1.4"/>
<line x1="355.0" y1="310.8" x2="362.5" y2="310.8" stroke="#000" stroke-width="2"/>
<line x1="355.0" y1="335.2" x2="359.5" y2="335.2" stroke="#000" stroke-width="1.4"/>
<line x1="355.0" y1="349.4" x2="359.5" y2="349.4" stroke="#000" stroke-width="1.4"/>
<line x1="355.0" y1="359.6" x2="359.5" y2="359.6" stroke="#000" stroke-width="1.4"/>
<line x1="355.0" y1="367.4" x2="359.5" y2="367.4" stroke="#000" stroke-width="1.4"/>
<line x1="355.0" y1="373.8" x2="359.5" y2="373.8" stroke="#000" stroke-width="1.4"/>
<line x1="355.0" y1="379.3" x2="359.5" y2="379.3" stroke="#000" stroke-width="1.4"/>
<line x1="355.0" y1="384.0" x2="359.5" y2="384.0" stroke="#000" stroke-width="1.4"/>
<line x1="355.0" y1="388.1" x2="359.5" y2="388.1" stroke="#000" stroke-width="1.4"/>
<line x1="355.0" y1="391.8" x2="362.5" y2="391.8" stroke="#000" stroke-width="2"/>
<line x1="355.0" y1="416.2" x2="359.5" y2="416.2" stroke="#000" stroke-width="1.4"/>
<line x1="355.0" y1="430.4" x2="359.5" y2="430.4" stroke="#000" stroke-width="1.4"/>
<line x1="355.0" y1="440.6" x2="359.5" y2="440.6" stroke="#000" stroke-width="1.4"/>
<line x1="355.0" y1="448.4" x2="359.5" y2="448.4" stroke="#000" stroke-width="1.4"/>
<line x1="355.0" y1="454.8" x2="359.5" y2="454.8" stroke="#000" stroke-width="1.4"/>
<line x1="355.0" y1="460.3" x2="359.5" y2="460.3" stroke="#000" stroke-width="1.4"/>
<line x1="355.0" y1="465.0" x2="359.5" y2="465.0" stroke="#000" stroke-width="1.4"/>
<line x1="355.0" y1="469.1" x2="359.5" y2="469.1" stroke="#000" stroke-width="1.4"/>
<line x1="355.0" y1="472.8" x2="362.5" y2="472.8" stroke="#000" stroke-width="2"/>
<line x1="106.0" y1="518.0" x2="110.5" y2="518.0" stroke="#000" stroke-width="1.4"/>
<line x1="106.0" y1="525.8" x2="110.5" y2="525.8" stroke="#000" stroke-width="1.4"/>
<line x1="106.0" y1="532.2" x2="110.5" y2="532.2" stroke="#000" stroke-width="1.4"/>
<line x1="106.0" y1="537.7" x2="110.5" y2="537.7" stroke="#000" stroke-width="1.4"/>
<line x1="106.0" y1="542.4" x2="110.5" y2="542.4" stroke="#000" stroke-width="1.4"/>
<line x1="106.0" y1="546.5" x2="110.5" y2="546.5" stroke="#000" stroke-width="1.4"/>
<line x1="106.0" y1="550.2" x2="113.5" y2="550.2" stroke="#000" stroke-width="2"/>
<line x1="106.0" y1="574.6" x2="110.5" y2="574.6" stroke="#000" stroke-width="1.4"/>
<line x1="106.0" y1="588.8" x2="110.5" y2="588.8" stroke="#000" stroke-width="1.4"/>
<line x1="106.0" y1="599.0" x2="110.5" y2="599.0" stroke="#000" stroke-width="1.4"/>
<line x1="106.0" y1="606.8" x2="110.5" y2="606.8" stroke="#000" stroke-width="1.4"/>
<line x1="106.0" y1="613.2" x2="110.5" y2="613.2" stroke="#000" stroke-width="1.4"/>
<line x1="106.0" y1="618.7" x2="110.5" y2="618.7" stroke="#000" stroke-width="1.4"/>
<line x1="106.0" y1="623.4" x2="110.5" y2="623.4" stroke="#000" stroke-width="1.4"/>
<line x1="106.0" y1="627.5" x2="110.5" y2="627.5" stroke="#000" stroke-width="1.4"/>
<line x1="106.0" y1="631.2" x2="113.5" y2="631.2" stroke="#000" stroke-width="2"/>
<line x1="106.0" y1="655.6" x2="110.5" y2="655.6" stroke="#000" stroke-width="1.4"/>
<line x1="106.0" y1="669.8" x2="110.5" y2="669.8" stroke="#000" stroke-width="1.4"/>
<line x1="106.0" y1="680.0" x2="110.5" y2="680.0" stroke="#000" stroke-width="1.4"/>
<line x1="106.0" y1="687.8" x2="110.5" y2="687.8" stroke="#000" stroke-width="1.4"/>
<line x1="106.0" y1="694.2" x2="110.5" y2="694.2" stroke="#000" stroke-width="1.4"/>
<line x1="106.0" y1="699.7" x2="110.5" y2="699.7" stroke="#000" stroke-width="1.4"/>
<line x1="106.0" y1="704.4" x2="110.5" y2="704.4" stroke="#000" stroke-width="1.4"/>
<line x1="106.0" y1="708.5" x2="110.5" y2="708.5" stroke="#000" stroke-width="1.4"/>
<line x1="106.0" y1="712.2" x2="113.5" y2="712.2" stroke="#000" stroke-width="2"/>
<line x1="355.0" y1="518.0" x2="359.5" y2="518.0" stroke="#000" stroke-width="1.4"/>
<line x1="355.0" y1="525.8" x2="359.5" y2="525.8" stroke="#000" stroke-width="1.4"/>
<line x1="355.0" y1="532.2" x2="359.5" y2="532.2" stroke="#000" stroke-width="1.4"/>
<line x1="355.0" y1="537.7" x2="359.5" y2="537.7" stroke="#000" stroke-width="1.4"/>
<line x1="355.0" y1="542.4" x2="359.5" y2="542.4" stroke="#000" stroke-width="1.4"/>
<line x1="355.0" y1="546.5" x2="359.5" y2="546.5" stroke="#000" stroke-width="1.4"/>
<line x1="355.0" y1="550.2" x2="362.5" y2="550.2" stroke="#000" stroke-width="2"/>
<line x1="355.0" y1="574.6" x2="359.5" y2="574.6" stroke="#000" stroke-width="1.4"/>
<line x1="355.0" y1="588.8" x2="359.5" y2="588.8" stroke="#000" stroke-width="1.4"/>
<line x1="355.0" y1="599.0" x2="359.5" y2="599.0" stroke="#000" stroke-width="1.4"/>
<line x1="355.0" y1="606.8" x2="359.5" y2="606.8" stroke="#000" stroke-width="1.4"/>
<line x1="355.0" y1="613.2" x2="359.5" y2="613.2" stroke="#000" stroke-width="1.4"/>
<line x1="355.0" y1="618.7" x2="359.5" y2="618.7" stroke="#000" stroke-width="1.4"/>
<line x1="355.0" y1="623.4" x2="359.5" y2="623.4" stroke="#000" stroke-width="1.4"/>
<line x1="355.0" y1="627.5" x2="359.5" y2="627.5" stroke="#000" stroke-width="1.4"/>
<line x1="355.0" y1="631.2" x2="362.5" y2="631.2" stroke="#000" stroke-width="2"/>
<line x1="355.0" y1="655.6" x2="359.5" y2="655.6" stroke="#000" stroke-width="1.4"/>
<line x1="355.0" y1="669.8" x2="359.5" y2="669.8" stroke="#000" stroke-width="1.4"/>
<line x1="355.0" y1="680.0" x2="359.5" y2="680.0" stroke="#000" stroke-width="1.4"/>
<line x1="355.0" y1="687.8" x2="359.5" y2="687.8" stroke="#000" stroke-width="1.4"/>
<line x1="355.0" y1="694.2" x2="359.5" y2="694.2" stroke="#000" stroke-width="1.4"/>
<line x1="355.0" y1="699.7" x2="359.5" y2="699.7" stroke="#000" stroke-width="1.4"/>
<line x1="355.0" y1="704.4" x2="359.5" y2="704.4" stroke="#000" stroke-width="1.4"/>
<line x1="355.0" y1="708.5" x2="359.5" y2="708.5" stroke="#000" stroke-width="1.4"/>
<line x1="355.0" y1="712.2" x2="362.5" y2="712.2" stroke="#000" stroke-width="2"/>
<text x="65.8" y="239.7" class="tk" textLength="17.7" lengthAdjust="spacingAndGlyphs">10</text><text x="84.5" y="232.8" class="tk" style="font-size:12.5px">4</text>
<text x="65.8" y="157.8" class="tk" textLength="17.7" lengthAdjust="spacingAndGlyphs">10</text><text x="84.5" y="150.8" class="tk" style="font-size:12.5px">3</text>
<text x="65.8" y="76.8" class="tk" textLength="17.7" lengthAdjust="spacingAndGlyphs">10</text><text x="84.5" y="69.8" class="tk" style="font-size:12.5px">2</text>
<text x="65.8" y="480.3" class="tk" textLength="17.7" lengthAdjust="spacingAndGlyphs">10</text><text x="84.5" y="473.4" class="tk" style="font-size:12.5px">4</text>
<text x="65.8" y="398.4" class="tk" textLength="17.7" lengthAdjust="spacingAndGlyphs">10</text><text x="84.5" y="391.4" class="tk" style="font-size:12.5px">3</text>
<text x="65.8" y="317.4" class="tk" textLength="17.7" lengthAdjust="spacingAndGlyphs">10</text><text x="84.5" y="310.4" class="tk" style="font-size:12.5px">2</text>
<text x="65.8" y="719.7" class="tk" textLength="17.7" lengthAdjust="spacingAndGlyphs">10</text><text x="84.5" y="712.8" class="tk" style="font-size:12.5px">4</text>
<text x="65.8" y="637.8" class="tk" textLength="17.7" lengthAdjust="spacingAndGlyphs">10</text><text x="84.5" y="630.8" class="tk" style="font-size:12.5px">3</text>
<text x="65.8" y="556.8" class="tk" textLength="17.7" lengthAdjust="spacingAndGlyphs">10</text><text x="84.5" y="549.8" class="tk" style="font-size:12.5px">2</text>
<rect x="105.0" y="27.6" width="236.7" height="205.6" fill="none" stroke="#000" stroke-width="2"/>
<rect x="354.0" y="27.6" width="236.3" height="205.6" fill="none" stroke="#000" stroke-width="2"/>
<rect x="105.0" y="267.6" width="236.7" height="206.2" fill="none" stroke="#000" stroke-width="2"/>
<rect x="354.0" y="267.6" width="236.3" height="206.2" fill="none" stroke="#000" stroke-width="2"/>
<rect x="105.0" y="507.6" width="236.7" height="205.6" fill="none" stroke="#000" stroke-width="2"/>
<rect x="354.0" y="507.6" width="236.3" height="205.6" fill="none" stroke="#000" stroke-width="2"/>
<rect x="105.0" y="233.2" width="236.7" height="34.4" fill="none" stroke="#000" stroke-width="2"/>
<rect x="354.0" y="233.2" width="236.3" height="34.4" fill="none" stroke="#000" stroke-width="2"/>
<rect x="105.0" y="473.8" width="236.7" height="33.8" fill="none" stroke="#000" stroke-width="2"/>
<rect x="354.0" y="473.8" width="236.3" height="33.8" fill="none" stroke="#000" stroke-width="2"/>
<linearGradient id="cbg" x1="0" y1="0" x2="0" y2="1"><stop offset="0.0000" stop-color="#3c0b18"/><stop offset="0.0167" stop-color="#480c1e"/><stop offset="0.0333" stop-color="#550d23"/><stop offset="0.0500" stop-color="#5f0e26"/><stop offset="0.0667" stop-color="#680f2a"/><stop offset="0.0833" stop-color="#72102d"/><stop offset="0.1000" stop-color="#7b112e"/><stop offset="0.1167" stop-color="#831230"/><stop offset="0.1333" stop-color="#8c1331"/><stop offset="0.1500" stop-color="#961630"/><stop offset="0.1667" stop-color="#9f1830"/><stop offset="0.1833" stop-color="#b52c2d"/><stop offset="0.2000" stop-color="#c13b2c"/><stop offset="0.2167" stop-color="#c34432"/><stop offset="0.2333" stop-color="#c64e39"/><stop offset="0.2500" stop-color="#c8573f"/><stop offset="0.2667" stop-color="#cb6149"/><stop offset="0.2833" stop-color="#ce6b53"/><stop offset="0.3000" stop-color="#d2765e"/><stop offset="0.3167" stop-color="#d58068"/><stop offset="0.3333" stop-color="#d88a72"/><stop offset="0.3500" stop-color="#db947e"/><stop offset="0.3667" stop-color="#de9e8b"/><stop offset="0.3833" stop-color="#e0a897"/><stop offset="0.4000" stop-color="#e3b2a4"/><stop offset="0.4167" stop-color="#e6bcb0"/><stop offset="0.4333" stop-color="#e8c6bc"/><stop offset="0.4500" stop-color="#ead0c8"/><stop offset="0.4667" stop-color="#ecdad5"/><stop offset="0.4833" stop-color="#eee4e1"/><stop offset="0.5000" stop-color="#f0eeed"/><stop offset="0.5167" stop-color="#e5e7e8"/><stop offset="0.5333" stop-color="#dae0e3"/><stop offset="0.5500" stop-color="#ced9df"/><stop offset="0.5667" stop-color="#c3d2da"/><stop offset="0.5833" stop-color="#b8cbd5"/><stop offset="0.6000" stop-color="#aac3cf"/><stop offset="0.6167" stop-color="#9bbbca"/><stop offset="0.6333" stop-color="#8db3c4"/><stop offset="0.6500" stop-color="#7eabbf"/><stop offset="0.6667" stop-color="#70a3b9"/><stop offset="0.6833" stop-color="#659dba"/><stop offset="0.7000" stop-color="#5b97bb"/><stop offset="0.7167" stop-color="#5092bb"/><stop offset="0.7333" stop-color="#468cbc"/><stop offset="0.7500" stop-color="#3b86bd"/><stop offset="0.7667" stop-color="#337fbf"/><stop offset="0.7833" stop-color="#2a77c2"/><stop offset="0.8000" stop-color="#2270c4"/><stop offset="0.8167" stop-color="#2666c6"/><stop offset="0.8333" stop-color="#2a5cc8"/><stop offset="0.8500" stop-color="#2c53c0"/><stop offset="0.8667" stop-color="#2e4ab8"/><stop offset="0.8833" stop-color="#2e45aa"/><stop offset="0.9000" stop-color="#2e3f9c"/><stop offset="0.9167" stop-color="#2e3a8e"/><stop offset="0.9333" stop-color="#2b347e"/><stop offset="0.9500" stop-color="#272f6e"/><stop offset="0.9667" stop-color="#24295e"/><stop offset="0.9833" stop-color="#1f2351"/><stop offset="1.0000" stop-color="#1b1e44"/></linearGradient>
<rect x="601.5" y="58.6" width="14.5" height="625.8" fill="url(#cbg)"/>
<path d="M601.5 59.1 L608.8 23.0 L616.0 59.1 Z" fill="#3c0b18"/>
<path d="M601.5 683.9 L608.8 718.0 L616.0 683.9 Z" fill="#1b1e44"/>
<path d="M601.5 58.6 L608.8 23.0 L616.0 58.6 L616.0 684.4 L608.8 718.0 L601.5 684.4 Z" fill="none" stroke="#000" stroke-width="1.6"/>
<line x1="605.5" y1="58.6" x2="616.0" y2="58.6" stroke="#000" stroke-width="1.6"/>
<text x="627.1" y="64.1" class="cb" textLength="25.4" lengthAdjust="spacingAndGlyphs">1.5</text>
<line x1="605.5" y1="162.9" x2="616.0" y2="162.9" stroke="#000" stroke-width="1.6"/>
<text x="627.1" y="168.4" class="cb" textLength="25.4" lengthAdjust="spacingAndGlyphs">1.0</text>
<line x1="605.5" y1="267.2" x2="616.0" y2="267.2" stroke="#000" stroke-width="1.6"/>
<text x="627.1" y="272.7" class="cb" textLength="25.4" lengthAdjust="spacingAndGlyphs">0.5</text>
<line x1="605.5" y1="371.5" x2="616.0" y2="371.5" stroke="#000" stroke-width="1.6"/>
<text x="627.1" y="377.0" class="cb" textLength="25.4" lengthAdjust="spacingAndGlyphs">0.0</text>
<line x1="605.5" y1="475.8" x2="616.0" y2="475.8" stroke="#000" stroke-width="1.6"/>
<text x="627.1" y="481.3" class="cb" textLength="41.7" lengthAdjust="spacingAndGlyphs">−0.5</text>
<line x1="605.5" y1="580.1" x2="616.0" y2="580.1" stroke="#000" stroke-width="1.6"/>
<text x="627.1" y="585.6" class="cb" textLength="41.7" lengthAdjust="spacingAndGlyphs">−1.0</text>
<line x1="605.5" y1="684.4" x2="616.0" y2="684.4" stroke="#000" stroke-width="1.6"/>
<text x="627.1" y="689.9" class="cb" textLength="41.7" lengthAdjust="spacingAndGlyphs">−1.5</text>
<text transform="translate(696.3 372.6) rotate(-90)" x="-112.5" class="ttl" textLength="225" lengthAdjust="spacingAndGlyphs">Normalized deviation</text>
<line x1="138.6" y1="761.2" x2="138.6" y2="946.6" stroke="#b0b0b0" stroke-width="1.6"/>
<line x1="212.3" y1="761.2" x2="212.3" y2="946.6" stroke="#b0b0b0" stroke-width="1.6"/>
<line x1="286.0" y1="761.2" x2="286.0" y2="946.6" stroke="#b0b0b0" stroke-width="1.6"/>
<line x1="359.7" y1="761.2" x2="359.7" y2="946.6" stroke="#b0b0b0" stroke-width="1.6"/>
<line x1="433.5" y1="761.2" x2="433.5" y2="946.6" stroke="#b0b0b0" stroke-width="1.6"/>
<line x1="507.2" y1="761.2" x2="507.2" y2="946.6" stroke="#b0b0b0" stroke-width="1.6"/>
<line x1="580.9" y1="761.2" x2="580.9" y2="946.6" stroke="#b0b0b0" stroke-width="1.6"/>
<line x1="654.6" y1="761.2" x2="654.6" y2="946.6" stroke="#b0b0b0" stroke-width="1.6"/>
<line x1="112.2" y1="944.5" x2="696.7" y2="944.5" stroke="#b0b0b0" stroke-width="1.6"/>
<line x1="112.2" y1="900.6" x2="696.7" y2="900.6" stroke="#b0b0b0" stroke-width="1.6"/>
<line x1="112.2" y1="856.7" x2="696.7" y2="856.7" stroke="#b0b0b0" stroke-width="1.6"/>
<line x1="112.2" y1="812.7" x2="696.7" y2="812.7" stroke="#b0b0b0" stroke-width="1.6"/>
<line x1="112.2" y1="768.8" x2="696.7" y2="768.8" stroke="#b0b0b0" stroke-width="1.6"/>
<clipPath id="axc"><rect x="112.2" y="761.2" width="584.5" height="185.4"/></clipPath>
<g clip-path="url(#axc)" fill="none" stroke-linejoin="round" stroke-linecap="round">
<path d="M138.5 908.4 L140.0 907.2 L141.5 905.8 L143.0 904.7 L144.5 903.4 L146.0 902.3 L147.5 901.0 L149.0 899.2 L150.5 896.4 L152.0 892.7 L153.5 888.8 L155.0 884.8 L156.5 880.7 L158.0 877.0 L159.5 872.8 L161.0 868.6 L162.5 864.6 L164.0 860.7 L165.5 856.9 L167.0 852.8 L168.5 848.6 L170.0 844.1 L171.5 839.7 L173.0 834.9 L174.5 830.1 L176.0 825.3 L177.5 820.8 L179.0 815.9 L180.5 812.1 L182.0 808.8 L183.5 805.5 L185.0 802.4 L186.5 799.2 L188.0 797.2 L189.5 796.1 L191.0 795.1 L192.5 794.1 L194.0 792.9 L195.5 792.7 L197.0 793.3 L198.5 794.0 L200.0 794.5 L201.5 795.0 L203.0 796.0 L204.5 797.6 L206.0 799.7 L207.5 801.8 L209.0 803.7 L210.5 806.0 L212.0 810.2 L213.5 814.7 L215.0 819.3 L216.5 823.8 L218.0 828.3 L219.5 832.8 L221.0 837.1 L222.5 841.6 L224.0 845.9 L225.5 850.1 L227.0 854.0 L228.5 857.6 L230.0 861.4 L231.5 865.1 L233.0 868.9 L234.5 872.6 L236.0 876.2 L237.5 878.0 L239.0 879.9 L240.5 882.2 L242.0 884.2 L243.5 886.3 L245.0 888.4 L246.5 890.4 L248.0 891.0 L249.5 891.7 L251.0 892.3 L252.5 892.9 L254.0 893.9 L255.5 894.8 L257.0 895.3 L258.5 895.5 L260.0 895.8 L261.5 895.9 L263.0 896.3 L264.5 896.5 L266.0 896.9 L267.5 896.5 L269.0 895.2 L270.5 893.6 L272.0 892.5 L273.5 891.3 L275.0 890.1 L276.5 889.0 L278.0 886.8 L279.5 884.1 L281.0 881.3 L282.5 878.8 L284.0 876.0 L285.5 873.5 L287.0 870.9 L288.5 866.9 L290.0 862.2 L291.5 857.1 L293.0 851.8 L294.5 846.9 L296.0 842.0 L297.5 836.4 L299.0 830.9 L300.5 825.4 L302.0 819.8 L303.5 814.2 L305.0 808.3 L306.5 802.5 L308.0 796.4 L309.5 790.5 L311.0 787.1 L312.5 783.7 L314.0 780.3 L315.5 776.7 L317.0 775.4 L318.5 774.9 L320.0 774.5 L321.5 774.1 L323.0 773.8 L324.5 773.4 L326.0 772.9 L327.5 773.5 L329.0 774.0 L330.5 774.9 L332.0 775.6 L333.5 776.5 L335.0 778.0 L336.5 780.0 L338.0 782.0 L339.5 784.0 L341.0 786.0 L342.5 789.2 L344.0 793.4 L345.5 797.7 L347.0 802.2 L348.5 806.4 L350.0 810.7 L351.5 815.2 L353.0 819.5 L354.5 824.0 L356.0 828.6 L357.5 832.8 L359.0 837.0 L360.5 841.0 L362.0 844.9 L363.5 848.7 L365.0 852.7 L366.5 855.2 L368.0 857.7 L369.5 860.4 L371.0 862.7 L372.5 865.0 L374.0 868.4 L375.5 871.6 L377.0 875.0 L378.5 878.4 L380.0 881.5 L381.5 885.2 L383.0 889.5 L384.5 893.5 L386.0 897.3 L387.5 901.5 L389.0 904.6 L390.5 907.5 L392.0 910.1 L393.5 912.8 L395.0 915.3 L396.5 917.0 L398.0 918.1 L399.5 919.1 L401.0 920.2 L402.5 920.9 L404.0 921.3 L405.5 920.0 L407.0 919.0 L408.5 918.0 L410.0 917.0 L411.5 914.7 L413.0 910.2 L414.5 905.8 L416.0 901.3 L417.5 896.7 L419.0 892.1 L420.5 886.4 L422.0 880.6 L423.5 874.8 L425.0 868.8 L426.5 862.7 L428.0 856.2 L429.5 849.9 L431.0 843.8 L432.5 837.6 L434.0 831.3 L435.5 824.8 L437.0 818.2 L438.5 811.8 L440.0 805.2 L441.5 798.7 L443.0 793.1 L444.5 788.1 L446.0 783.1 L447.5 778.4 L449.0 773.5 L450.5 770.5 L452.0 769.2 L453.5 768.0 L455.0 766.4 L456.5 765.7 L458.0 765.1 L459.5 764.1 L461.0 763.5 L462.5 764.1 L464.0 765.4 L465.5 767.0 L467.0 768.6 L468.5 770.0 L470.0 772.5 L471.5 775.1 L473.0 777.5 L474.5 779.8 L476.0 782.4 L477.5 786.2 L479.0 790.2 L480.5 794.1 L482.0 797.9 L483.5 801.9 L485.0 806.7 L486.5 811.5 L488.0 816.0 L489.5 820.7 L491.0 825.8 L492.5 829.7 L494.0 833.6 L495.5 837.4 L497.0 841.3 L498.5 845.1 L500.0 848.8 L501.5 852.6 L503.0 856.5 L504.5 860.4 L506.0 864.1 L507.5 867.5 L509.0 871.0 L510.5 874.5 L512.0 878.0 L513.5 881.6 L515.0 885.1 L516.5 888.4 L518.0 892.1 L519.5 896.0 L521.0 899.8 L522.5 902.9 L524.0 905.6 L525.5 908.2 L527.0 910.7 L528.5 913.3 L530.0 915.5 L531.5 917.4 L533.0 919.1 L534.5 921.0 L536.0 922.9 L537.5 924.6 L539.0 925.1 L540.5 926.0 L542.0 926.6 L543.5 927.1 L545.0 927.9 L546.5 927.3 L548.0 926.5 L549.5 925.9 L551.0 925.0 L552.5 924.3 L554.0 922.0 L555.5 918.5 L557.0 915.4 L558.5 912.1 L560.0 909.1 L561.5 904.6 L563.0 898.9 L564.5 893.2 L566.0 887.8 L567.5 882.7 L569.0 877.4 L570.5 872.2 L572.0 867.3 L573.5 863.1 L575.0 858.5 L576.5 853.9 L578.0 849.2 L579.5 845.7 L581.0 842.3 L582.5 838.9 L584.0 835.6 L585.5 833.2 L587.0 830.8 L588.5 828.3 L590.0 825.9 L591.5 825.2 L593.0 824.5 L594.5 824.1 L596.0 824.0 L597.5 824.4 L599.0 824.6 L600.5 824.9 L602.0 825.9 L603.5 827.3 L605.0 828.9 L606.5 830.5 L608.0 832.4 L609.5 834.1 L611.0 835.9 L612.5 838.0 L614.0 840.5 L615.5 843.3 L617.0 845.6 L618.5 848.0 L620.0 850.1 L621.5 852.3 L623.0 854.6 L624.5 856.6 L626.0 857.8 L627.5 859.0 L629.0 860.5 L630.5 861.9 L632.0 863.1 L633.5 864.4 L635.0 865.8 L636.5 867.3 L638.0 868.5 L639.5 870.0 L641.0 871.3 L642.5 872.1 L644.0 873.1 L645.5 873.8 L647.0 874.5 L648.5 875.4 L650.0 875.9 L651.5 876.3 L653.0 877.0 L654.5 877.9" stroke="#ff7f0e" stroke-width="0.9" stroke-dasharray="2.8 1.5"/>
<path d="M138.5 916.0 L140.0 914.8 L141.5 912.9 L143.0 911.0 L144.5 908.9 L146.0 907.0 L147.5 904.9 L149.0 902.8 L150.5 899.3 L152.0 894.7 L153.5 890.2 L155.0 885.8 L156.5 880.9 L158.0 876.4 L159.5 871.7 L161.0 867.0 L162.5 862.2 L164.0 857.9 L165.5 853.3 L167.0 848.6 L168.5 844.1 L170.0 839.2 L171.5 834.2 L173.0 829.5 L174.5 824.5 L176.0 819.4 L177.5 814.4 L179.0 809.3 L180.5 805.1 L182.0 801.8 L183.5 798.5 L185.0 795.1 L186.5 791.8 L188.0 789.1 L189.5 787.9 L191.0 786.9 L192.5 785.9 L194.0 785.1 L195.5 784.0 L197.0 784.8 L198.5 785.3 L200.0 786.0 L201.5 786.9 L203.0 787.8 L204.5 789.8 L206.0 791.7 L207.5 793.6 L209.0 795.6 L210.5 797.6 L212.0 801.7 L213.5 806.3 L215.0 810.7 L216.5 815.1 L218.0 819.8 L219.5 824.4 L221.0 829.3 L222.5 833.7 L224.0 838.3 L225.5 843.0 L227.0 847.1 L228.5 850.7 L230.0 854.6 L231.5 858.4 L233.0 862.3 L234.5 866.1 L236.0 869.9 L237.5 872.8 L239.0 875.2 L240.5 877.4 L242.0 879.8 L243.5 882.0 L245.0 884.5 L246.5 887.0 L248.0 888.3 L249.5 889.2 L251.0 890.1 L252.5 891.1 L254.0 892.0 L255.5 892.8 L257.0 893.8 L258.5 894.1 L260.0 894.7 L261.5 895.2 L263.0 895.6 L264.5 896.0 L266.0 896.2 L267.5 896.3 L269.0 895.2 L270.5 893.9 L272.0 892.7 L273.5 891.3 L275.0 890.2 L276.5 888.9 L278.0 887.3 L279.5 884.2 L281.0 881.4 L282.5 878.6 L284.0 875.9 L285.5 873.2 L287.0 870.1 L288.5 866.8 L290.0 861.8 L291.5 856.9 L293.0 852.0 L294.5 846.8 L296.0 841.8 L297.5 836.5 L299.0 831.2 L300.5 825.9 L302.0 820.4 L303.5 815.1 L305.0 809.3 L306.5 803.2 L308.0 797.5 L309.5 791.7 L311.0 787.4 L312.5 784.3 L314.0 781.4 L315.5 778.3 L317.0 776.3 L318.5 776.2 L320.0 776.3 L321.5 776.1 L323.0 776.0 L324.5 775.8 L326.0 775.7 L327.5 776.0 L329.0 777.1 L330.5 778.0 L332.0 779.0 L333.5 780.0 L335.0 781.3 L336.5 783.6 L338.0 785.9 L339.5 788.1 L341.0 790.5 L342.5 792.9 L344.0 797.1 L345.5 801.1 L347.0 805.1 L348.5 809.3 L350.0 813.5 L351.5 817.6 L353.0 821.6 L354.5 825.7 L356.0 829.8 L357.5 833.8 L359.0 837.1 L360.5 840.5 L362.0 844.1 L363.5 847.5 L365.0 851.0 L366.5 853.3 L368.0 855.3 L369.5 857.0 L371.0 858.8 L372.5 860.8 L374.0 863.3 L375.5 866.3 L377.0 869.2 L378.5 872.1 L380.0 875.2 L381.5 878.5 L383.0 882.3 L384.5 886.1 L386.0 890.1 L387.5 894.3 L389.0 897.9 L390.5 900.9 L392.0 904.1 L393.5 907.2 L395.0 910.4 L396.5 913.4 L398.0 915.0 L399.5 916.5 L401.0 918.2 L402.5 919.9 L404.0 921.5 L405.5 921.0 L407.0 920.8 L408.5 920.6 L410.0 920.5 L411.5 920.2 L413.0 916.9 L414.5 913.3 L416.0 909.6 L417.5 905.8 L419.0 902.3 L420.5 897.5 L422.0 892.3 L423.5 886.9 L425.0 881.4 L426.5 876.0 L428.0 870.4 L429.5 864.5 L431.0 858.7 L432.5 852.8 L434.0 846.7 L435.5 840.4 L437.0 833.9 L438.5 827.3 L440.0 820.7 L441.5 814.1 L443.0 808.2 L444.5 803.4 L446.0 798.3 L447.5 793.1 L449.0 788.0 L450.5 783.6 L452.0 782.0 L453.5 780.5 L455.0 779.3 L456.5 778.0 L458.0 776.8 L459.5 775.7 L461.0 774.6 L462.5 774.1 L464.0 775.3 L465.5 776.5 L467.0 777.7 L468.5 779.0 L470.0 781.3 L471.5 783.4 L473.0 785.4 L474.5 787.6 L476.0 790.0 L477.5 793.3 L479.0 796.6 L480.5 800.1 L482.0 803.4 L483.5 807.0 L485.0 811.0 L486.5 815.3 L488.0 819.6 L489.5 824.1 L491.0 828.7 L492.5 832.5 L494.0 835.8 L495.5 839.3 L497.0 842.8 L498.5 845.9 L500.0 849.3 L501.5 852.7 L503.0 856.3 L504.5 859.6 L506.0 863.2 L507.5 866.7 L509.0 869.9 L510.5 873.1 L512.0 876.0 L513.5 879.2 L515.0 882.3 L516.5 886.1 L518.0 889.9 L519.5 893.6 L521.0 897.2 L522.5 900.9 L524.0 903.7 L525.5 906.5 L527.0 909.1 L528.5 911.6 L530.0 914.0 L531.5 916.2 L533.0 918.2 L534.5 920.1 L536.0 922.3 L537.5 924.3 L539.0 925.3 L540.5 926.0 L542.0 926.8 L543.5 927.6 L545.0 928.4 L546.5 928.0 L548.0 927.4 L549.5 926.6 L551.0 925.8 L552.5 924.9 L554.0 923.2 L555.5 919.8 L557.0 916.4 L558.5 913.0 L560.0 909.5 L561.5 905.3 L563.0 899.5 L564.5 893.9 L566.0 888.1 L567.5 882.7 L569.0 877.2 L570.5 872.1 L572.0 866.9 L573.5 861.9 L575.0 856.9 L576.5 852.2 L578.0 847.5 L579.5 843.4 L581.0 839.6 L582.5 836.0 L584.0 832.8 L585.5 829.9 L587.0 827.4 L588.5 825.0 L590.0 822.8 L591.5 821.3 L593.0 820.4 L594.5 819.8 L596.0 819.6 L597.5 820.3 L599.0 821.0 L600.5 821.4 L602.0 822.1 L603.5 824.0 L605.0 826.2 L606.5 828.1 L608.0 830.1 L609.5 832.4 L611.0 834.8 L612.5 837.2 L614.0 840.2 L615.5 843.1 L617.0 845.8 L618.5 848.6 L620.0 851.2 L621.5 853.9 L623.0 856.5 L624.5 859.2 L626.0 860.9 L627.5 862.5 L629.0 864.1 L630.5 865.6 L632.0 867.3 L633.5 868.9 L635.0 870.5 L636.5 871.8 L638.0 873.2 L639.5 874.5 L641.0 875.8 L642.5 877.2 L644.0 878.1 L645.5 878.9 L647.0 879.7 L648.5 880.3 L650.0 880.8 L651.5 881.3 L653.0 881.9 L654.5 882.7" stroke="#ff7f0e" stroke-width="0.9" stroke-dasharray="2.8 1.5"/>
<path d="M138.5 914.5 L140.0 914.5 L141.5 912.7 L143.0 910.7 L144.5 908.9 L146.0 907.1 L147.5 905.5 L149.0 903.7 L150.5 901.0 L152.0 897.0 L153.5 893.0 L155.0 889.0 L156.5 885.1 L158.0 881.2 L159.5 877.2 L161.0 873.3 L162.5 869.4 L164.0 865.3 L165.5 861.3 L167.0 857.2 L168.5 853.0 L170.0 849.1 L171.5 844.8 L173.0 840.5 L174.5 836.0 L176.0 831.6 L177.5 827.0 L179.0 822.5 L180.5 818.3 L182.0 815.3 L183.5 812.2 L185.0 809.5 L186.5 806.4 L188.0 803.2 L189.5 802.0 L191.0 801.2 L192.5 800.6 L194.0 799.9 L195.5 798.8 L197.0 799.1 L198.5 799.8 L200.0 800.6 L201.5 801.4 L203.0 802.0 L204.5 803.7 L206.0 805.7 L207.5 807.6 L209.0 809.6 L210.5 811.4 L212.0 814.7 L213.5 819.1 L215.0 823.7 L216.5 828.3 L218.0 832.5 L219.5 836.8 L221.0 841.5 L222.5 846.1 L224.0 850.6 L225.5 855.0 L227.0 859.6 L228.5 863.5 L230.0 867.2 L231.5 870.9 L233.0 874.8 L234.5 878.3 L236.0 882.1 L237.5 885.2 L239.0 887.4 L240.5 889.7 L242.0 891.7 L243.5 893.7 L245.0 895.8 L246.5 898.0 L248.0 899.5 L249.5 900.4 L251.0 901.2 L252.5 902.0 L254.0 902.7 L255.5 903.5 L257.0 904.3 L258.5 904.6 L260.0 904.7 L261.5 904.9 L263.0 905.2 L264.5 905.3 L266.0 905.3 L267.5 905.7 L269.0 904.7 L270.5 903.4 L272.0 902.3 L273.5 901.0 L275.0 900.1 L276.5 898.7 L278.0 897.3 L279.5 894.4 L281.0 892.0 L282.5 889.5 L284.0 886.6 L285.5 883.9 L287.0 881.3 L288.5 878.9 L290.0 874.3 L291.5 869.5 L293.0 864.6 L294.5 859.9 L296.0 855.1 L297.5 850.1 L299.0 844.6 L300.5 839.4 L302.0 834.0 L303.5 828.9 L305.0 823.5 L306.5 817.6 L308.0 811.7 L309.5 805.8 L311.0 800.6 L312.5 797.2 L314.0 793.9 L315.5 790.7 L317.0 787.6 L318.5 787.0 L320.0 786.8 L321.5 786.2 L323.0 785.8 L324.5 785.4 L326.0 784.8 L327.5 784.4 L329.0 785.0 L330.5 785.5 L332.0 786.0 L333.5 786.2 L335.0 786.9 L336.5 788.6 L338.0 790.3 L339.5 792.0 L341.0 793.8 L342.5 795.6 L344.0 799.1 L345.5 803.2 L347.0 807.0 L348.5 811.0 L350.0 815.1 L351.5 819.0 L353.0 822.8 L354.5 826.8 L356.0 830.8 L357.5 834.7 L359.0 838.4 L360.5 841.6 L362.0 845.2 L363.5 848.5 L365.0 852.1 L366.5 854.8 L368.0 856.6 L369.5 858.9 L371.0 861.1 L372.5 862.9 L374.0 864.9 L375.5 867.7 L377.0 870.4 L378.5 873.1 L380.0 876.0 L381.5 878.9 L383.0 882.6 L384.5 886.4 L386.0 890.1 L387.5 893.8 L389.0 897.3 L390.5 899.9 L392.0 902.8 L393.5 905.3 L395.0 908.0 L396.5 910.5 L398.0 912.0 L399.5 913.0 L401.0 914.1 L402.5 915.1 L404.0 916.5 L405.5 915.9 L407.0 915.1 L408.5 914.5 L410.0 913.7 L411.5 913.0 L413.0 910.3 L414.5 906.1 L416.0 902.2 L417.5 898.5 L419.0 894.9 L420.5 890.2 L422.0 884.8 L423.5 879.4 L425.0 874.4 L426.5 869.0 L428.0 863.5 L429.5 858.0 L431.0 852.2 L432.5 846.5 L434.0 840.5 L435.5 834.6 L437.0 828.4 L438.5 821.9 L440.0 815.7 L441.5 809.3 L443.0 803.0 L444.5 798.4 L446.0 793.9 L447.5 788.9 L449.0 784.3 L450.5 779.5 L452.0 777.7 L453.5 776.2 L455.0 774.8 L456.5 773.3 L458.0 772.6 L459.5 771.6 L461.0 770.5 L462.5 769.7 L464.0 770.6 L465.5 771.5 L467.0 772.7 L468.5 773.6 L470.0 775.7 L471.5 777.5 L473.0 779.6 L474.5 781.6 L476.0 783.6 L477.5 786.2 L479.0 789.5 L480.5 792.8 L482.0 796.4 L483.5 799.7 L485.0 803.5 L486.5 808.0 L488.0 812.8 L489.5 816.9 L491.0 821.7 L492.5 826.2 L494.0 829.7 L495.5 833.3 L497.0 837.0 L498.5 840.5 L500.0 844.2 L501.5 847.8 L503.0 851.3 L504.5 854.9 L506.0 858.7 L507.5 862.4 L509.0 865.7 L510.5 868.8 L512.0 872.1 L513.5 875.5 L515.0 878.7 L516.5 882.4 L518.0 886.3 L519.5 890.2 L521.0 894.1 L522.5 897.9 L524.0 901.2 L525.5 903.7 L527.0 906.6 L528.5 909.3 L530.0 911.7 L531.5 913.8 L533.0 915.7 L534.5 917.5 L536.0 919.2 L537.5 921.2 L539.0 922.6 L540.5 923.1 L542.0 923.8 L543.5 924.1 L545.0 924.9 L546.5 925.3 L548.0 924.7 L549.5 923.9 L551.0 923.0 L552.5 922.4 L554.0 921.5 L555.5 918.1 L557.0 915.2 L558.5 912.2 L560.0 909.2 L561.5 906.0 L563.0 900.5 L564.5 895.0 L566.0 889.4 L567.5 883.8 L569.0 878.7 L570.5 873.6 L572.0 868.4 L573.5 863.4 L575.0 859.3 L576.5 854.8 L578.0 850.2 L579.5 846.1 L581.0 842.8 L582.5 839.7 L584.0 836.4 L585.5 833.4 L587.0 831.0 L588.5 828.6 L590.0 826.4 L591.5 824.7 L593.0 824.0 L594.5 823.2 L596.0 822.5 L597.5 823.0 L599.0 823.2 L600.5 823.2 L602.0 822.8 L603.5 824.1 L605.0 825.7 L606.5 826.9 L608.0 828.3 L609.5 829.9 L611.0 831.7 L612.5 833.1 L614.0 835.2 L615.5 837.4 L617.0 839.6 L618.5 841.6 L620.0 843.7 L621.5 845.7 L623.0 847.6 L624.5 849.7 L626.0 851.4 L627.5 852.6 L629.0 853.8 L630.5 854.9 L632.0 856.0 L633.5 857.2 L635.0 858.6 L636.5 859.9 L638.0 861.0 L639.5 862.4 L641.0 863.6 L642.5 864.9 L644.0 865.8 L645.5 866.7 L647.0 867.5 L648.5 868.5 L650.0 869.4 L651.5 870.5 L653.0 871.7 L654.5 872.7" stroke="#ff7f0e" stroke-width="0.9" stroke-dasharray="2.8 1.5"/>
<path d="M138.5 931.2 L140.0 930.0 L141.5 927.3 L143.0 924.1 L144.5 921.3 L146.0 918.5 L147.5 915.6 L149.0 912.9 L150.5 909.3 L152.0 904.6 L153.5 900.1 L155.0 895.6 L156.5 890.9 L158.0 886.3 L159.5 881.9 L161.0 877.7 L162.5 873.3 L164.0 869.0 L165.5 864.7 L167.0 860.3 L168.5 855.8 L170.0 851.2 L171.5 846.4 L173.0 841.9 L174.5 837.4 L176.0 833.0 L177.5 828.4 L179.0 824.1 L180.5 819.7 L182.0 816.8 L183.5 813.9 L185.0 810.8 L186.5 807.8 L188.0 804.7 L189.5 803.7 L191.0 803.0 L192.5 802.1 L194.0 801.5 L195.5 800.6 L197.0 801.0 L198.5 802.0 L200.0 802.7 L201.5 803.4 L203.0 803.9 L204.5 805.6 L206.0 807.2 L207.5 809.2 L209.0 811.2 L210.5 812.7 L212.0 815.5 L213.5 819.8 L215.0 824.2 L216.5 828.5 L218.0 832.8 L219.5 836.9 L221.0 841.1 L222.5 845.6 L224.0 849.8 L225.5 854.0 L227.0 857.6 L228.5 861.2 L230.0 864.9 L231.5 868.5 L233.0 872.3 L234.5 875.9 L236.0 879.3 L237.5 882.5 L239.0 884.6 L240.5 886.9 L242.0 889.2 L243.5 891.5 L245.0 893.8 L246.5 896.1 L248.0 897.7 L249.5 898.5 L251.0 899.4 L252.5 900.4 L254.0 901.5 L255.5 902.5 L257.0 903.6 L258.5 903.9 L260.0 904.2 L261.5 904.2 L263.0 904.4 L264.5 904.6 L266.0 905.0 L267.5 905.1 L269.0 904.1 L270.5 902.8 L272.0 901.4 L273.5 900.0 L275.0 898.7 L276.5 897.0 L278.0 895.6 L279.5 892.3 L281.0 889.3 L282.5 886.1 L284.0 882.7 L285.5 879.4 L287.0 876.1 L288.5 873.2 L290.0 867.8 L291.5 862.5 L293.0 857.0 L294.5 851.4 L296.0 846.2 L297.5 840.6 L299.0 834.6 L300.5 828.4 L302.0 822.5 L303.5 816.9 L305.0 811.2 L306.5 804.7 L308.0 798.7 L309.5 792.6 L311.0 787.5 L312.5 784.5 L314.0 781.3 L315.5 777.9 L317.0 774.6 L318.5 774.3 L320.0 774.1 L321.5 773.8 L323.0 773.8 L324.5 773.9 L326.0 774.1 L327.5 774.1 L329.0 775.3 L330.5 776.6 L332.0 777.9 L333.5 779.3 L335.0 780.5 L336.5 782.9 L338.0 785.2 L339.5 787.6 L341.0 790.1 L342.5 792.4 L344.0 796.6 L345.5 801.0 L347.0 805.6 L348.5 810.0 L350.0 814.3 L351.5 818.5 L353.0 822.8 L354.5 827.1 L356.0 831.4 L357.5 835.5 L359.0 839.4 L360.5 842.6 L362.0 846.3 L363.5 850.1 L365.0 853.7 L366.5 856.6 L368.0 858.4 L369.5 860.4 L371.0 862.2 L372.5 864.2 L374.0 866.5 L375.5 869.5 L377.0 872.2 L378.5 875.1 L380.0 878.1 L381.5 881.2 L383.0 885.1 L384.5 889.0 L386.0 893.2 L387.5 897.0 L389.0 900.8 L390.5 903.3 L392.0 906.3 L393.5 908.7 L395.0 911.7 L396.5 914.4 L398.0 915.8 L399.5 917.2 L401.0 918.4 L402.5 919.8 L404.0 921.0 L405.5 921.1 L407.0 920.9 L408.5 920.1 L410.0 919.3 L411.5 918.7 L413.0 916.0 L414.5 912.0 L416.0 907.7 L417.5 903.2 L419.0 899.5 L420.5 895.1 L422.0 889.5 L423.5 884.1 L425.0 878.7 L426.5 873.1 L428.0 867.3 L429.5 861.1 L431.0 855.0 L432.5 848.8 L434.0 842.7 L435.5 836.7 L437.0 830.3 L438.5 823.9 L440.0 817.5 L441.5 810.8 L443.0 804.4 L444.5 799.6 L446.0 794.8 L447.5 789.9 L449.0 784.8 L450.5 779.9 L452.0 778.0 L453.5 776.8 L455.0 775.5 L456.5 774.5 L458.0 773.6 L459.5 772.4 L461.0 771.5 L462.5 770.8 L464.0 771.8 L465.5 773.2 L467.0 774.7 L468.5 776.1 L470.0 778.0 L471.5 780.3 L473.0 782.6 L474.5 784.8 L476.0 787.1 L477.5 790.0 L479.0 793.6 L480.5 797.1 L482.0 800.6 L483.5 804.0 L485.0 807.7 L486.5 812.5 L488.0 817.1 L489.5 821.8 L491.0 826.3 L492.5 830.6 L494.0 834.0 L495.5 837.7 L497.0 841.5 L498.5 845.1 L500.0 848.8 L501.5 852.8 L503.0 856.9 L504.5 860.5 L506.0 864.3 L507.5 868.2 L509.0 871.6 L510.5 875.0 L512.0 878.3 L513.5 881.7 L515.0 885.1 L516.5 888.8 L518.0 892.7 L519.5 896.3 L521.0 900.4 L522.5 904.1 L524.0 907.5 L525.5 910.4 L527.0 913.4 L528.5 916.4 L530.0 919.1 L531.5 921.4 L533.0 923.3 L534.5 925.6 L536.0 927.4 L537.5 929.4 L539.0 931.0 L540.5 931.8 L542.0 932.6 L543.5 933.1 L545.0 933.9 L546.5 934.6 L548.0 933.9 L549.5 933.3 L551.0 932.6 L552.5 931.6 L554.0 930.9 L555.5 927.7 L557.0 924.7 L558.5 921.6 L560.0 918.6 L561.5 915.5 L563.0 909.7 L564.5 904.0 L566.0 898.0 L567.5 892.4 L569.0 887.3 L570.5 882.0 L572.0 876.4 L573.5 871.3 L575.0 866.4 L576.5 861.7 L578.0 856.8 L579.5 852.3 L581.0 848.4 L582.5 844.5 L584.0 841.1 L585.5 837.6 L587.0 834.7 L588.5 831.9 L590.0 829.1 L591.5 827.1 L593.0 826.1 L594.5 824.9 L596.0 823.9 L597.5 824.2 L599.0 824.4 L600.5 824.4 L602.0 824.1 L603.5 825.5 L605.0 827.0 L606.5 828.1 L608.0 829.6 L609.5 831.4 L611.0 833.5 L612.5 835.6 L614.0 838.0 L615.5 840.6 L617.0 843.7 L618.5 846.3 L620.0 848.7 L621.5 851.7 L623.0 854.3 L624.5 856.9 L626.0 858.9 L627.5 860.5 L629.0 862.1 L630.5 863.7 L632.0 865.2 L633.5 866.8 L635.0 868.3 L636.5 869.8 L638.0 871.4 L639.5 872.8 L641.0 874.3 L642.5 875.7 L644.0 876.9 L645.5 877.7 L647.0 878.8 L648.5 880.0 L650.0 880.6 L651.5 881.5 L653.0 882.1 L654.5 882.5" stroke="#ff7f0e" stroke-width="0.9" stroke-dasharray="2.8 1.5"/>
<path d="M138.5 903.8 L140.0 902.5 L141.5 901.0 L143.0 899.7 L144.5 897.2 L146.0 894.6 L147.5 892.0 L149.0 889.2 L150.5 885.7 L152.0 880.9 L153.5 876.2 L155.0 871.4 L156.5 866.5 L158.0 861.7 L159.5 856.8 L161.0 852.1 L162.5 847.3 L164.0 842.3 L165.5 837.0 L167.0 831.8 L168.5 826.5 L170.0 821.1 L171.5 816.0 L173.0 810.9 L174.5 806.7 L176.0 803.1 L177.5 799.5 L179.0 795.6 L180.5 792.2 L182.0 789.3 L183.5 788.2 L185.0 786.9 L186.5 785.5 L188.0 784.3 L189.5 783.3 L191.0 783.8 L192.5 784.4 L194.0 785.0 L195.5 785.7 L197.0 786.8 L198.5 788.8 L200.0 791.0 L201.5 793.1 L203.0 795.4 L204.5 797.4 L206.0 801.9 L207.5 806.8 L209.0 811.4 L210.5 816.3 L212.0 821.2 L213.5 826.2 L215.0 831.0 L216.5 835.8 L218.0 840.8 L219.5 845.7 L221.0 850.2 L222.5 854.2 L224.0 858.4 L225.5 862.4 L227.0 866.7 L228.5 870.5 L230.0 874.6 L231.5 877.5 L233.0 880.1 L234.5 882.7 L236.0 885.2 L237.5 888.0 L239.0 890.4 L240.5 892.7 L242.0 893.8 L243.5 894.6 L245.0 895.8 L246.5 896.8 L248.0 897.8 L249.5 898.5 L251.0 899.4 L252.5 899.9 L254.0 900.3 L255.5 900.8 L257.0 900.9 L258.5 901.1 L260.0 901.2 L261.5 901.2 L263.0 900.1 L264.5 898.8 L266.0 897.8 L267.5 896.8 L269.0 895.4 L270.5 894.4 L272.0 893.0 L273.5 890.3 L275.0 887.5 L276.5 884.9 L278.0 882.4 L279.5 879.8 L281.0 877.1 L282.5 873.9 L284.0 869.1 L285.5 864.1 L287.0 859.3 L288.5 854.4 L290.0 849.6 L291.5 844.4 L293.0 839.1 L294.5 834.0 L296.0 828.5 L297.5 823.1 L299.0 817.4 L300.5 811.9 L302.0 806.1 L303.5 800.2 L305.0 796.2 L306.5 793.0 L308.0 789.9 L309.5 786.4 L311.0 784.5 L312.5 783.9 L314.0 783.6 L315.5 783.0 L317.0 782.4 L318.5 781.7 L320.0 781.2 L321.5 781.4 L323.0 781.5 L324.5 782.2 L326.0 782.6 L327.5 783.0 L329.0 784.1 L330.5 785.6 L332.0 787.0 L333.5 788.9 L335.0 790.6 L336.5 792.7 L338.0 796.3 L339.5 800.0 L341.0 803.5 L342.5 807.3 L344.0 811.0 L345.5 814.9 L347.0 818.7 L348.5 822.3 L350.0 826.3 L351.5 829.9 L353.0 833.2 L354.5 836.8 L356.0 840.2 L357.5 843.5 L359.0 847.0 L360.5 849.4 L362.0 851.6 L363.5 853.8 L365.0 856.1 L366.5 858.3 L368.0 861.3 L369.5 864.6 L371.0 868.0 L372.5 871.5 L374.0 874.7 L375.5 878.6 L377.0 882.9 L378.5 887.1 L380.0 891.5 L381.5 895.9 L383.0 899.8 L384.5 902.9 L386.0 906.1 L387.5 909.1 L389.0 912.2 L390.5 915.0 L392.0 916.4 L393.5 918.1 L395.0 919.8 L396.5 921.3 L398.0 922.6 L399.5 922.0 L401.0 921.4 L402.5 920.9 L404.0 920.4 L405.5 919.6 L407.0 915.4 L408.5 911.6 L410.0 907.4 L411.5 903.5 L413.0 899.5 L414.5 894.0 L416.0 888.5 L417.5 883.0 L419.0 877.4 L420.5 872.0 L422.0 866.3 L423.5 860.4 L425.0 854.5 L426.5 848.8 L428.0 842.9 L429.5 837.1 L431.0 830.8 L432.5 824.6 L434.0 818.4 L435.5 812.0 L437.0 806.7 L438.5 802.2 L440.0 797.5 L441.5 792.8 L443.0 788.3 L444.5 784.8 L446.0 784.1 L447.5 782.9 L449.0 781.8 L450.5 781.2 L452.0 780.6 L453.5 779.9 L455.0 779.2 L456.5 779.1 L458.0 780.5 L459.5 782.0 L461.0 783.2 L462.5 784.5 L464.0 786.8 L465.5 788.9 L467.0 791.2 L468.5 793.4 L470.0 795.5 L471.5 798.9 L473.0 802.3 L474.5 805.7 L476.0 808.9 L477.5 812.3 L479.0 816.5 L480.5 820.6 L482.0 824.8 L483.5 829.0 L485.0 833.4 L486.5 836.9 L488.0 840.0 L489.5 843.3 L491.0 846.4 L492.5 849.6 L494.0 852.8 L495.5 856.3 L497.0 859.7 L498.5 863.1 L500.0 866.5 L501.5 870.0 L503.0 872.9 L504.5 875.8 L506.0 878.9 L507.5 881.8 L509.0 885.1 L510.5 888.6 L512.0 892.5 L513.5 896.0 L515.0 899.5 L516.5 903.0 L518.0 906.0 L519.5 908.7 L521.0 911.4 L522.5 914.0 L524.0 916.8 L525.5 918.6 L527.0 920.6 L528.5 922.4 L530.0 924.3 L531.5 926.1 L533.0 927.2 L534.5 928.0 L536.0 928.8 L537.5 929.7 L539.0 930.5 L540.5 930.6 L542.0 930.2 L543.5 929.6 L545.0 928.9 L546.5 928.4 L548.0 926.5 L549.5 923.2 L551.0 919.9 L552.5 916.6 L554.0 913.3 L555.5 909.1 L557.0 903.3 L558.5 897.6 L560.0 891.6 L561.5 886.2 L563.0 880.9 L564.5 875.4 L566.0 870.1 L567.5 865.3 L569.0 860.3 L570.5 855.4 L572.0 850.7 L573.5 846.9 L575.0 843.0 L576.5 839.2 L578.0 835.3 L579.5 832.3 L581.0 829.3 L582.5 826.4 L584.0 823.6 L585.5 822.0 L587.0 820.9 L588.5 819.8 L590.0 819.3 L591.5 819.5 L593.0 819.7 L594.5 819.7 L596.0 820.7 L597.5 822.5 L599.0 824.7 L600.5 826.7 L602.0 828.7 L603.5 830.7 L605.0 833.1 L606.5 835.4 L608.0 838.4 L609.5 841.3 L611.0 844.3 L612.5 847.2 L614.0 850.2 L615.5 853.1 L617.0 856.0 L618.5 859.1 L620.0 861.2 L621.5 863.0 L623.0 864.9 L624.5 866.9 L626.0 868.6 L627.5 870.7 L629.0 872.6 L630.5 874.6 L632.0 876.5 L633.5 878.5 L635.0 880.5 L636.5 882.4 L638.0 883.7 L639.5 885.0 L641.0 886.3 L642.5 887.6 L644.0 888.6 L645.5 889.8 L647.0 890.9 L648.5 891.8 L650.0 892.3 L651.5 891.8 L653.0 891.5 L654.5 891.4" stroke="#ff7f0e" stroke-width="0.9" stroke-dasharray="2.8 1.5"/>
<path d="M138.5 923.9 L140.0 920.9 L141.5 917.7 L143.0 914.5 L144.5 911.4 L146.0 908.7 L147.5 904.4 L149.0 900.1 L150.5 895.8 L152.0 891.4 L153.5 886.9 L155.0 882.0 L156.5 877.6 L158.0 872.9 L159.5 868.4 L161.0 863.8 L162.5 859.1 L164.0 854.3 L165.5 849.6 L167.0 845.2 L168.5 840.0 L170.0 835.1 L171.5 830.4 L173.0 825.8 L174.5 821.2 L176.0 816.7 L177.5 812.8 L179.0 809.8 L180.5 806.9 L182.0 803.7 L183.5 800.5 L185.0 798.4 L186.5 797.5 L188.0 797.0 L189.5 796.3 L191.0 795.7 L192.5 795.1 L194.0 796.3 L195.5 797.4 L197.0 798.7 L198.5 799.8 L200.0 800.9 L201.5 802.9 L203.0 805.3 L204.5 807.3 L206.0 809.6 L207.5 811.9 L209.0 816.3 L210.5 821.0 L212.0 825.8 L213.5 830.0 L215.0 834.4 L216.5 838.7 L218.0 843.4 L219.5 848.2 L221.0 852.3 L222.5 856.8 L224.0 860.5 L225.5 864.1 L227.0 867.8 L228.5 871.7 L230.0 875.0 L231.5 878.6 L233.0 882.3 L234.5 884.9 L236.0 887.0 L237.5 889.3 L239.0 891.1 L240.5 893.3 L242.0 895.3 L243.5 897.7 L245.0 898.6 L246.5 899.4 L248.0 900.7 L249.5 901.6 L251.0 902.6 L252.5 903.3 L254.0 904.5 L255.5 905.0 L257.0 905.5 L258.5 905.8 L260.0 906.6 L261.5 906.8 L263.0 907.4 L264.5 907.8 L266.0 906.8 L267.5 905.7 L269.0 904.6 L270.5 903.3 L272.0 902.4 L273.5 901.2 L275.0 899.3 L276.5 896.8 L278.0 894.3 L279.5 891.6 L281.0 888.7 L282.5 885.7 L284.0 882.7 L285.5 879.1 L287.0 873.9 L288.5 868.7 L290.0 863.4 L291.5 857.9 L293.0 852.3 L294.5 846.5 L296.0 840.7 L297.5 834.8 L299.0 829.3 L300.5 823.1 L302.0 816.6 L303.5 809.7 L305.0 802.9 L306.5 796.4 L308.0 791.7 L309.5 787.8 L311.0 783.8 L312.5 780.1 L314.0 777.2 L315.5 776.4 L317.0 775.3 L318.5 774.7 L320.0 773.7 L321.5 772.6 L323.0 771.6 L324.5 771.4 L326.0 771.9 L327.5 772.8 L329.0 773.1 L330.5 773.6 L332.0 774.9 L333.5 776.6 L335.0 778.3 L336.5 780.1 L338.0 781.9 L339.5 784.6 L341.0 788.3 L342.5 792.3 L344.0 796.4 L345.5 800.3 L347.0 804.7 L348.5 808.8 L350.0 813.1 L351.5 817.5 L353.0 822.0 L354.5 826.2 L356.0 830.1 L357.5 834.3 L359.0 838.1 L360.5 842.3 L362.0 845.8 L363.5 848.4 L365.0 850.8 L366.5 853.2 L368.0 855.8 L369.5 858.3 L371.0 861.4 L372.5 864.5 L374.0 867.9 L375.5 871.4 L377.0 874.7 L378.5 878.5 L380.0 883.0 L381.5 886.9 L383.0 891.0 L384.5 895.2 L386.0 899.3 L387.5 902.9 L389.0 906.3 L390.5 909.2 L392.0 912.3 L393.5 915.1 L395.0 916.5 L396.5 918.2 L398.0 919.7 L399.5 921.4 L401.0 922.7 L402.5 922.4 L404.0 922.1 L405.5 921.6 L407.0 921.5 L408.5 921.1 L410.0 917.3 L411.5 913.3 L413.0 909.0 L414.5 905.2 L416.0 901.0 L417.5 895.7 L419.0 890.6 L420.5 885.5 L422.0 880.2 L423.5 875.1 L425.0 869.2 L426.5 863.6 L428.0 857.8 L429.5 851.8 L431.0 845.9 L432.5 839.8 L434.0 833.3 L435.5 826.7 L437.0 820.3 L438.5 813.7 L440.0 808.3 L441.5 803.1 L443.0 797.8 L444.5 792.8 L446.0 787.6 L447.5 783.7 L449.0 782.2 L450.5 780.8 L452.0 779.4 L453.5 778.3 L455.0 777.1 L456.5 775.9 L458.0 775.0 L459.5 774.6 L461.0 775.5 L462.5 776.4 L464.0 777.5 L465.5 778.3 L467.0 780.3 L468.5 782.5 L470.0 784.8 L471.5 786.5 L473.0 788.4 L474.5 791.5 L476.0 795.2 L477.5 798.6 L479.0 801.7 L480.5 805.2 L482.0 809.2 L483.5 813.5 L485.0 818.0 L486.5 822.4 L488.0 826.8 L489.5 829.9 L491.0 833.5 L492.5 836.5 L494.0 839.9 L495.5 843.5 L497.0 847.0 L498.5 850.3 L500.0 853.8 L501.5 857.3 L503.0 860.7 L504.5 863.5 L506.0 866.0 L507.5 868.8 L509.0 871.5 L510.5 874.5 L512.0 877.4 L513.5 880.7 L515.0 884.2 L516.5 887.7 L518.0 891.1 L519.5 894.4 L521.0 896.8 L522.5 899.0 L524.0 901.6 L525.5 903.9 L527.0 906.3 L528.5 908.3 L530.0 910.2 L531.5 912.1 L533.0 914.0 L534.5 916.3 L536.0 917.4 L537.5 918.5 L539.0 919.4 L540.5 920.6 L542.0 921.5 L543.5 921.9 L545.0 921.9 L546.5 921.8 L548.0 921.7 L549.5 921.3 L551.0 919.9 L552.5 917.3 L554.0 914.6 L555.5 911.9 L557.0 909.8 L558.5 906.3 L560.0 901.2 L561.5 895.9 L563.0 890.2 L564.5 885.3 L566.0 880.5 L567.5 875.7 L569.0 870.8 L570.5 866.3 L572.0 861.8 L573.5 857.4 L575.0 853.4 L576.5 849.4 L578.0 845.9 L579.5 841.9 L581.0 838.2 L582.5 835.4 L584.0 832.9 L585.5 830.0 L587.0 827.4 L588.5 825.9 L590.0 824.9 L591.5 823.9 L593.0 823.3 L594.5 823.3 L596.0 823.5 L597.5 823.7 L599.0 824.6 L600.5 826.5 L602.0 828.1 L603.5 829.8 L605.0 831.7 L606.5 834.0 L608.0 836.2 L609.5 838.0 L611.0 840.9 L612.5 843.6 L614.0 846.3 L615.5 849.0 L617.0 851.5 L618.5 854.2 L620.0 856.5 L621.5 859.0 L623.0 860.5 L624.5 862.3 L626.0 864.1 L627.5 865.9 L629.0 867.3 L630.5 868.8 L632.0 870.2 L633.5 871.8 L635.0 873.5 L636.5 874.9 L638.0 876.4 L639.5 877.5 L641.0 878.2 L642.5 878.7 L644.0 879.5 L645.5 880.4 L647.0 881.3 L648.5 882.7 L650.0 883.4 L651.5 884.2 L653.0 884.3 L654.5 883.4" stroke="#ff7f0e" stroke-width="0.9" stroke-dasharray="2.8 1.5"/>
<path d="M138.5 920.2 L140.0 921.6 L141.5 923.0 L143.0 921.6 L144.5 919.6 L146.0 917.7 L147.5 915.7 L149.0 913.8 L150.5 911.4 L152.0 907.9 L153.5 903.2 L155.0 898.7 L156.5 894.2 L158.0 889.7 L159.5 885.2 L161.0 880.4 L162.5 876.1 L164.0 871.8 L165.5 867.3 L167.0 862.9 L168.5 858.5 L170.0 854.4 L171.5 850.3 L173.0 845.9 L174.5 841.4 L176.0 836.9 L177.5 832.5 L179.0 827.8 L180.5 823.1 L182.0 818.3 L183.5 814.2 L185.0 811.1 L186.5 807.6 L188.0 804.4 L189.5 801.5 L191.0 798.7 L192.5 797.9 L194.0 796.9 L195.5 796.1 L197.0 795.2 L198.5 794.4 L200.0 795.3 L201.5 796.1 L203.0 796.7 L204.5 797.5 L206.0 798.2 L207.5 799.7 L209.0 801.8 L210.5 803.5 L212.0 805.5 L213.5 807.4 L215.0 811.2 L216.5 815.4 L218.0 819.7 L219.5 823.9 L221.0 828.3 L222.5 832.7 L224.0 837.0 L225.5 841.4 L227.0 845.9 L228.5 850.1 L230.0 854.0 L231.5 857.6 L233.0 861.4 L234.5 865.1 L236.0 868.7 L237.5 872.2 L239.0 875.9 L240.5 878.4 L242.0 880.7 L243.5 882.8 L245.0 884.9 L246.5 887.5 L248.0 889.6 L249.5 891.8 L251.0 893.1 L252.5 894.0 L254.0 895.0 L255.5 895.7 L257.0 896.5 L258.5 897.5 L260.0 898.3 L261.5 898.9 L263.0 899.3 L264.5 899.8 L266.0 900.6 L267.5 901.0 L269.0 901.5 L270.5 902.0 L272.0 901.2 L273.5 900.4 L275.0 899.3 L276.5 898.5 L278.0 897.6 L279.5 896.7 L281.0 895.1 L282.5 892.3 L284.0 890.0 L285.5 887.6 L287.0 885.2 L288.5 883.0 L290.0 880.7 L291.5 877.9 L293.0 873.5 L294.5 868.5 L296.0 863.8 L297.5 859.3 L299.0 854.5 L300.5 849.3 L302.0 844.3 L303.5 839.0 L305.0 833.7 L306.5 828.3 L308.0 822.4 L309.5 816.4 L311.0 810.4 L312.5 804.5 L314.0 800.2 L315.5 796.8 L317.0 793.6 L318.5 790.2 L320.0 787.6 L321.5 787.0 L323.0 786.6 L324.5 786.1 L326.0 785.4 L327.5 784.6 L329.0 784.0 L330.5 784.1 L332.0 784.5 L333.5 784.8 L335.0 785.3 L336.5 785.7 L338.0 786.7 L339.5 788.3 L341.0 790.0 L342.5 791.8 L344.0 793.5 L345.5 795.7 L347.0 799.2 L348.5 802.8 L350.0 806.7 L351.5 810.2 L353.0 814.0 L354.5 817.8 L356.0 821.7 L357.5 825.6 L359.0 829.2 L360.5 833.0 L362.0 836.6 L363.5 839.9 L365.0 843.6 L366.5 847.1 L368.0 850.8 L369.5 853.1 L371.0 854.9 L372.5 856.7 L374.0 858.9 L375.5 860.8 L377.0 863.6 L378.5 866.7 L380.0 870.1 L381.5 873.3 L383.0 876.5 L384.5 880.0 L386.0 884.2 L387.5 888.5 L389.0 892.9 L390.5 897.3 L392.0 901.2 L393.5 904.5 L395.0 907.9 L396.5 911.4 L398.0 914.6 L399.5 917.7 L401.0 919.6 L402.5 921.5 L404.0 923.3 L405.5 925.4 L407.0 927.0 L408.5 926.9 L410.0 926.9 L411.5 926.9 L413.0 926.8 L414.5 926.7 L416.0 923.2 L417.5 919.6 L419.0 915.9 L420.5 912.3 L422.0 908.5 L423.5 903.4 L425.0 898.3 L426.5 892.9 L428.0 887.6 L429.5 882.6 L431.0 877.0 L432.5 871.1 L434.0 865.2 L435.5 859.1 L437.0 853.1 L438.5 846.7 L440.0 839.9 L441.5 833.2 L443.0 826.3 L444.5 819.6 L446.0 813.4 L447.5 807.9 L449.0 802.5 L450.5 796.9 L452.0 791.6 L453.5 787.2 L455.0 785.3 L456.5 783.6 L458.0 781.8 L459.5 780.2 L461.0 779.0 L462.5 777.6 L464.0 776.1 L465.5 775.3 L467.0 775.9 L468.5 776.6 L470.0 777.6 L471.5 778.6 L473.0 780.3 L474.5 782.1 L476.0 783.9 L477.5 785.9 L479.0 787.8 L480.5 790.8 L482.0 794.0 L483.5 797.1 L485.0 800.6 L486.5 803.9 L488.0 808.1 L489.5 812.4 L491.0 816.9 L492.5 821.4 L494.0 825.6 L495.5 829.3 L497.0 832.9 L498.5 836.2 L500.0 839.7 L501.5 843.1 L503.0 846.5 L504.5 850.3 L506.0 853.8 L507.5 857.3 L509.0 861.1 L510.5 864.5 L512.0 867.5 L513.5 870.4 L515.0 872.9 L516.5 875.8 L518.0 878.9 L519.5 882.5 L521.0 885.9 L522.5 889.5 L524.0 893.1 L525.5 896.6 L527.0 899.0 L528.5 901.6 L530.0 904.2 L531.5 906.8 L533.0 909.2 L534.5 910.8 L536.0 912.2 L537.5 913.7 L539.0 915.2 L540.5 916.9 L542.0 917.8 L543.5 918.5 L545.0 919.0 L546.5 919.4 L548.0 919.9 L549.5 919.8 L551.0 919.0 L552.5 918.5 L554.0 917.9 L555.5 917.0 L557.0 915.1 L558.5 911.9 L560.0 908.7 L561.5 905.5 L563.0 902.3 L564.5 898.4 L566.0 892.7 L567.5 887.0 L569.0 881.6 L570.5 876.0 L572.0 871.1 L573.5 865.9 L575.0 861.1 L576.5 856.2 L578.0 852.0 L579.5 847.7 L581.0 843.2 L582.5 839.3 L584.0 836.1 L585.5 832.6 L587.0 829.4 L588.5 826.9 L590.0 824.5 L591.5 822.1 L593.0 820.2 L594.5 819.1 L596.0 818.6 L597.5 818.1 L599.0 818.2 L600.5 819.0 L602.0 819.5 L603.5 819.5 L605.0 820.4 L606.5 822.5 L608.0 824.3 L609.5 826.1 L611.0 828.3 L612.5 830.6 L614.0 832.7 L615.5 835.1 L617.0 838.0 L618.5 841.0 L620.0 843.9 L621.5 846.8 L623.0 849.7 L624.5 852.3 L626.0 854.8 L627.5 857.4 L629.0 859.2 L630.5 860.6 L632.0 862.0 L633.5 863.5 L635.0 864.8 L636.5 866.2 L638.0 867.6 L639.5 868.9 L641.0 870.2 L642.5 871.5 L644.0 872.6 L645.5 873.7 L647.0 874.3 L648.5 875.1 L650.0 875.9 L651.5 876.6 L653.0 876.9 L654.5 877.1" stroke="#ff7f0e" stroke-width="0.9" stroke-dasharray="2.8 1.5"/>
<path d="M138.5 923.7 L140.0 921.0 L141.5 918.3 L143.0 915.7 L144.5 913.0 L146.0 910.3 L147.5 907.1 L149.0 903.0 L150.5 898.6 L152.0 894.2 L153.5 889.3 L155.0 884.9 L156.5 880.0 L158.0 875.7 L159.5 871.3 L161.0 866.7 L162.5 861.9 L164.0 857.3 L165.5 852.5 L167.0 848.0 L168.5 843.1 L170.0 838.1 L171.5 833.2 L173.0 828.1 L174.5 823.2 L176.0 818.3 L177.5 813.1 L179.0 809.8 L180.5 806.6 L182.0 803.0 L183.5 799.7 L185.0 796.3 L186.5 794.7 L188.0 793.6 L189.5 792.6 L191.0 791.6 L192.5 790.6 L194.0 790.8 L195.5 791.7 L197.0 792.4 L198.5 793.2 L200.0 793.7 L201.5 795.0 L203.0 797.1 L204.5 799.1 L206.0 801.2 L207.5 803.3 L209.0 806.1 L210.5 810.6 L212.0 815.2 L213.5 819.8 L215.0 824.5 L216.5 829.3 L218.0 833.9 L219.5 838.5 L221.0 843.3 L222.5 848.0 L224.0 852.6 L225.5 856.7 L227.0 860.7 L228.5 864.6 L230.0 868.7 L231.5 872.6 L233.0 876.5 L234.5 880.3 L236.0 882.7 L237.5 885.0 L239.0 887.7 L240.5 889.9 L242.0 892.5 L243.5 894.6 L245.0 896.3 L246.5 897.1 L248.0 898.2 L249.5 899.1 L251.0 900.1 L252.5 901.1 L254.0 902.2 L255.5 902.8 L257.0 903.0 L258.5 903.4 L260.0 903.7 L261.5 904.1 L263.0 904.3 L264.5 904.5 L266.0 903.8 L267.5 902.7 L269.0 901.5 L270.5 900.1 L272.0 898.8 L273.5 897.7 L275.0 896.5 L276.5 893.7 L278.0 891.1 L279.5 888.2 L281.0 885.3 L282.5 882.2 L284.0 879.4 L285.5 876.7 L287.0 872.2 L288.5 867.1 L290.0 861.9 L291.5 856.7 L293.0 851.4 L294.5 846.0 L296.0 840.4 L297.5 834.7 L299.0 829.0 L300.5 823.2 L302.0 817.3 L303.5 811.1 L305.0 804.9 L306.5 798.7 L308.0 792.8 L309.5 789.1 L311.0 785.4 L312.5 781.9 L314.0 778.3 L315.5 777.2 L317.0 776.7 L318.5 775.8 L320.0 775.1 L321.5 774.3 L323.0 773.6 L324.5 772.9 L326.0 773.5 L327.5 773.9 L329.0 774.7 L330.5 775.2 L332.0 776.0 L333.5 777.6 L335.0 779.4 L336.5 781.4 L338.0 783.0 L339.5 785.0 L341.0 788.5 L342.5 792.5 L344.0 796.6 L345.5 800.8 L347.0 804.6 L348.5 809.0 L350.0 813.3 L351.5 817.5 L353.0 821.7 L354.5 826.1 L356.0 830.4 L357.5 834.1 L359.0 837.7 L360.5 841.5 L362.0 845.4 L363.5 848.8 L365.0 851.2 L366.5 853.6 L368.0 856.1 L369.5 858.4 L371.0 860.7 L372.5 864.0 L374.0 867.2 L375.5 870.3 L377.0 873.6 L378.5 877.0 L380.0 881.1 L381.5 885.4 L383.0 889.6 L384.5 893.9 L386.0 898.0 L387.5 901.3 L389.0 904.5 L390.5 907.6 L392.0 910.5 L393.5 913.9 L395.0 915.8 L396.5 917.3 L398.0 918.8 L399.5 920.2 L401.0 921.6 L402.5 922.0 L404.0 921.5 L405.5 921.3 L407.0 920.9 L408.5 920.4 L410.0 918.2 L411.5 914.2 L413.0 910.4 L414.5 906.4 L416.0 902.5 L417.5 898.1 L419.0 893.0 L420.5 887.8 L422.0 882.2 L423.5 876.9 L425.0 871.4 L426.5 865.5 L428.0 859.6 L429.5 853.7 L431.0 847.7 L432.5 842.1 L434.0 835.7 L435.5 829.1 L437.0 822.9 L438.5 816.6 L440.0 810.5 L441.5 805.5 L443.0 801.0 L444.5 796.2 L446.0 791.1 L447.5 786.2 L449.0 784.2 L450.5 783.0 L452.0 781.7 L453.5 780.7 L455.0 780.0 L456.5 779.3 L458.0 778.3 L459.5 777.5 L461.0 778.4 L462.5 779.6 L464.0 780.8 L465.5 782.1 L467.0 783.8 L468.5 786.1 L470.0 788.3 L471.5 790.6 L473.0 792.9 L474.5 795.6 L476.0 798.9 L477.5 802.2 L479.0 805.5 L480.5 809.2 L482.0 812.9 L483.5 817.2 L485.0 821.7 L486.5 826.2 L488.0 830.4 L489.5 834.5 L491.0 837.9 L492.5 841.2 L494.0 844.5 L495.5 847.7 L497.0 850.9 L498.5 854.3 L500.0 857.7 L501.5 861.1 L503.0 864.5 L504.5 867.8 L506.0 870.6 L507.5 873.7 L509.0 876.7 L510.5 879.8 L512.0 882.8 L513.5 886.1 L515.0 889.7 L516.5 893.1 L518.0 896.4 L519.5 899.6 L521.0 902.5 L522.5 904.8 L524.0 907.3 L525.5 909.6 L527.0 912.1 L528.5 914.3 L530.0 916.1 L531.5 918.1 L533.0 919.9 L534.5 921.8 L536.0 923.1 L537.5 924.0 L539.0 924.6 L540.5 925.3 L542.0 925.9 L543.5 926.7 L545.0 926.3 L546.5 926.0 L548.0 925.5 L549.5 925.1 L551.0 924.9 L552.5 922.0 L554.0 919.0 L555.5 916.1 L557.0 913.1 L558.5 910.0 L560.0 905.1 L561.5 900.0 L563.0 894.7 L564.5 889.5 L566.0 884.5 L567.5 879.6 L569.0 874.8 L570.5 869.9 L572.0 865.6 L573.5 861.2 L575.0 857.0 L576.5 852.7 L578.0 849.3 L579.5 846.0 L581.0 842.5 L582.5 839.4 L584.0 836.8 L585.5 834.3 L587.0 831.9 L588.5 829.9 L590.0 829.1 L591.5 828.4 L593.0 827.5 L594.5 827.6 L596.0 827.7 L597.5 828.2 L599.0 828.4 L600.5 830.1 L602.0 832.1 L603.5 833.9 L605.0 835.7 L606.5 837.6 L608.0 839.5 L609.5 841.7 L611.0 844.0 L612.5 846.6 L614.0 849.5 L615.5 852.4 L617.0 855.1 L618.5 857.9 L620.0 860.6 L621.5 863.5 L623.0 865.7 L624.5 867.5 L626.0 869.5 L627.5 871.5 L629.0 873.2 L630.5 875.1 L632.0 876.9 L633.5 878.8 L635.0 880.6 L636.5 882.5 L638.0 884.4 L639.5 886.3 L641.0 887.8 L642.5 889.2 L644.0 890.5 L645.5 891.8 L647.0 892.9 L648.5 893.8 L650.0 894.6 L651.5 895.8 L653.0 896.8 L654.5 896.5" stroke="#ff7f0e" stroke-width="0.9" stroke-dasharray="2.8 1.5"/>
<path d="M157.5 872.0 L159.0 866.5 L160.5 861.2 L162.0 856.2 L163.5 850.5 L165.0 844.2 L166.5 837.5 L168.0 831.8 L169.5 825.9 L171.0 819.6 L172.5 813.4 L174.0 808.6 L175.5 803.9 L177.0 800.6 L178.5 797.8 L180.0 795.0 L181.5 791.4 L183.0 789.5 L184.5 792.1 L186.0 796.9 L187.5 800.0 L189.0 803.4 L190.5 805.8 L192.0 804.7 L193.5 801.0 L195.0 798.5 L196.5 795.8 L198.0 799.7 L199.5 804.1 L201.0 810.1 L202.5 814.0 L204.0 818.3 L205.5 822.4 L207.0 827.4 L208.5 832.6 L210.0 836.5 L211.5 840.0 L213.0 842.6 L214.5 845.3 L216.0 847.3 L217.5 848.6 L219.0 849.8 L220.5 850.1 L222.0 851.0 L223.5 851.7 L225.0 853.2 L226.5 854.7 L228.0 855.6 L229.5 856.4 L231.0 857.8 L232.5 858.6 L234.0 860.0 L235.5 861.6 L237.0 864.1 L238.5 868.4 L240.0 872.3 L241.5 876.3 L243.0 879.7 L244.5 883.6 L246.0 886.8 L247.5 890.4 L249.0 893.4 L250.5 896.5 L252.0 899.4 L253.5 900.8 L255.0 902.7 L256.5 904.2 L258.0 906.2 L259.5 907.6 L261.0 907.0 L262.5 907.7 L264.0 908.1 L265.5 908.4 L267.0 909.3 L268.5 908.5 L270.0 907.1 L271.5 905.8 L273.0 904.1 L274.5 902.6 L276.0 901.0 L277.5 898.7 L279.0 896.2 L280.5 893.2 L282.0 890.1 L283.5 885.9 L285.0 882.0 L286.5 878.0 L288.0 874.2 L289.5 870.4 L291.0 866.9 L292.5 863.6 L294.0 860.0 L295.5 856.4 L297.0 853.2 L298.5 850.7 L300.0 847.8 L301.5 844.1 L303.0 840.5 L304.5 837.3 L306.0 833.7 L307.5 829.3 L309.0 825.1 L310.5 819.9 L312.0 816.4 L313.5 814.3 L315.0 812.1 L316.5 809.8 L318.0 808.2 L319.5 806.3 L321.0 805.0 L322.5 802.8 L324.0 800.0 L325.5 799.2 L327.0 798.2 L328.5 796.9 L330.0 795.4 L331.5 792.3 L333.0 790.7 L334.5 789.6 L336.0 789.7 L337.5 788.3 L339.0 789.5 L340.5 791.4 L342.0 790.3 L343.5 791.0 L345.0 792.4 L346.5 793.3 L348.0 795.3 L349.5 797.7 L351.0 802.2 L352.5 806.3 L354.0 812.1 L355.5 818.3 L357.0 824.6 L358.5 831.8 L360.0 839.5 L361.5 845.5 L363.0 849.6 L364.5 853.3 L366.0 855.9 L367.5 857.7 L369.0 859.6 L370.5 861.2 L372.0 863.6 L373.5 865.8 L375.0 867.1 L376.5 869.1 L378.0 870.6 L379.5 872.7 L381.0 874.8 L382.5 877.4 L384.0 879.8 L385.5 882.9 L387.0 885.9 L388.5 889.2 L390.0 893.0 L391.5 896.9 L393.0 900.6 L394.5 902.8 L396.0 903.8 L397.5 905.8 L399.0 905.9 L400.5 904.1 L402.0 902.2 L403.5 900.5 L405.0 898.9 L406.5 897.4 L408.0 895.5 L409.5 893.8 L411.0 892.3 L412.5 890.7 L414.0 888.2 L415.5 886.1 L417.0 884.0 L418.5 882.5 L420.0 879.8 L421.5 877.3 L423.0 874.7 L424.5 872.1 L426.0 869.9 L427.5 867.2 L429.0 864.5 L430.5 861.6 L432.0 859.1 L433.5 857.1 L435.0 853.6 L436.5 848.0 L438.0 843.3 L439.5 837.8 L441.0 832.4 L442.5 827.3 L444.0 821.4 L445.5 817.0 L447.0 811.1 L448.5 807.2 L450.0 803.5 L451.5 798.6 L453.0 793.4 L454.5 790.0 L456.0 788.9 L457.5 786.0 L459.0 784.4 L460.5 781.0 L462.0 777.4 L463.5 773.2 L465.0 769.9 L466.5 767.8 L468.0 767.8 L469.5 767.8 L471.0 767.8 L472.5 767.8 L474.0 767.8 L475.5 770.5 L477.0 774.9 L478.5 779.6 L480.0 785.1 L481.5 789.4 L483.0 796.9 L484.5 801.4 L486.0 806.3 L487.5 809.5 L489.0 814.2 L490.5 818.3 L492.0 821.6 L493.5 825.4 L495.0 829.8 L496.5 834.5 L498.0 839.5 L499.5 845.3 L501.0 851.2 L502.5 856.0 L504.0 861.1 L505.5 866.1 L507.0 870.7 L508.5 875.2 L510.0 878.7 L511.5 881.8 L513.0 884.7 L514.5 886.8 L516.0 889.3 L517.5 891.7 L519.0 894.0 L520.5 896.6 L522.0 898.9 L523.5 901.0 L525.0 902.5 L526.5 901.7 L528.0 901.5 L529.5 901.1 L531.0 900.1 L532.5 899.7 L534.0 898.5 L535.5 897.5 L537.0 896.2 L538.5 895.7 L540.0 895.9 L541.5 896.8 L543.0 898.9 L544.5 900.5 L546.0 901.5 L547.5 902.2 L549.0 901.9 L550.5 901.5 L552.0 901.7 L553.5 900.6 L555.0 898.2 L556.5 895.6 L558.0 892.7 L559.5 889.7 L561.0 886.1 L562.5 882.7 L564.0 878.6 L565.5 874.7 L567.0 870.1 L568.5 865.5 L570.0 860.9 L571.5 855.6 L573.0 851.7 L574.5 848.1 L576.0 844.6 L577.5 841.5 L579.0 838.8 L580.5 839.3 L582.0 839.3 L583.5 840.5 L585.0 840.5 L586.5 839.7 L588.0 838.2 L589.5 836.6 L591.0 834.5 L592.5 831.2 L594.0 828.9 L595.5 827.0 L597.0 825.1 L598.5 824.3 L600.0 824.5 L601.5 827.1 L603.0 830.6 L604.5 833.8 L606.0 837.9 L607.5 841.0 L609.0 844.7 L610.5 849.1 L612.0 851.8 L613.5 854.4 L615.0 857.3 L616.5 859.8 L618.0 862.9 L619.5 866.2 L621.0 869.4 L622.5 872.7 L624.0 873.9 L625.5 875.2 L627.0 876.6 L628.5 878.4 L630.0 881.6 L631.5 884.7 L633.0 887.4 L634.5 889.9 L636.0 893.6 L637.5 897.0 L639.0 899.8 L640.5 902.8 L642.0 905.1 L643.5 907.6 L645.0 910.2 L646.5 912.1 L648.0 913.2 L649.5 914.9 L651.0 916.7 L652.5 917.7 L654.0 917.1 L655.5 916.9 L657.0 917.8 L658.5 917.8 L660.0 917.7 L661.5 917.5 L663.0 917.3 L664.5 916.3 L666.0 913.9 L667.5 911.6 L669.0 909.0 L670.5 907.0" stroke="#1f77b4" stroke-width="0.9" stroke-dasharray="2.8 1.5"/>
<path d="M156.0 876.4 L157.5 875.3 L159.0 871.7 L160.5 868.0 L162.0 864.5 L163.5 860.8 L165.0 856.8 L166.5 853.5 L168.0 849.3 L169.5 845.2 L171.0 841.5 L172.5 838.3 L174.0 834.9 L175.5 831.7 L177.0 829.1 L178.5 826.7 L180.0 824.8 L181.5 822.6 L183.0 820.7 L184.5 818.4 L186.0 815.3 L187.5 816.6 L189.0 818.4 L190.5 820.2 L192.0 820.7 L193.5 821.1 L195.0 819.4 L196.5 815.5 L198.0 810.7 L199.5 806.9 L201.0 808.9 L202.5 811.3 L204.0 814.3 L205.5 816.7 L207.0 818.6 L208.5 821.2 L210.0 824.9 L211.5 828.6 L213.0 832.3 L214.5 836.8 L216.0 840.9 L217.5 844.7 L219.0 848.1 L220.5 850.9 L222.0 853.5 L223.5 855.3 L225.0 856.8 L226.5 857.6 L228.0 858.5 L229.5 859.5 L231.0 860.1 L232.5 860.3 L234.0 860.7 L235.5 861.2 L237.0 861.5 L238.5 861.9 L240.0 863.2 L241.5 865.7 L243.0 868.2 L244.5 870.7 L246.0 872.7 L247.5 875.1 L249.0 878.0 L250.5 881.1 L252.0 884.8 L253.5 888.4 L255.0 891.9 L256.5 894.6 L258.0 897.4 L259.5 900.2 L261.0 903.0 L262.5 905.6 L264.0 905.9 L265.5 906.2 L267.0 906.6 L268.5 907.2 L270.0 908.4 L271.5 908.1 L273.0 907.6 L274.5 907.1 L276.0 906.2 L277.5 904.8 L279.0 902.7 L280.5 900.4 L282.0 897.4 L283.5 893.5 L285.0 890.1 L286.5 885.8 L288.0 881.5 L289.5 876.8 L291.0 872.5 L292.5 868.2 L294.0 863.7 L295.5 859.1 L297.0 854.5 L298.5 850.2 L300.0 844.6 L301.5 838.6 L303.0 831.9 L304.5 824.7 L306.0 817.9 L307.5 811.1 L309.0 804.9 L310.5 798.7 L312.0 793.1 L313.5 787.6 L315.0 785.7 L316.5 785.3 L318.0 785.4 L319.5 785.8 L321.0 785.8 L322.5 787.3 L324.0 788.0 L325.5 788.2 L327.0 788.3 L328.5 789.0 L330.0 789.5 L331.5 790.0 L333.0 788.6 L334.5 786.6 L336.0 784.6 L337.5 784.6 L339.0 783.4 L340.5 781.6 L342.0 782.6 L343.5 785.2 L345.0 787.5 L346.5 790.7 L348.0 794.6 L349.5 799.5 L351.0 805.0 L352.5 810.6 L354.0 817.0 L355.5 822.7 L357.0 827.9 L358.5 833.0 L360.0 838.2 L361.5 842.8 L363.0 846.9 L364.5 850.6 L366.0 851.8 L367.5 852.8 L369.0 852.7 L370.5 852.8 L372.0 852.8 L373.5 853.2 L375.0 856.1 L376.5 858.7 L378.0 861.8 L379.5 864.8 L381.0 868.1 L382.5 872.4 L384.0 876.4 L385.5 880.5 L387.0 884.0 L388.5 887.3 L390.0 889.6 L391.5 892.1 L393.0 894.5 L394.5 897.1 L396.0 898.8 L397.5 899.9 L399.0 900.9 L400.5 901.5 L402.0 901.5 L403.5 899.5 L405.0 897.7 L406.5 895.8 L408.0 894.5 L409.5 893.0 L411.0 891.9 L412.5 890.9 L414.0 890.5 L415.5 889.4 L417.0 888.4 L418.5 887.0 L420.0 885.3 L421.5 884.3 L423.0 882.7 L424.5 880.4 L426.0 877.8 L427.5 875.3 L429.0 872.2 L430.5 868.5 L432.0 864.8 L433.5 861.2 L435.0 857.1 L436.5 852.6 L438.0 846.9 L439.5 837.9 L441.0 829.4 L442.5 820.7 L444.0 812.3 L445.5 805.0 L447.0 797.9 L448.5 790.5 L450.0 785.0 L451.5 781.4 L453.0 779.1 L454.5 777.8 L456.0 776.7 L457.5 774.4 L459.0 774.9 L460.5 776.2 L462.0 776.9 L463.5 777.2 L465.0 777.4 L466.5 779.7 L468.0 781.9 L469.5 783.1 L471.0 785.2 L472.5 787.0 L474.0 791.2 L475.5 794.4 L477.0 797.2 L478.5 799.4 L480.0 800.3 L481.5 800.7 L483.0 801.8 L484.5 803.6 L486.0 807.9 L487.5 812.4 L489.0 816.9 L490.5 821.5 L492.0 826.9 L493.5 832.0 L495.0 836.4 L496.5 840.7 L498.0 844.5 L499.5 848.3 L501.0 851.8 L502.5 855.8 L504.0 859.5 L505.5 863.1 L507.0 866.5 L508.5 869.7 L510.0 873.5 L511.5 876.7 L513.0 879.8 L514.5 882.3 L516.0 884.6 L517.5 886.9 L519.0 889.5 L520.5 892.7 L522.0 896.1 L523.5 900.2 L525.0 903.9 L526.5 907.8 L528.0 911.4 L529.5 912.3 L531.0 912.9 L532.5 913.4 L534.0 913.6 L535.5 913.1 L537.0 912.1 L538.5 910.6 L540.0 909.3 L541.5 908.1 L543.0 908.3 L544.5 908.9 L546.0 910.0 L547.5 911.4 L549.0 911.4 L550.5 910.5 L552.0 909.0 L553.5 907.8 L555.0 905.6 L556.5 903.2 L558.0 899.0 L559.5 895.5 L561.0 891.8 L562.5 888.1 L564.0 884.8 L565.5 881.1 L567.0 877.1 L568.5 873.3 L570.0 869.3 L571.5 864.6 L573.0 859.7 L574.5 854.3 L576.0 849.2 L577.5 844.9 L579.0 840.3 L580.5 836.0 L582.0 832.8 L583.5 831.3 L585.0 829.7 L586.5 828.3 L588.0 825.9 L589.5 822.7 L591.0 819.5 L592.5 816.4 L594.0 813.5 L595.5 811.1 L597.0 809.4 L598.5 807.7 L600.0 807.1 L601.5 805.6 L603.0 804.7 L604.5 807.2 L606.0 810.6 L607.5 813.1 L609.0 815.5 L610.5 819.2 L612.0 823.3 L613.5 827.1 L615.0 831.0 L616.5 835.1 L618.0 839.9 L619.5 845.4 L621.0 850.7 L622.5 856.0 L624.0 861.4 L625.5 866.1 L627.0 868.6 L628.5 870.7 L630.0 872.7 L631.5 874.0 L633.0 875.8 L634.5 877.6 L636.0 878.8 L637.5 879.9 L639.0 882.7 L640.5 885.3 L642.0 888.2 L643.5 890.9 L645.0 894.5 L646.5 898.1 L648.0 901.8 L649.5 905.1 L651.0 907.5 L652.5 910.5 L654.0 913.1 L655.5 915.9 L657.0 916.4 L658.5 917.0 L660.0 917.9 L661.5 918.0 L663.0 917.7 L664.5 917.3 L666.0 916.6 L667.5 915.6 L669.0 913.0 L670.5 909.7" stroke="#1f77b4" stroke-width="0.9" stroke-dasharray="2.8 1.5"/>
<path d="M162.0 856.4 L163.5 852.9 L165.0 849.1 L166.5 846.0 L168.0 841.9 L169.5 837.5 L171.0 832.8 L172.5 827.1 L174.0 821.4 L175.5 816.1 L177.0 809.1 L178.5 803.8 L180.0 798.1 L181.5 792.8 L183.0 794.4 L184.5 796.4 L186.0 799.7 L187.5 802.0 L189.0 805.2 L190.5 804.9 L192.0 804.2 L193.5 804.2 L195.0 805.6 L196.5 811.0 L198.0 816.1 L199.5 821.9 L201.0 824.7 L202.5 827.3 L204.0 829.3 L205.5 831.8 L207.0 833.4 L208.5 835.3 L210.0 836.8 L211.5 837.8 L213.0 839.0 L214.5 840.0 L216.0 841.0 L217.5 842.4 L219.0 843.0 L220.5 843.9 L222.0 844.5 L223.5 845.2 L225.0 846.0 L226.5 846.4 L228.0 846.5 L229.5 846.6 L231.0 847.0 L232.5 847.7 L234.0 848.1 L235.5 851.2 L237.0 855.3 L238.5 859.3 L240.0 864.1 L241.5 868.4 L243.0 873.3 L244.5 878.3 L246.0 882.9 L247.5 887.5 L249.0 891.8 L250.5 894.8 L252.0 896.9 L253.5 898.8 L255.0 900.5 L256.5 902.5 L258.0 903.9 L259.5 903.7 L261.0 903.6 L262.5 903.8 L264.0 904.5 L265.5 905.1 L267.0 904.0 L268.5 903.4 L270.0 903.0 L271.5 902.6 L273.0 902.4 L274.5 901.2 L276.0 900.9 L277.5 899.8 L279.0 899.0 L280.5 897.9 L282.0 894.8 L283.5 891.4 L285.0 887.6 L286.5 883.6 L288.0 878.8 L289.5 873.5 L291.0 868.5 L292.5 863.9 L294.0 859.3 L295.5 855.2 L297.0 852.3 L298.5 849.1 L300.0 846.5 L301.5 844.3 L303.0 842.4 L304.5 840.6 L306.0 838.8 L307.5 836.4 L309.0 833.5 L310.5 831.7 L312.0 829.6 L313.5 828.0 L315.0 825.7 L316.5 824.0 L318.0 822.9 L319.5 821.1 L321.0 820.2 L322.5 819.0 L324.0 819.3 L325.5 819.4 L327.0 819.9 L328.5 818.4 L330.0 816.3 L331.5 814.5 L333.0 812.4 L334.5 810.7 L336.0 809.0 L337.5 809.4 L339.0 809.6 L340.5 811.5 L342.0 813.5 L343.5 816.6 L345.0 820.4 L346.5 824.0 L348.0 828.3 L349.5 831.7 L351.0 834.5 L352.5 838.2 L354.0 841.4 L355.5 843.9 L357.0 847.4 L358.5 850.6 L360.0 852.9 L361.5 854.2 L363.0 856.0 L364.5 857.6 L366.0 858.3 L367.5 859.7 L369.0 861.8 L370.5 865.7 L372.0 869.2 L373.5 873.0 L375.0 876.9 L376.5 880.6 L378.0 884.2 L379.5 887.5 L381.0 890.8 L382.5 893.7 L384.0 896.6 L385.5 898.9 L387.0 901.6 L388.5 903.9 L390.0 906.2 L391.5 908.5 L393.0 910.0 L394.5 911.5 L396.0 912.9 L397.5 912.9 L399.0 911.1 L400.5 910.1 L402.0 909.1 L403.5 907.8 L405.0 906.8 L406.5 905.4 L408.0 904.4 L409.5 902.4 L411.0 899.7 L412.5 897.1 L414.0 894.2 L415.5 891.0 L417.0 887.9 L418.5 884.0 L420.0 880.2 L421.5 876.3 L423.0 873.2 L424.5 869.9 L426.0 865.8 L427.5 861.2 L429.0 857.3 L430.5 852.8 L432.0 848.2 L433.5 841.4 L435.0 833.3 L436.5 824.7 L438.0 816.1 L439.5 809.0 L441.0 802.8 L442.5 797.3 L444.0 792.2 L445.5 787.8 L447.0 786.6 L448.5 784.5 L450.0 783.2 L451.5 781.5 L453.0 780.1 L454.5 781.1 L456.0 782.4 L457.5 783.7 L459.0 784.5 L460.5 783.5 L462.0 785.3 L463.5 787.1 L465.0 787.3 L466.5 787.1 L468.0 785.4 L469.5 785.5 L471.0 787.1 L472.5 787.7 L474.0 788.8 L475.5 789.4 L477.0 790.9 L478.5 792.3 L480.0 795.1 L481.5 799.3 L483.0 803.7 L484.5 808.4 L486.0 812.7 L487.5 817.0 L489.0 822.4 L490.5 826.9 L492.0 832.6 L493.5 838.5 L495.0 843.5 L496.5 848.6 L498.0 853.9 L499.5 858.6 L501.0 862.8 L502.5 867.6 L504.0 872.1 L505.5 875.9 L507.0 880.0 L508.5 883.5 L510.0 886.5 L511.5 889.4 L513.0 892.6 L514.5 895.6 L516.0 898.8 L517.5 902.4 L519.0 906.2 L520.5 909.6 L522.0 912.8 L523.5 914.7 L525.0 914.9 L526.5 914.5 L528.0 913.9 L529.5 912.9 L531.0 911.8 L532.5 910.5 L534.0 908.9 L535.5 907.4 L537.0 906.6 L538.5 907.4 L540.0 908.6 L541.5 909.7 L543.0 911.6 L544.5 911.9 L546.0 911.3 L547.5 910.8 L549.0 910.1 L550.5 909.2 L552.0 906.1 L553.5 902.5 L555.0 898.5 L556.5 894.4 L558.0 890.2 L559.5 886.1 L561.0 882.3 L562.5 878.0 L564.0 874.3 L565.5 870.0 L567.0 865.3 L568.5 861.1 L570.0 857.1 L571.5 853.9 L573.0 850.5 L574.5 846.5 L576.0 841.6 L577.5 839.5 L579.0 837.2 L580.5 835.5 L582.0 834.3 L583.5 832.5 L585.0 829.8 L586.5 827.8 L588.0 825.6 L589.5 823.4 L591.0 821.9 L592.5 818.6 L594.0 814.7 L595.5 810.7 L597.0 805.4 L598.5 801.4 L600.0 802.2 L601.5 803.9 L603.0 805.2 L604.5 808.5 L606.0 813.7 L607.5 820.0 L609.0 825.6 L610.5 831.0 L612.0 835.9 L613.5 840.6 L615.0 843.9 L616.5 847.4 L618.0 851.3 L619.5 855.5 L621.0 858.3 L622.5 860.3 L624.0 862.3 L625.5 864.2 L627.0 867.0 L628.5 871.1 L630.0 874.7 L631.5 878.0 L633.0 881.5 L634.5 886.2 L636.0 890.1 L637.5 894.2 L639.0 898.7 L640.5 903.4 L642.0 907.8 L643.5 912.1 L645.0 916.3 L646.5 919.5 L648.0 922.2 L649.5 925.7 L651.0 928.0 L652.5 928.5 L654.0 929.0 L655.5 929.5 L657.0 929.5 L658.5 929.4 L660.0 928.9 L661.5 928.8 L663.0 927.5 L664.5 925.1 L666.0 922.1 L667.5 918.8 L669.0 917.0 L670.5 916.5" stroke="#1f77b4" stroke-width="0.9" stroke-dasharray="2.8 1.5"/>
<path d="M154.5 839.7 L156.0 837.3 L157.5 835.1 L159.0 832.5 L160.5 830.5 L162.0 828.5 L163.5 826.1 L165.0 823.3 L166.5 819.6 L168.0 815.7 L169.5 811.3 L171.0 809.1 L172.5 811.6 L174.0 813.4 L175.5 815.7 L177.0 816.7 L178.5 817.0 L180.0 815.7 L181.5 813.2 L183.0 810.4 L184.5 811.2 L186.0 813.5 L187.5 817.0 L189.0 819.7 L190.5 821.7 L192.0 824.4 L193.5 827.7 L195.0 831.2 L196.5 835.2 L198.0 839.2 L199.5 842.7 L201.0 845.7 L202.5 848.4 L204.0 850.3 L205.5 851.8 L207.0 853.1 L208.5 853.6 L210.0 854.5 L211.5 855.4 L213.0 856.7 L214.5 858.2 L216.0 859.6 L217.5 860.9 L219.0 862.5 L220.5 864.1 L222.0 865.4 L223.5 867.7 L225.0 870.7 L226.5 874.5 L228.0 877.4 L229.5 880.4 L231.0 883.4 L232.5 886.7 L234.0 890.1 L235.5 893.3 L237.0 896.6 L238.5 899.2 L240.0 900.8 L241.5 902.3 L243.0 903.8 L244.5 905.6 L246.0 907.5 L247.5 907.9 L249.0 908.3 L250.5 909.3 L252.0 910.4 L253.5 912.3 L255.0 913.0 L256.5 912.9 L258.0 912.7 L259.5 912.2 L261.0 911.1 L262.5 909.8 L264.0 907.9 L265.5 905.8 L267.0 903.8 L268.5 901.6 L270.0 898.9 L271.5 895.4 L273.0 891.9 L274.5 888.7 L276.0 885.0 L277.5 881.2 L279.0 877.2 L280.5 873.0 L282.0 868.8 L283.5 865.0 L285.0 861.7 L286.5 858.1 L288.0 854.5 L289.5 850.8 L291.0 846.9 L292.5 843.3 L294.0 839.7 L295.5 835.9 L297.0 832.6 L298.5 829.6 L300.0 828.8 L301.5 827.9 L303.0 827.6 L304.5 826.8 L306.0 825.9 L307.5 825.3 L309.0 825.3 L310.5 825.4 L312.0 824.9 L313.5 823.9 L315.0 823.1 L316.5 821.7 L318.0 819.4 L319.5 816.5 L321.0 812.5 L322.5 809.1 L324.0 804.7 L325.5 800.0 L327.0 798.7 L328.5 797.4 L330.0 797.6 L331.5 800.1 L333.0 803.8 L334.5 808.3 L336.0 813.4 L337.5 819.7 L339.0 825.4 L340.5 830.3 L342.0 835.2 L343.5 838.9 L345.0 842.5 L346.5 846.0 L348.0 848.7 L349.5 849.9 L351.0 850.5 L352.5 851.6 L354.0 852.1 L355.5 852.5 L357.0 853.3 L358.5 856.2 L360.0 859.8 L361.5 862.8 L363.0 866.3 L364.5 869.6 L366.0 873.7 L367.5 878.1 L369.0 882.0 L370.5 885.9 L372.0 890.0 L373.5 893.8 L375.0 897.5 L376.5 901.0 L378.0 903.4 L379.5 906.4 L381.0 908.3 L382.5 909.3 L384.0 910.4 L385.5 911.0 L387.0 909.0 L388.5 906.3 L390.0 903.7 L391.5 901.4 L393.0 899.6 L394.5 898.3 L396.0 897.1 L397.5 896.2 L399.0 895.1 L400.5 893.7 L402.0 892.4 L403.5 891.5 L405.0 890.3 L406.5 889.0 L408.0 886.6 L409.5 884.0 L411.0 881.4 L412.5 878.9 L414.0 876.1 L415.5 872.7 L417.0 869.5 L418.5 866.1 L420.0 862.4 L421.5 859.9 L423.0 854.6 L424.5 849.0 L426.0 842.9 L427.5 836.6 L429.0 830.3 L430.5 823.2 L432.0 817.1 L433.5 810.4 L435.0 804.8 L436.5 800.0 L438.0 794.7 L439.5 789.5 L441.0 783.9 L442.5 779.5 L444.0 777.4 L445.5 775.2 L447.0 772.9 L448.5 771.9 L450.0 771.1 L451.5 773.0 L453.0 775.5 L454.5 778.1 L456.0 780.5 L457.5 783.8 L459.0 788.0 L460.5 792.1 L462.0 794.3 L463.5 797.2 L465.0 798.3 L466.5 800.0 L468.0 801.7 L469.5 805.5 L471.0 810.0 L472.5 814.1 L474.0 819.2 L475.5 823.5 L477.0 828.2 L478.5 832.3 L480.0 835.0 L481.5 837.8 L483.0 840.5 L484.5 842.8 L486.0 844.2 L487.5 846.4 L489.0 848.6 L490.5 849.7 L492.0 851.0 L493.5 852.8 L495.0 855.0 L496.5 857.7 L498.0 859.9 L499.5 862.7 L501.0 865.8 L502.5 869.2 L504.0 873.1 L505.5 877.8 L507.0 882.5 L508.5 887.2 L510.0 891.6 L511.5 896.6 L513.0 898.4 L514.5 899.7 L516.0 901.0 L517.5 901.3 L519.0 901.5 L520.5 901.7 L522.0 901.2 L523.5 900.6 L525.0 900.2 L526.5 900.7 L528.0 902.0 L529.5 903.4 L531.0 904.7 L532.5 905.7 L534.0 905.3 L535.5 904.7 L537.0 904.2 L538.5 903.3 L540.0 902.4 L541.5 900.1 L543.0 897.3 L544.5 894.3 L546.0 891.2 L547.5 888.3 L549.0 884.8 L550.5 880.9 L552.0 876.9 L553.5 873.5 L555.0 869.2 L556.5 864.8 L558.0 861.4 L559.5 857.7 L561.0 854.9 L562.5 852.0 L564.0 849.4 L565.5 846.6 L567.0 846.0 L568.5 846.0 L570.0 845.7 L571.5 845.1 L573.0 844.5 L574.5 843.8 L576.0 843.4 L577.5 842.6 L579.0 842.0 L580.5 841.5 L582.0 840.8 L583.5 840.3 L585.0 838.5 L586.5 836.9 L588.0 836.1 L589.5 836.4 L591.0 836.9 L592.5 837.6 L594.0 839.1 L595.5 841.5 L597.0 843.6 L598.5 845.9 L600.0 848.6 L601.5 851.9 L603.0 854.8 L604.5 858.1 L606.0 861.3 L607.5 864.7 L609.0 868.9 L610.5 871.1 L612.0 872.5 L613.5 874.1 L615.0 875.9 L616.5 878.3 L618.0 880.9 L619.5 883.4 L621.0 886.0 L622.5 889.8 L624.0 893.8 L625.5 898.1 L627.0 902.1 L628.5 907.1 L630.0 911.3 L631.5 915.6 L633.0 920.2 L634.5 923.4 L636.0 926.3 L637.5 929.0 L639.0 931.8 L640.5 932.0 L642.0 931.6 L643.5 931.3 L645.0 930.3 L646.5 929.0 L648.0 927.6 L649.5 926.0 L651.0 924.7 L652.5 921.4 L654.0 917.8 L655.5 914.9 L657.0 912.1 L658.5 911.6 L660.0 911.6 L661.5 911.7 L663.0 911.7 L664.5 912.2 L666.0 912.0 L667.5 912.2 L669.0 912.0 L670.5 911.1" stroke="#1f77b4" stroke-width="0.9" stroke-dasharray="2.8 1.5"/>
<path d="M153.0 881.2 L154.5 881.0 L156.0 880.4 L157.5 876.1 L159.0 871.6 L160.5 867.3 L162.0 862.4 L163.5 857.7 L165.0 853.5 L166.5 848.4 L168.0 844.0 L169.5 839.4 L171.0 834.7 L172.5 830.2 L174.0 825.3 L175.5 820.9 L177.0 817.0 L178.5 814.0 L180.0 810.5 L181.5 807.8 L183.0 804.8 L184.5 802.7 L186.0 802.8 L187.5 807.0 L189.0 811.1 L190.5 816.0 L192.0 819.9 L193.5 823.4 L195.0 823.3 L196.5 824.7 L198.0 825.1 L199.5 829.8 L201.0 834.0 L202.5 838.2 L204.0 840.9 L205.5 842.2 L207.0 843.3 L208.5 844.8 L210.0 845.4 L211.5 846.7 L213.0 848.2 L214.5 849.1 L216.0 849.6 L217.5 850.5 L219.0 851.2 L220.5 851.3 L222.0 851.6 L223.5 851.8 L225.0 851.7 L226.5 851.9 L228.0 852.5 L229.5 853.3 L231.0 853.5 L232.5 853.6 L234.0 854.5 L235.5 855.5 L237.0 855.9 L238.5 857.7 L240.0 861.8 L241.5 866.0 L243.0 870.2 L244.5 874.3 L246.0 879.6 L247.5 884.9 L249.0 890.3 L250.5 895.5 L252.0 900.0 L253.5 904.3 L255.0 906.4 L256.5 908.1 L258.0 909.3 L259.5 910.0 L261.0 911.0 L262.5 910.1 L264.0 909.1 L265.5 908.6 L267.0 908.7 L268.5 909.0 L270.0 908.1 L271.5 907.1 L273.0 906.1 L274.5 904.9 L276.0 903.4 L277.5 902.0 L279.0 899.8 L280.5 897.8 L282.0 895.2 L283.5 893.1 L285.0 890.0 L286.5 885.9 L288.0 882.6 L289.5 879.1 L291.0 875.4 L292.5 871.7 L294.0 868.3 L295.5 865.3 L297.0 862.2 L298.5 859.5 L300.0 857.3 L301.5 854.6 L303.0 851.7 L304.5 848.3 L306.0 845.6 L307.5 843.3 L309.0 840.2 L310.5 837.3 L312.0 835.1 L313.5 833.8 L315.0 834.8 L316.5 835.7 L318.0 836.8 L319.5 837.2 L321.0 838.1 L322.5 838.1 L324.0 837.6 L325.5 836.9 L327.0 835.8 L328.5 834.1 L330.0 833.4 L331.5 830.3 L333.0 825.4 L334.5 820.4 L336.0 815.6 L337.5 811.2 L339.0 806.6 L340.5 803.5 L342.0 802.0 L343.5 801.7 L345.0 801.1 L346.5 803.0 L348.0 806.5 L349.5 809.5 L351.0 813.5 L352.5 817.2 L354.0 821.2 L355.5 824.9 L357.0 829.3 L358.5 834.0 L360.0 839.3 L361.5 844.4 L363.0 848.9 L364.5 851.6 L366.0 854.0 L367.5 855.7 L369.0 856.6 L370.5 857.8 L372.0 858.4 L373.5 860.4 L375.0 862.9 L376.5 865.6 L378.0 868.9 L379.5 871.9 L381.0 875.6 L382.5 878.9 L384.0 882.6 L385.5 886.1 L387.0 889.6 L388.5 892.7 L390.0 895.7 L391.5 898.7 L393.0 901.8 L394.5 905.0 L396.0 907.6 L397.5 909.2 L399.0 911.2 L400.5 912.5 L402.0 911.8 L403.5 910.5 L405.0 909.7 L406.5 909.0 L408.0 907.9 L409.5 906.8 L411.0 905.7 L412.5 904.5 L414.0 902.4 L415.5 900.1 L417.0 897.2 L418.5 894.2 L420.0 891.3 L421.5 887.8 L423.0 883.3 L424.5 878.8 L426.0 874.2 L427.5 869.6 L429.0 865.6 L430.5 860.5 L432.0 855.9 L433.5 851.8 L435.0 847.4 L436.5 842.5 L438.0 834.9 L439.5 827.7 L441.0 820.5 L442.5 813.9 L444.0 807.9 L445.5 801.5 L447.0 795.1 L448.5 787.6 L450.0 780.9 L451.5 775.6 L453.0 771.1 L454.5 771.1 L456.0 771.1 L457.5 771.1 L459.0 771.1 L460.5 771.1 L462.0 771.1 L463.5 771.1 L465.0 771.1 L466.5 771.1 L468.0 771.1 L469.5 771.1 L471.0 771.1 L472.5 771.1 L474.0 771.1 L475.5 773.3 L477.0 774.1 L478.5 774.6 L480.0 775.0 L481.5 775.2 L483.0 777.2 L484.5 780.4 L486.0 785.5 L487.5 792.5 L489.0 798.4 L490.5 805.7 L492.0 812.7 L493.5 821.0 L495.0 828.5 L496.5 835.8 L498.0 841.7 L499.5 847.1 L501.0 851.7 L502.5 855.6 L504.0 858.4 L505.5 861.2 L507.0 863.7 L508.5 866.3 L510.0 868.9 L511.5 870.7 L513.0 872.3 L514.5 874.6 L516.0 876.7 L517.5 879.4 L519.0 881.8 L520.5 884.7 L522.0 887.9 L523.5 891.2 L525.0 894.1 L526.5 897.5 L528.0 898.8 L529.5 899.6 L531.0 900.7 L532.5 901.9 L534.0 903.0 L535.5 903.3 L537.0 903.5 L538.5 903.0 L540.0 902.4 L541.5 902.3 L543.0 902.7 L544.5 903.6 L546.0 904.6 L547.5 905.4 L549.0 905.0 L550.5 904.6 L552.0 904.9 L553.5 905.0 L555.0 905.8 L556.5 903.8 L558.0 901.9 L559.5 899.6 L561.0 896.8 L562.5 894.0 L564.0 889.9 L565.5 885.8 L567.0 881.8 L568.5 878.1 L570.0 873.9 L571.5 869.3 L573.0 866.4 L574.5 863.4 L576.0 861.0 L577.5 858.3 L579.0 855.0 L580.5 852.6 L582.0 851.4 L583.5 851.2 L585.0 851.0 L586.5 850.2 L588.0 848.0 L589.5 845.9 L591.0 843.6 L592.5 841.1 L594.0 837.8 L595.5 834.0 L597.0 830.3 L598.5 828.3 L600.0 825.7 L601.5 823.4 L603.0 823.7 L604.5 826.0 L606.0 827.6 L607.5 831.3 L609.0 835.2 L610.5 838.7 L612.0 842.7 L613.5 845.7 L615.0 848.9 L616.5 851.5 L618.0 854.3 L619.5 857.0 L621.0 859.8 L622.5 863.0 L624.0 866.5 L625.5 867.8 L627.0 869.0 L628.5 870.3 L630.0 871.8 L631.5 874.2 L633.0 876.5 L634.5 879.0 L636.0 881.4 L637.5 885.0 L639.0 888.8 L640.5 892.0 L642.0 895.3 L643.5 898.9 L645.0 902.5 L646.5 906.1 L648.0 909.7 L649.5 912.0 L651.0 914.2 L652.5 916.3 L654.0 918.4 L655.5 918.2 L657.0 918.1 L658.5 918.4 L660.0 918.3 L661.5 918.2 L663.0 918.3 L664.5 918.7 L666.0 919.4 L667.5 918.4 L669.0 916.9 L670.5 915.3" stroke="#1f77b4" stroke-width="0.9" stroke-dasharray="2.8 1.5"/>
<path d="M156.0 869.3 L157.5 864.9 L159.0 861.5 L160.5 857.9 L162.0 854.1 L163.5 849.7 L165.0 845.9 L166.5 841.8 L168.0 836.8 L169.5 831.2 L171.0 826.0 L172.5 818.6 L174.0 811.1 L175.5 802.7 L177.0 793.9 L178.5 785.4 L180.0 776.6 L181.5 776.2 L183.0 778.6 L184.5 781.3 L186.0 786.2 L187.5 790.4 L189.0 791.2 L190.5 791.9 L192.0 793.1 L193.5 796.1 L195.0 803.6 L196.5 810.1 L198.0 816.0 L199.5 817.9 L201.0 819.8 L202.5 822.3 L204.0 825.0 L205.5 827.4 L207.0 830.2 L208.5 832.4 L210.0 835.3 L211.5 837.6 L213.0 840.6 L214.5 843.0 L216.0 845.5 L217.5 846.4 L219.0 847.0 L220.5 848.0 L222.0 849.5 L223.5 850.5 L225.0 850.5 L226.5 851.0 L228.0 851.3 L229.5 851.6 L231.0 852.4 L232.5 852.8 L234.0 855.7 L235.5 859.7 L237.0 862.5 L238.5 865.3 L240.0 868.5 L241.5 871.9 L243.0 875.8 L244.5 879.6 L246.0 883.6 L247.5 888.1 L249.0 891.9 L250.5 895.2 L252.0 898.6 L253.5 902.0 L255.0 906.0 L256.5 909.1 L258.0 910.0 L259.5 911.5 L261.0 912.1 L262.5 913.3 L264.0 913.8 L265.5 912.4 L267.0 910.7 L268.5 908.4 L270.0 906.3 L271.5 903.7 L273.0 901.0 L274.5 898.2 L276.0 895.3 L277.5 892.9 L279.0 891.3 L280.5 887.3 L282.0 883.9 L283.5 880.6 L285.0 876.9 L286.5 873.1 L288.0 869.0 L289.5 865.0 L291.0 860.9 L292.5 856.4 L294.0 851.1 L295.5 846.0 L297.0 841.4 L298.5 837.3 L300.0 834.0 L301.5 831.4 L303.0 829.2 L304.5 827.4 L306.0 825.7 L307.5 824.8 L309.0 825.3 L310.5 826.1 L312.0 826.6 L313.5 826.4 L315.0 824.6 L316.5 823.1 L318.0 819.8 L319.5 815.6 L321.0 812.6 L322.5 809.8 L324.0 806.5 L325.5 802.2 L327.0 797.9 L328.5 793.2 L330.0 789.6 L331.5 788.9 L333.0 787.4 L334.5 786.6 L336.0 792.1 L337.5 796.8 L339.0 800.6 L340.5 807.0 L342.0 813.0 L343.5 819.0 L345.0 825.0 L346.5 830.1 L348.0 834.7 L349.5 838.0 L351.0 841.2 L352.5 844.9 L354.0 848.3 L355.5 852.1 L357.0 856.4 L358.5 860.0 L360.0 862.0 L361.5 864.2 L363.0 865.5 L364.5 866.4 L366.0 867.3 L367.5 868.9 L369.0 871.9 L370.5 874.5 L372.0 877.4 L373.5 880.6 L375.0 883.8 L376.5 887.1 L378.0 891.3 L379.5 895.6 L381.0 899.6 L382.5 903.3 L384.0 906.7 L385.5 910.2 L387.0 913.7 L388.5 916.8 L390.0 919.6 L391.5 920.6 L393.0 921.9 L394.5 923.3 L396.0 922.4 L397.5 919.8 L399.0 917.4 L400.5 915.3 L402.0 913.2 L403.5 910.6 L405.0 908.1 L406.5 905.8 L408.0 903.3 L409.5 899.9 L411.0 896.9 L412.5 893.8 L414.0 891.2 L415.5 888.5 L417.0 884.7 L418.5 881.1 L420.0 877.6 L421.5 874.0 L423.0 870.7 L424.5 866.9 L426.0 863.5 L427.5 859.4 L429.0 855.6 L430.5 851.2 L432.0 844.2 L433.5 836.1 L435.0 827.8 L436.5 818.7 L438.0 809.8 L439.5 800.9 L441.0 792.5 L442.5 784.4 L444.0 775.1 L445.5 768.1 L447.0 768.1 L448.5 768.1 L450.0 768.1 L451.5 768.1 L453.0 768.1 L454.5 768.1 L456.0 768.1 L457.5 768.1 L459.0 768.1 L460.5 768.1 L462.0 768.1 L463.5 768.1 L465.0 768.1 L466.5 768.1 L468.0 768.1 L469.5 768.1 L471.0 768.1 L472.5 773.7 L474.0 779.6 L475.5 785.5 L477.0 788.4 L478.5 792.7 L480.0 796.8 L481.5 799.8 L483.0 802.6 L484.5 804.6 L486.0 807.3 L487.5 810.4 L489.0 814.4 L490.5 818.9 L492.0 824.0 L493.5 829.6 L495.0 835.3 L496.5 840.9 L498.0 847.0 L499.5 852.3 L501.0 856.4 L502.5 860.2 L504.0 864.2 L505.5 868.7 L507.0 872.4 L508.5 876.0 L510.0 880.3 L511.5 884.4 L513.0 887.7 L514.5 891.4 L516.0 895.6 L517.5 900.0 L519.0 903.8 L520.5 907.4 L522.0 909.5 L523.5 909.7 L525.0 909.7 L526.5 909.6 L528.0 909.1 L529.5 909.0 L531.0 907.6 L532.5 905.7 L534.0 903.6 L535.5 901.9 L537.0 902.0 L538.5 903.1 L540.0 904.1 L541.5 905.3 L543.0 905.6 L544.5 905.1 L546.0 904.8 L547.5 904.5 L549.0 904.1 L550.5 902.2 L552.0 898.9 L553.5 895.3 L555.0 891.0 L556.5 886.7 L558.0 882.8 L559.5 878.6 L561.0 874.1 L562.5 869.7 L564.0 865.2 L565.5 860.1 L567.0 855.0 L568.5 848.7 L570.0 843.6 L571.5 838.4 L573.0 833.6 L574.5 828.1 L576.0 826.5 L577.5 825.8 L579.0 826.2 L580.5 826.2 L582.0 824.7 L583.5 823.4 L585.0 821.3 L586.5 819.5 L588.0 818.0 L589.5 816.4 L591.0 814.2 L592.5 812.4 L594.0 811.0 L595.5 809.0 L597.0 806.7 L598.5 809.0 L600.0 810.8 L601.5 813.3 L603.0 817.0 L604.5 820.9 L606.0 824.8 L607.5 829.4 L609.0 833.8 L610.5 837.6 L612.0 841.6 L613.5 845.3 L615.0 849.6 L616.5 853.9 L618.0 857.2 L619.5 858.7 L621.0 859.3 L622.5 860.6 L624.0 862.2 L625.5 864.4 L627.0 867.5 L628.5 871.1 L630.0 875.1 L631.5 879.3 L633.0 884.8 L634.5 890.5 L636.0 895.7 L637.5 901.1 L639.0 906.3 L640.5 911.1 L642.0 915.2 L643.5 918.9 L645.0 921.4 L646.5 924.0 L648.0 926.3 L649.5 926.5 L651.0 925.0 L652.5 924.1 L654.0 922.9 L655.5 921.2 L657.0 919.8 L658.5 917.8 L660.0 917.1 L661.5 915.2 L663.0 912.1 L664.5 909.7 L666.0 907.0 L667.5 905.2 L669.0 904.5 L670.5 903.9" stroke="#1f77b4" stroke-width="0.9" stroke-dasharray="2.8 1.5"/>
<path d="M157.5 893.5 L159.0 893.4 L160.5 893.2 L162.0 893.6 L163.5 892.1 L165.0 887.7 L166.5 884.1 L168.0 880.0 L169.5 875.1 L171.0 871.0 L172.5 867.3 L174.0 864.3 L175.5 860.9 L177.0 857.5 L178.5 854.1 L180.0 850.8 L181.5 846.8 L183.0 842.3 L184.5 837.7 L186.0 832.6 L187.5 826.7 L189.0 820.8 L190.5 815.4 L192.0 809.4 L193.5 808.8 L195.0 811.5 L196.5 814.6 L198.0 818.0 L199.5 821.9 L201.0 825.1 L202.5 825.8 L204.0 826.7 L205.5 827.2 L207.0 832.9 L208.5 837.2 L210.0 841.2 L211.5 843.6 L213.0 844.4 L214.5 844.6 L216.0 845.3 L217.5 845.9 L219.0 847.2 L220.5 848.6 L222.0 850.0 L223.5 851.7 L225.0 852.5 L226.5 854.1 L228.0 856.2 L229.5 857.1 L231.0 858.1 L232.5 859.0 L234.0 860.7 L235.5 862.6 L237.0 864.1 L238.5 865.3 L240.0 866.4 L241.5 867.7 L243.0 868.4 L244.5 868.6 L246.0 869.9 L247.5 872.4 L249.0 874.5 L250.5 876.8 L252.0 878.9 L253.5 882.1 L255.0 886.5 L256.5 891.1 L258.0 896.1 L259.5 901.6 L261.0 906.3 L262.5 909.9 L264.0 913.8 L265.5 916.7 L267.0 919.1 L268.5 920.9 L270.0 920.1 L271.5 919.0 L273.0 917.7 L274.5 917.0 L276.0 916.2 L277.5 914.8 L279.0 913.2 L280.5 912.2 L282.0 911.3 L283.5 910.4 L285.0 908.9 L286.5 907.2 L288.0 905.1 L289.5 902.1 L291.0 899.3 L292.5 895.3 L294.0 890.1 L295.5 884.7 L297.0 879.5 L298.5 874.3 L300.0 869.5 L301.5 865.1 L303.0 861.5 L304.5 858.2 L306.0 854.7 L307.5 850.7 L309.0 846.8 L310.5 843.0 L312.0 839.0 L313.5 834.6 L315.0 830.5 L316.5 825.3 L318.0 820.6 L319.5 816.0 L321.0 813.2 L322.5 811.8 L324.0 810.5 L325.5 808.5 L327.0 806.2 L328.5 802.9 L330.0 798.9 L331.5 795.4 L333.0 790.5 L334.5 786.9 L336.0 783.4 L337.5 780.1 L339.0 776.3 L340.5 773.1 L342.0 771.3 L343.5 771.3 L345.0 771.3 L346.5 771.3 L348.0 771.3 L349.5 775.1 L351.0 777.6 L352.5 779.8 L354.0 785.1 L355.5 788.2 L357.0 790.9 L358.5 795.7 L360.0 799.6 L361.5 803.6 L363.0 808.1 L364.5 813.2 L366.0 818.6 L367.5 824.3 L369.0 831.3 L370.5 838.3 L372.0 842.5 L373.5 847.5 L375.0 851.6 L376.5 855.6 L378.0 859.0 L379.5 862.4 L381.0 867.6 L382.5 872.2 L384.0 876.5 L385.5 880.4 L387.0 884.1 L388.5 887.4 L390.0 890.7 L391.5 893.1 L393.0 896.4 L394.5 899.4 L396.0 902.2 L397.5 904.6 L399.0 907.3 L400.5 910.1 L402.0 913.2 L403.5 915.2 L405.0 917.0 L406.5 919.1 L408.0 920.2 L409.5 919.1 L411.0 917.5 L412.5 915.6 L414.0 913.6 L415.5 911.6 L417.0 909.6 L418.5 907.1 L420.0 904.9 L421.5 901.4 L423.0 898.7 L424.5 895.9 L426.0 893.8 L427.5 892.0 L429.0 889.9 L430.5 888.0 L432.0 886.0 L433.5 884.2 L435.0 882.2 L436.5 880.2 L438.0 877.4 L439.5 873.8 L441.0 869.8 L442.5 865.5 L444.0 859.5 L445.5 850.6 L447.0 841.5 L448.5 831.7 L450.0 821.4 L451.5 811.8 L453.0 802.9 L454.5 795.2 L456.0 788.7 L457.5 784.1 L459.0 782.1 L460.5 779.9 L462.0 777.2 L463.5 773.6 L465.0 772.3 L466.5 772.2 L468.0 771.3 L469.5 771.3 L471.0 771.3 L472.5 771.3 L474.0 771.3 L475.5 771.3 L477.0 771.3 L478.5 771.3 L480.0 771.3 L481.5 772.8 L483.0 777.3 L484.5 781.1 L486.0 784.3 L487.5 785.4 L489.0 786.6 L490.5 786.7 L492.0 787.5 L493.5 790.0 L495.0 793.8 L496.5 797.8 L498.0 803.3 L499.5 809.7 L501.0 816.5 L502.5 824.3 L504.0 831.4 L505.5 837.9 L507.0 843.9 L508.5 849.6 L510.0 854.9 L511.5 859.4 L513.0 862.9 L514.5 866.6 L516.0 870.0 L517.5 873.6 L519.0 876.9 L520.5 879.6 L522.0 883.0 L523.5 885.9 L525.0 889.0 L526.5 892.2 L528.0 895.6 L529.5 898.9 L531.0 902.3 L532.5 905.5 L534.0 908.2 L535.5 908.0 L537.0 908.2 L538.5 909.2 L540.0 909.5 L541.5 910.8 L543.0 910.7 L544.5 910.7 L546.0 911.3 L547.5 911.4 L549.0 912.5 L550.5 913.6 L552.0 914.2 L553.5 914.6 L555.0 914.0 L556.5 911.8 L558.0 909.7 L559.5 907.9 L561.0 907.0 L562.5 906.0 L564.0 903.1 L565.5 900.7 L567.0 898.1 L568.5 896.2 L570.0 893.4 L571.5 889.1 L573.0 885.1 L574.5 881.0 L576.0 876.1 L577.5 871.0 L579.0 865.8 L580.5 860.1 L582.0 856.1 L583.5 852.3 L585.0 849.2 L586.5 845.3 L588.0 843.9 L589.5 843.7 L591.0 843.3 L592.5 842.2 L594.0 839.5 L595.5 836.9 L597.0 833.3 L598.5 829.2 L600.0 824.4 L601.5 820.1 L603.0 816.0 L604.5 812.5 L606.0 810.4 L607.5 807.1 L609.0 805.2 L610.5 806.7 L612.0 810.1 L613.5 812.3 L615.0 816.2 L616.5 822.1 L618.0 827.1 L619.5 832.1 L621.0 836.5 L622.5 841.4 L624.0 846.6 L625.5 851.3 L627.0 856.1 L628.5 860.5 L630.0 864.4 L631.5 867.9 L633.0 869.5 L634.5 870.6 L636.0 872.3 L637.5 873.7 L639.0 876.6 L640.5 879.4 L642.0 882.1 L643.5 885.1 L645.0 889.7 L646.5 894.3 L648.0 899.1 L649.5 903.7 L651.0 908.8 L652.5 913.6 L654.0 918.6 L655.5 923.0 L657.0 925.8 L658.5 928.3 L660.0 930.4 L661.5 932.0 L663.0 931.4 L664.5 929.8 L666.0 928.6 L667.5 927.1 L669.0 925.7 L670.5 923.9" stroke="#1f77b4" stroke-width="0.9" stroke-dasharray="2.8 1.5"/>
<path d="M157.5 884.6 L159.0 879.8 L160.5 874.9 L162.0 870.2 L163.5 865.9 L165.0 862.1 L166.5 858.1 L168.0 854.8 L169.5 851.9 L171.0 848.9 L172.5 845.8 L174.0 842.7 L175.5 840.3 L177.0 837.9 L178.5 834.6 L180.0 831.5 L181.5 827.1 L183.0 822.1 L184.5 817.9 L186.0 817.9 L187.5 817.1 L189.0 817.7 L190.5 817.7 L192.0 818.8 L193.5 817.6 L195.0 817.0 L196.5 817.1 L198.0 821.2 L199.5 826.0 L201.0 830.8 L202.5 835.1 L204.0 837.0 L205.5 838.2 L207.0 839.1 L208.5 840.5 L210.0 841.6 L211.5 842.0 L213.0 842.8 L214.5 843.9 L216.0 844.8 L217.5 845.7 L219.0 846.5 L220.5 847.3 L222.0 848.1 L223.5 848.6 L225.0 849.5 L226.5 850.2 L228.0 850.3 L229.5 850.2 L231.0 850.1 L232.5 849.9 L234.0 849.9 L235.5 850.5 L237.0 851.6 L238.5 855.4 L240.0 859.2 L241.5 863.0 L243.0 866.4 L244.5 869.4 L246.0 873.0 L247.5 875.8 L249.0 878.8 L250.5 881.4 L252.0 884.2 L253.5 885.7 L255.0 887.1 L256.5 889.3 L258.0 891.5 L259.5 893.9 L261.0 895.2 L262.5 895.7 L264.0 896.6 L265.5 898.0 L267.0 899.6 L268.5 900.9 L270.0 901.1 L271.5 901.6 L273.0 902.2 L274.5 902.3 L276.0 902.0 L277.5 901.5 L279.0 899.8 L280.5 898.5 L282.0 896.0 L283.5 893.0 L285.0 888.6 L286.5 884.2 L288.0 880.2 L289.5 875.9 L291.0 872.2 L292.5 868.5 L294.0 864.9 L295.5 861.4 L297.0 857.9 L298.5 854.0 L300.0 850.5 L301.5 846.2 L303.0 841.7 L304.5 838.2 L306.0 834.8 L307.5 832.3 L309.0 829.2 L310.5 827.3 L312.0 825.6 L313.5 825.5 L315.0 825.0 L316.5 823.4 L318.0 821.3 L319.5 818.8 L321.0 815.5 L322.5 811.7 L324.0 809.2 L325.5 805.8 L327.0 803.2 L328.5 802.0 L330.0 800.6 L331.5 797.8 L333.0 795.7 L334.5 795.2 L336.0 795.3 L337.5 795.2 L339.0 796.5 L340.5 801.1 L342.0 804.8 L343.5 807.4 L345.0 810.6 L346.5 812.6 L348.0 814.1 L349.5 815.4 L351.0 817.5 L352.5 819.8 L354.0 821.7 L355.5 824.3 L357.0 828.0 L358.5 833.0 L360.0 838.4 L361.5 844.4 L363.0 847.8 L364.5 850.6 L366.0 853.4 L367.5 854.6 L369.0 855.1 L370.5 855.6 L372.0 857.6 L373.5 859.7 L375.0 861.8 L376.5 863.8 L378.0 866.3 L379.5 869.5 L381.0 873.7 L382.5 877.8 L384.0 881.9 L385.5 886.4 L387.0 891.1 L388.5 895.4 L390.0 899.1 L391.5 902.8 L393.0 906.8 L394.5 909.4 L396.0 910.8 L397.5 911.3 L399.0 912.3 L400.5 910.2 L402.0 907.9 L403.5 905.6 L405.0 904.1 L406.5 902.6 L408.0 901.9 L409.5 900.7 L411.0 899.5 L412.5 898.0 L414.0 896.1 L415.5 894.3 L417.0 892.0 L418.5 889.3 L420.0 886.6 L421.5 883.6 L423.0 880.5 L424.5 877.1 L426.0 873.7 L427.5 870.3 L429.0 866.5 L430.5 862.6 L432.0 859.3 L433.5 855.6 L435.0 852.4 L436.5 845.7 L438.0 838.7 L439.5 831.3 L441.0 823.5 L442.5 817.1 L444.0 810.1 L445.5 803.9 L447.0 797.0 L448.5 791.5 L450.0 786.7 L451.5 782.4 L453.0 777.2 L454.5 773.2 L456.0 769.4 L457.5 769.4 L459.0 769.4 L460.5 769.4 L462.0 769.4 L463.5 769.4 L465.0 769.4 L466.5 769.4 L468.0 769.4 L469.5 769.4 L471.0 769.4 L472.5 769.4 L474.0 769.4 L475.5 770.1 L477.0 774.2 L478.5 778.0 L480.0 782.9 L481.5 787.8 L483.0 795.2 L484.5 802.1 L486.0 808.3 L487.5 815.1 L489.0 820.3 L490.5 825.7 L492.0 830.0 L493.5 834.1 L495.0 838.1 L496.5 841.8 L498.0 846.1 L499.5 848.7 L501.0 852.0 L502.5 855.0 L504.0 857.7 L505.5 860.2 L507.0 862.8 L508.5 865.7 L510.0 869.1 L511.5 871.6 L513.0 874.3 L514.5 877.3 L516.0 880.7 L517.5 884.1 L519.0 888.1 L520.5 891.9 L522.0 895.7 L523.5 898.9 L525.0 902.3 L526.5 902.6 L528.0 902.3 L529.5 902.1 L531.0 901.7 L532.5 900.3 L534.0 898.8 L535.5 897.0 L537.0 895.2 L538.5 893.1 L540.0 892.1 L541.5 892.0 L543.0 892.5 L544.5 892.8 L546.0 893.3 L547.5 892.1 L549.0 891.0 L550.5 890.2 L552.0 889.6 L553.5 889.0 L555.0 886.7 L556.5 884.1 L558.0 881.7 L559.5 879.2 L561.0 876.3 L562.5 872.9 L564.0 869.5 L565.5 865.9 L567.0 861.4 L568.5 856.2 L570.0 851.3 L571.5 845.7 L573.0 840.4 L574.5 836.4 L576.0 831.9 L577.5 828.8 L579.0 825.1 L580.5 824.5 L582.0 824.3 L583.5 823.7 L585.0 822.9 L586.5 820.4 L588.0 817.3 L589.5 814.3 L591.0 810.6 L592.5 807.1 L594.0 804.5 L595.5 801.3 L597.0 799.6 L598.5 798.0 L600.0 796.1 L601.5 796.6 L603.0 799.5 L604.5 803.4 L606.0 807.8 L607.5 812.6 L609.0 818.1 L610.5 823.7 L612.0 828.6 L613.5 833.4 L615.0 838.2 L616.5 842.7 L618.0 847.1 L619.5 851.6 L621.0 856.0 L622.5 860.6 L624.0 863.3 L625.5 866.1 L627.0 868.8 L628.5 871.1 L630.0 874.8 L631.5 878.7 L633.0 882.6 L634.5 886.2 L636.0 890.3 L637.5 894.6 L639.0 898.2 L640.5 901.7 L642.0 905.9 L643.5 909.9 L645.0 914.1 L646.5 917.6 L648.0 920.1 L649.5 922.3 L651.0 925.1 L652.5 928.1 L654.0 929.2 L655.5 929.5 L657.0 929.9 L658.5 930.5 L660.0 930.8 L661.5 931.1 L663.0 930.9 L664.5 930.7 L666.0 928.6 L667.5 925.5 L669.0 922.7 L670.5 920.2" stroke="#1f77b4" stroke-width="0.9" stroke-dasharray="2.8 1.5"/>
<path d="M157.5 859.3 L159.0 856.1 L160.5 852.8 L162.0 849.7 L163.5 846.9 L165.0 843.5 L166.5 839.5 L168.0 835.2 L169.5 831.4 L171.0 828.0 L172.5 824.1 L174.0 820.4 L175.5 816.8 L177.0 814.5 L178.5 817.5 L180.0 820.8 L181.5 823.0 L183.0 824.6 L184.5 825.5 L186.0 823.2 L187.5 819.9 L189.0 816.1 L190.5 814.2 L192.0 817.1 L193.5 820.1 L195.0 824.2 L196.5 826.6 L198.0 829.3 L199.5 832.9 L201.0 836.0 L202.5 838.7 L204.0 841.7 L205.5 844.2 L207.0 845.8 L208.5 847.0 L210.0 848.1 L211.5 849.1 L213.0 850.2 L214.5 850.2 L216.0 851.0 L217.5 851.0 L219.0 852.2 L220.5 853.6 L222.0 854.6 L223.5 855.6 L225.0 856.9 L226.5 857.9 L228.0 858.9 L229.5 859.4 L231.0 862.8 L232.5 866.6 L234.0 869.7 L235.5 872.7 L237.0 875.3 L238.5 878.0 L240.0 880.9 L241.5 884.0 L243.0 887.0 L244.5 890.3 L246.0 892.6 L247.5 894.7 L249.0 896.9 L250.5 899.7 L252.0 902.6 L253.5 905.2 L255.0 906.5 L256.5 907.6 L258.0 908.6 L259.5 910.3 L261.0 911.2 L262.5 910.1 L264.0 908.7 L265.5 907.2 L267.0 905.0 L268.5 902.9 L270.0 899.6 L271.5 896.4 L273.0 893.1 L274.5 890.3 L276.0 887.7 L277.5 884.2 L279.0 880.3 L280.5 876.8 L282.0 873.4 L283.5 869.6 L285.0 865.1 L286.5 860.5 L288.0 856.5 L289.5 852.0 L291.0 847.2 L292.5 842.7 L294.0 838.4 L295.5 835.0 L297.0 832.1 L298.5 829.9 L300.0 828.1 L301.5 827.5 L303.0 827.7 L304.5 828.2 L306.0 829.1 L307.5 829.7 L309.0 831.4 L310.5 831.7 L312.0 830.9 L313.5 829.7 L315.0 828.2 L316.5 826.2 L318.0 823.4 L319.5 821.1 L321.0 819.5 L322.5 817.5 L324.0 815.9 L325.5 814.2 L327.0 814.6 L328.5 815.2 L330.0 817.2 L331.5 820.0 L333.0 824.4 L334.5 827.5 L336.0 830.6 L337.5 834.3 L339.0 837.1 L340.5 838.9 L342.0 840.3 L343.5 841.8 L345.0 842.4 L346.5 842.9 L348.0 844.2 L349.5 844.5 L351.0 846.2 L352.5 847.4 L354.0 849.1 L355.5 849.8 L357.0 849.9 L358.5 851.0 L360.0 851.3 L361.5 851.8 L363.0 852.3 L364.5 854.6 L366.0 858.5 L367.5 862.3 L369.0 866.1 L370.5 870.2 L372.0 874.4 L373.5 878.6 L375.0 882.3 L376.5 885.3 L378.0 888.4 L379.5 891.0 L381.0 893.1 L382.5 895.6 L384.0 897.6 L385.5 900.6 L387.0 903.3 L388.5 905.0 L390.0 906.5 L391.5 908.5 L393.0 908.4 L394.5 907.2 L396.0 905.4 L397.5 903.5 L399.0 901.4 L400.5 899.7 L402.0 897.7 L403.5 895.9 L405.0 894.1 L406.5 891.7 L408.0 889.1 L409.5 887.2 L411.0 884.7 L412.5 882.7 L414.0 880.2 L415.5 877.4 L417.0 875.1 L418.5 872.7 L420.0 870.7 L421.5 868.1 L423.0 865.5 L424.5 862.9 L426.0 860.3 L427.5 858.4 L429.0 855.0 L430.5 849.9 L432.0 844.7 L433.5 839.7 L435.0 833.6 L436.5 828.3 L438.0 822.0 L439.5 815.3 L441.0 808.4 L442.5 801.8 L444.0 795.2 L445.5 787.9 L447.0 779.9 L448.5 771.4 L450.0 767.6 L451.5 767.6 L453.0 767.6 L454.5 767.6 L456.0 767.6 L457.5 767.6 L459.0 767.6 L460.5 767.6 L462.0 767.6 L463.5 770.4 L465.0 777.0 L466.5 782.8 L468.0 788.5 L469.5 793.2 L471.0 796.2 L472.5 799.0 L474.0 800.8 L475.5 803.4 L477.0 807.5 L478.5 811.0 L480.0 813.7 L481.5 817.1 L483.0 820.1 L484.5 823.3 L486.0 826.5 L487.5 829.5 L489.0 832.8 L490.5 835.7 L492.0 839.2 L493.5 843.0 L495.0 847.2 L496.5 851.2 L498.0 855.0 L499.5 858.9 L501.0 863.5 L502.5 867.6 L504.0 871.6 L505.5 874.6 L507.0 877.6 L508.5 880.4 L510.0 883.0 L511.5 885.2 L513.0 887.9 L514.5 890.4 L516.0 893.1 L517.5 895.6 L519.0 897.0 L520.5 897.2 L522.0 897.2 L523.5 897.4 L525.0 898.0 L526.5 898.0 L528.0 897.5 L529.5 896.7 L531.0 896.1 L532.5 895.3 L534.0 896.2 L535.5 897.3 L537.0 899.0 L538.5 900.1 L540.0 899.7 L541.5 898.7 L543.0 897.6 L544.5 896.5 L546.0 895.3 L547.5 893.3 L549.0 890.3 L550.5 886.7 L552.0 883.2 L553.5 879.3 L555.0 875.9 L556.5 872.0 L558.0 867.9 L559.5 863.9 L561.0 859.5 L562.5 854.7 L564.0 850.5 L565.5 846.2 L567.0 842.4 L568.5 839.4 L570.0 836.3 L571.5 832.5 L573.0 831.0 L574.5 829.5 L576.0 828.3 L577.5 826.9 L579.0 823.8 L580.5 819.5 L582.0 814.8 L583.5 810.4 L585.0 805.4 L586.5 800.3 L588.0 795.6 L589.5 791.1 L591.0 787.1 L592.5 784.2 L594.0 781.3 L595.5 783.0 L597.0 786.3 L598.5 789.8 L600.0 795.0 L601.5 801.1 L603.0 806.3 L604.5 812.1 L606.0 817.4 L607.5 822.7 L609.0 827.1 L610.5 832.2 L612.0 837.2 L613.5 842.3 L615.0 846.1 L616.5 849.2 L618.0 850.9 L619.5 853.3 L621.0 855.8 L622.5 858.7 L624.0 862.3 L625.5 866.5 L627.0 869.8 L628.5 873.6 L630.0 878.0 L631.5 882.0 L633.0 885.8 L634.5 889.4 L636.0 893.2 L637.5 897.1 L639.0 901.3 L640.5 905.3 L642.0 908.4 L643.5 911.7 L645.0 915.7 L646.5 918.6 L648.0 919.8 L649.5 921.1 L651.0 922.3 L652.5 922.7 L654.0 922.4 L655.5 922.2 L657.0 921.9 L658.5 920.8 L660.0 918.7 L661.5 916.4 L663.0 914.4 L664.5 913.4 L666.0 913.3 L667.5 913.3 L669.0 913.3 L670.5 913.0" stroke="#1f77b4" stroke-width="0.9" stroke-dasharray="2.8 1.5"/>
<path d="M138.3 932.4 L148.6 909.3 L158.9 878.4 L169.1 847.6 L179.4 814.1 L187.1 797.4 L194.9 792.3 L202.6 796.1 L210.3 806.4 L218.0 829.6 L225.7 852.7 L236.0 878.4 L246.3 893.9 L256.6 900.3 L266.9 902.9 L277.1 895.1 L287.7 875.9 L295.4 850.1 L303.1 821.9 L309.6 796.1 L316.0 782.0 L326.3 779.4 L334.0 783.3 L341.7 793.6 L349.4 814.1 L357.1 834.7 L364.9 852.7 L372.6 863.0 L380.3 878.4 L388.0 899.0 L395.7 914.4 L403.4 922.1 L411.1 919.6 L418.9 899.0 L426.6 870.7 L434.3 839.9 L442.0 806.4 L449.7 780.7 L455.1 775.6 L461.6 771.7 L468.0 776.9 L475.7 788.4 L483.4 806.4 L491.1 829.6 L498.9 847.6 L506.6 865.6 L514.3 881.0 L522.0 899.0 L529.7 911.9 L537.4 920.9 L545.1 924.7 L552.9 922.1 L560.6 906.7 L566.0 887.0 L572.0 867.0 L578.0 849.0 L584.0 835.0 L590.0 825.0 L595.0 822.0 L601.0 823.0 L607.0 831.0 L612.0 839.0 L618.0 851.0 L624.0 863.0 L630.0 871.0 L636.0 879.0 L642.0 887.0 L648.0 893.0 L655.0 899.0" stroke="#ff7f0e" stroke-width="4"/>
<path d="M153.7 882.3 L161.4 860.4 L170.4 839.9 L176.9 821.9 L183.3 801.3 L191.0 811.6 L196.1 807.7 L201.3 824.4 L206.4 832.1 L211.6 839.9 L219.3 850.1 L227.0 856.6 L236.0 859.1 L243.7 875.9 L251.4 896.4 L259.1 909.3 L266.9 909.3 L274.6 901.6 L282.3 891.3 L287.7 878.4 L295.4 857.9 L303.1 837.3 L310.9 818.0 L318.6 812.9 L325.0 809.0 L328.9 806.4 L332.7 798.7 L337.9 792.3 L343.0 798.7 L348.1 811.6 L354.6 829.6 L361.0 847.6 L364.9 852.7 L370.0 855.3 L377.7 870.7 L385.4 888.7 L393.1 904.1 L398.3 909.3 L403.4 904.1 L411.1 897.7 L418.9 886.1 L426.6 870.7 L434.3 852.7 L440.7 824.4 L447.1 798.7 L454.9 778.1 L462.9 773.0 L469.3 778.1 L475.7 791.0 L480.9 798.7 L487.3 816.7 L493.7 834.7 L501.4 855.3 L509.1 873.3 L516.9 886.1 L524.6 901.6 L532.3 902.9 L538.7 900.3 L545.1 904.1 L552.9 897.7 L560.6 881.0 L566.0 867.0 L572.0 849.0 L578.0 835.0 L584.0 832.0 L590.0 821.0 L595.0 813.0 L600.0 808.0 L605.0 817.0 L610.0 831.0 L616.0 847.0 L622.0 863.0 L628.0 869.0 L634.0 879.0 L640.0 895.0 L646.0 913.0 L652.0 925.0 L657.0 926.0 L664.0 923.0 L670.0 913.0" stroke="#1f77b4" stroke-width="4"/>
</g>
<rect x="112.2" y="761.2" width="584.5" height="185.4" fill="none" stroke="#000" stroke-width="2.2"/>
<line x1="138.6" y1="946.6" x2="138.6" y2="938.6" stroke="#000" stroke-width="2"/>
<text x="133.8" y="969.2" class="tk" textLength="9.5" lengthAdjust="spacingAndGlyphs">0</text>
<line x1="212.3" y1="946.6" x2="212.3" y2="938.6" stroke="#000" stroke-width="2"/>
<text x="197.0" y="969.2" class="tk" textLength="30.6" lengthAdjust="spacingAndGlyphs">200</text>
<line x1="286.0" y1="946.6" x2="286.0" y2="938.6" stroke="#000" stroke-width="2"/>
<text x="270.7" y="969.2" class="tk" textLength="30.6" lengthAdjust="spacingAndGlyphs">400</text>
<line x1="359.7" y1="946.6" x2="359.7" y2="938.6" stroke="#000" stroke-width="2"/>
<text x="344.4" y="969.2" class="tk" textLength="30.6" lengthAdjust="spacingAndGlyphs">600</text>
<line x1="433.5" y1="946.6" x2="433.5" y2="938.6" stroke="#000" stroke-width="2"/>
<text x="418.2" y="969.2" class="tk" textLength="30.6" lengthAdjust="spacingAndGlyphs">800</text>
<line x1="507.2" y1="946.6" x2="507.2" y2="938.6" stroke="#000" stroke-width="2"/>
<text x="486.8" y="969.2" class="tk" textLength="40.8" lengthAdjust="spacingAndGlyphs">1000</text>
<line x1="580.9" y1="946.6" x2="580.9" y2="938.6" stroke="#000" stroke-width="2"/>
<text x="560.5" y="969.2" class="tk" textLength="40.8" lengthAdjust="spacingAndGlyphs">1200</text>
<line x1="654.6" y1="946.6" x2="654.6" y2="938.6" stroke="#000" stroke-width="2"/>
<text x="634.2" y="969.2" class="tk" textLength="40.8" lengthAdjust="spacingAndGlyphs">1400</text>
<line x1="112.2" y1="944.8" x2="120.2" y2="944.8" stroke="#000" stroke-width="2"/>
<text x="59.6" y="951.3" class="tk" textLength="41.7" lengthAdjust="spacingAndGlyphs">−1.0</text>
<line x1="112.2" y1="900.9" x2="120.2" y2="900.9" stroke="#000" stroke-width="2"/>
<text x="59.6" y="907.4" class="tk" textLength="41.7" lengthAdjust="spacingAndGlyphs">−0.5</text>
<line x1="112.2" y1="857.0" x2="120.2" y2="857.0" stroke="#000" stroke-width="2"/>
<text x="75.5" y="863.5" class="tk" textLength="25.8" lengthAdjust="spacingAndGlyphs">0.0</text>
<line x1="112.2" y1="813.0" x2="120.2" y2="813.0" stroke="#000" stroke-width="2"/>
<text x="75.5" y="819.5" class="tk" textLength="25.8" lengthAdjust="spacingAndGlyphs">0.5</text>
<line x1="112.2" y1="769.1" x2="120.2" y2="769.1" stroke="#000" stroke-width="2"/>
<text x="75.5" y="775.6" class="tk" textLength="25.8" lengthAdjust="spacingAndGlyphs">1.0</text>
<text x="379.1" y="999.1" class="ttl" textLength="50.9" lengthAdjust="spacingAndGlyphs">Days</text>
<text transform="translate(19.6 854.4) rotate(-90)" x="-59.7" class="ttl" textLength="119.3" lengthAdjust="spacingAndGlyphs">Normalized</text>
<text transform="translate(42.3 851.9) rotate(-90)" x="-48.2" class="ttl" textLength="96.3" lengthAdjust="spacingAndGlyphs">deviation</text>
<text x="112.5" y="752" class="pl" style="font-size:24px">D</text>
<rect x="143" y="730.6" width="551.4" height="26.8" fill="#fff" stroke="#cfcfcf" stroke-width="2" opacity="0.9"/>
<line x1="144.5" y1="742.2" x2="170.3" y2="742.2" stroke="#ff7f0e" stroke-width="3.6"/>
<line x1="518" y1="741.3" x2="544" y2="741.3" stroke="#1f77b4" stroke-width="3.6"/>
<text x="188" y="750.7" class="lg" textLength="292.9" lengthAdjust="spacingAndGlyphs">KE(<tspan font-style="italic">t</tspan><tspan dy="-8" font-size="15">*</tspan><tspan dy="8"> = </tspan><tspan font-style="italic">t</tspan> + 27 log<tspan dy="4" font-size="15">2</tspan><tspan dy="-4">(</tspan><tspan font-style="italic">ℓ</tspan>/<tspan font-style="italic">ℓ</tspan><tspan dy="4" font-size="15">ref</tspan><tspan dy="-4">))</tspan></text>
<text x="562.6" y="750.7" class="lg" textLength="127" lengthAdjust="spacingAndGlyphs">−Π(<tspan font-style="italic">t</tspan><tspan dy="-8" font-size="15">*</tspan><tspan dy="8"> − 41)</tspan></text>
<text x="151.6" y="19.3" class="ttl" textLength="144" lengthAdjust="spacingAndGlyphs">KE spectrum</text>
<text x="379" y="19.2" class="ttl" textLength="186" lengthAdjust="spacingAndGlyphs">KE scale transfer</text>
<text transform="translate(21.9 130.4) rotate(-90)" x="-30.8" class="ttl" textLength="61.5" lengthAdjust="spacingAndGlyphs">North</text>
<text transform="translate(47.2 130.4) rotate(-90)" x="-32" class="ttl" textLength="64" lengthAdjust="spacingAndGlyphs"><tspan font-style="italic">ℓ</tspan> (km)</text>
<text transform="translate(21.9 370.7) rotate(-90)" x="-39.1" class="ttl" textLength="78.3" lengthAdjust="spacingAndGlyphs">Tropics</text>
<text transform="translate(47.2 370.7) rotate(-90)" x="-32" class="ttl" textLength="64" lengthAdjust="spacingAndGlyphs"><tspan font-style="italic">ℓ</tspan> (km)</text>
<text transform="translate(21.9 610.4) rotate(-90)" x="-29.8" class="ttl" textLength="59.5" lengthAdjust="spacingAndGlyphs">South</text>
<text transform="translate(47.2 610.4) rotate(-90)" x="-32" class="ttl" textLength="64" lengthAdjust="spacingAndGlyphs"><tspan font-style="italic">ℓ</tspan> (km)</text></svg></body></html>
